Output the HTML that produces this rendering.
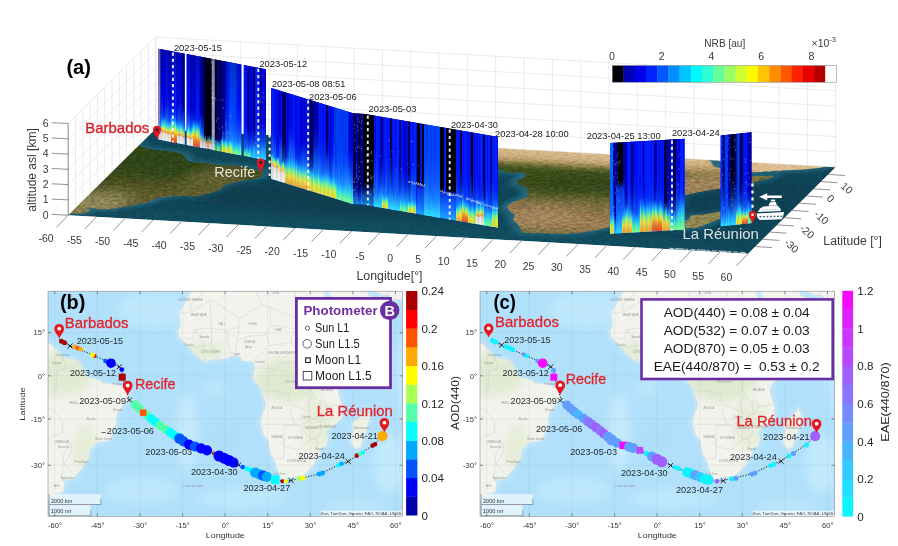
<!DOCTYPE html>
<html lang="en"><head><meta charset="utf-8"><title>Ship-borne lidar and photometer transect</title>
<style>
html,body{margin:0;padding:0;background:#fff;overflow:hidden;}
body{width:898px;height:546px;overflow:hidden;}
svg{display:block;font-family:"Liberation Sans", Arial, Helvetica, sans-serif;}
</style></head><body>
<svg width="898" height="546" viewBox="0 0 898 546">
<defs><clipPath id="cf"><polygon points="68.2,215.2 155.7,128.7 835.7,167.2 748.2,253.7"/></clipPath><filter id="b1" x="-20%" y="-20%" width="140%" height="140%"><feGaussianBlur stdDeviation="0.5"/></filter><filter id="f1" x="-5%" y="-5%" width="110%" height="110%"><feGaussianBlur stdDeviation="0.1 0.35"/></filter><filter id="f3" x="-20%" y="-20%" width="140%" height="140%"><feGaussianBlur stdDeviation="0.5 1.8"/></filter><filter id="f6" x="-30%" y="-30%" width="160%" height="160%"><feGaussianBlur stdDeviation="1.2 4"/></filter><filter id="b3" x="-20%" y="-20%" width="140%" height="140%"><feGaussianBlur stdDeviation="2.2"/></filter><filter id="b6" x="-30%" y="-30%" width="160%" height="160%"><feGaussianBlur stdDeviation="5"/></filter><linearGradient id="gaf" gradientUnits="userSpaceOnUse" x1="0" y1="20" x2="0" y2="-36">
<stop offset="0" stop-color="#d2b384"/><stop offset="0.07" stop-color="#c9a676"/><stop offset="0.125" stop-color="#a89058"/>
<stop offset="0.18" stop-color="#62662f"/><stop offset="0.23" stop-color="#3e501b"/><stop offset="0.357" stop-color="#364a18"/>
<stop offset="0.464" stop-color="#485322"/><stop offset="0.554" stop-color="#686434"/><stop offset="0.625" stop-color="#857045"/>
<stop offset="0.714" stop-color="#967850"/><stop offset="0.84" stop-color="#9c7d53"/><stop offset="0.93" stop-color="#87744a"/><stop offset="0.98" stop-color="#6e673d"/></linearGradient><linearGradient id="gsa" gradientUnits="userSpaceOnUse" x1="-62" y1="12" x2="-38" y2="-40">
<stop offset="0" stop-color="#2f4616"/><stop offset="0.3" stop-color="#34481a"/><stop offset="0.48" stop-color="#474e20"/>
<stop offset="0.66" stop-color="#5c5a2c"/><stop offset="0.85" stop-color="#70683b"/><stop offset="1" stop-color="#847a4e"/></linearGradient><clipPath id="cland"><polygon points="-75,12 -72,12 -70,12 -68,10.5 -64,10.5 -62,10.7 -61,9.5 -60,8.5 -58.5,7 -57,6 -55,5.9 -53,5.5 -51.5,4.5 -50,1.8 -49.5,0.5 -48.5,-0.5 -47.5,-0.6 -45,-0.9 -44,-1.6 -42,-1.4 -40,-1.3 -38.5,-2.0 -37,-3.0 -35.0,-4.0 -34.3,-6.6 -34.6,-9 -36.5,-10.5 -37.5,-12 -38.5,-13 -39,-15 -39,-17.5 -39.7,-19.5 -40.5,-21 -41,-22 -42,-23 -44.5,-23.2 -46.3,-24 -48,-25.5 -48.6,-27 -48.7,-28.5 -50,-30 -51,-31.5 -52.2,-32.5 -53.5,-34 -54.9,-34.9 -56.5,-34.8 -58.4,-34.3 -57.2,-36 -57.5,-38 -59,-38.7 -62,-39 -62.3,-40.5 -65,-41 -65,-43 -64.5,-45 -67,-46 -75,-47"/><polygon points="-6,36 -9.5,31 -10,29 -13,27.5 -15,24 -17,21 -16.5,19 -16.5,16 -17.5,14.7 -16.7,12.5 -15,11 -13.5,9.5 -13,8.5 -11.5,7 -9.5,5.5 -7.5,4.4 -5,5 -3,5.1 -1,5.3 1,6 3,6.4 4.5,6.2 5.5,4.5 7,4.4 8.5,4.6 9.5,3.8 9.8,2 9.3,0.5 9,-1 10,-3 11.5,-4.5 12.2,-6 13,-8.5 13.7,-11 12.5,-13.5 11.8,-16 11.8,-18 13,-21 14.5,-23 14.8,-25 15.2,-27 16.5,-29 17.5,-31.5 18.3,-33 18.5,-34.3 20,-34.8 22,-34.2 24,-34.1 25.7,-34 27.5,-33.2 29,-32 30.5,-30.5 31.5,-29 32.8,-27 32.8,-25.5 35,-24.5 35.5,-22 34.8,-20 36.5,-18.5 38.5,-17 40.5,-15.5 40.7,-13 40.5,-10.5 39.5,-8 39,-6 39.5,-4 41,-2 43,0.5 45.5,2.5 48,5 49.5,8 51,10.5 51.2,11.8 49,11.3 46,10.8 44,10.5 43.2,11.5 43,12.8 41,15 39.5,16 38.5,18.5 37.3,20.5 37,22 35.5,24 34.5,27 32.5,30 32.3,31.2 30,31.3 25,31.8 20,32 19,30.3 15,32.5 11,33.5 10,37 5,36.8 0,35.8 -3,35.2"/><polygon points="49.3,-12 50.3,-15.5 49.5,-17.5 48.8,-20 47.8,-23 47,-25 45.3,-25.5 44,-24.5 43.5,-22 44.3,-20 44,-17 46,-15.8 48,-13.5"/><polygon points="34.9,29.5 36.5,26 38.5,22.5 39.5,20 41,18 42.5,15.5 43.3,12.8 45,12.8 48,14 52,16 55,17.3 57.5,19 59.8,22.5 58.5,23.7 56.5,24.5 56.3,26.3 54,24.2 51.5,24.3 51.3,26 50.2,26.5 48,29.5 50,30.2 52,27.8 55,26.7 57,27 58,25.5 62,25.2 70,25.4 70,40 34.9,40"/></clipPath><filter id="noise" x="0" y="0" width="100%" height="100%" color-interpolation-filters="sRGB"><feTurbulence type="fractalNoise" baseFrequency="0.22 0.5" numOctaves="3" seed="11"/><feColorMatrix type="matrix" values="1.6 0 0 0 -0.3  1.6 0 0 0 -0.3  1.6 0 0 0 -0.3  0 0 0 0 1"/></filter><linearGradient id="blw" x1="0" y1="0" x2="0" y2="1"><stop offset="0" stop-color="#fff4ee" stop-opacity="1"/><stop offset="0.3" stop-color="#ffdccc" stop-opacity="1"/><stop offset="0.36" stop-color="#ff9a30" stop-opacity="1"/><stop offset="0.46" stop-color="#ffe830" stop-opacity="1"/><stop offset="0.58" stop-color="#70ffa0" stop-opacity="0.95"/><stop offset="0.72" stop-color="#20d0ff" stop-opacity="0.8"/><stop offset="1" stop-color="#1080ff" stop-opacity="0"/></linearGradient><linearGradient id="blW" x1="0" y1="0" x2="0" y2="1"><stop offset="0" stop-color="#fff2ea" stop-opacity="1"/><stop offset="0.5" stop-color="#ffe0cc" stop-opacity="1"/><stop offset="0.58" stop-color="#ffb050" stop-opacity="1"/><stop offset="0.68" stop-color="#ffe830" stop-opacity="1"/><stop offset="0.8" stop-color="#80ff90" stop-opacity="0.95"/><stop offset="0.9" stop-color="#20d0ff" stop-opacity="0.8"/><stop offset="1" stop-color="#1080ff" stop-opacity="0"/></linearGradient><linearGradient id="blp" x1="0" y1="0" x2="0" y2="1"><stop offset="0" stop-color="#f4e4e0" stop-opacity="1"/><stop offset="0.4" stop-color="#e8c8c0" stop-opacity="1"/><stop offset="0.5" stop-color="#f0b060" stop-opacity="0.9"/><stop offset="0.65" stop-color="#70e0c0" stop-opacity="0.8"/><stop offset="1" stop-color="#1080ff" stop-opacity="0"/></linearGradient><linearGradient id="blr" x1="0" y1="0" x2="0" y2="1"><stop offset="0" stop-color="#ff3a10" stop-opacity="1"/><stop offset="0.22" stop-color="#ff7a10" stop-opacity="1"/><stop offset="0.42" stop-color="#ffe020" stop-opacity="1"/><stop offset="0.58" stop-color="#80ff80" stop-opacity="0.95"/><stop offset="0.74" stop-color="#20d0ff" stop-opacity="0.8"/><stop offset="1" stop-color="#1080ff" stop-opacity="0"/></linearGradient><linearGradient id="bly" x1="0" y1="0" x2="0" y2="1"><stop offset="0" stop-color="#ffd820" stop-opacity="1"/><stop offset="0.28" stop-color="#e0f030" stop-opacity="1"/><stop offset="0.5" stop-color="#70ff90" stop-opacity="0.95"/><stop offset="0.72" stop-color="#20d0ff" stop-opacity="0.75"/><stop offset="1" stop-color="#1080ff" stop-opacity="0"/></linearGradient><linearGradient id="blg" x1="0" y1="0" x2="0" y2="1"><stop offset="0" stop-color="#90ff70" stop-opacity="1"/><stop offset="0.35" stop-color="#40f0c0" stop-opacity="0.95"/><stop offset="0.65" stop-color="#20c0ff" stop-opacity="0.7"/><stop offset="1" stop-color="#1080ff" stop-opacity="0"/></linearGradient><linearGradient id="blc" x1="0" y1="0" x2="0" y2="1"><stop offset="0" stop-color="#30e0ff" stop-opacity="1"/><stop offset="0.5" stop-color="#20a8ff" stop-opacity="0.8"/><stop offset="1" stop-color="#1070ff" stop-opacity="0"/></linearGradient><linearGradient id="bla" x1="0" y1="0" x2="0" y2="1"><stop offset="0" stop-color="#22a4ff" stop-opacity="0.95"/><stop offset="0.4" stop-color="#1674ff" stop-opacity="0.7"/><stop offset="1" stop-color="#0840ff" stop-opacity="0"/></linearGradient><linearGradient id="blh" x1="0" y1="0" x2="0" y2="1"><stop offset="0" stop-color="#34dcff" stop-opacity="0.95"/><stop offset="0.35" stop-color="#26a8ff" stop-opacity="0.75"/><stop offset="1" stop-color="#1060ff" stop-opacity="0"/></linearGradient><linearGradient id="blu" x1="0" y1="0" x2="0" y2="1"><stop offset="0" stop-color="#1c90ff" stop-opacity="1"/><stop offset="0.55" stop-color="#0c50f4" stop-opacity="1"/><stop offset="0.85" stop-color="#0a34e4" stop-opacity="0.95"/><stop offset="1" stop-color="#0a30e0" stop-opacity="0"/></linearGradient><linearGradient id="blo" x1="0" y1="0" x2="0" y2="1"><stop offset="0" stop-color="#ff9a20" stop-opacity="1"/><stop offset="0.3" stop-color="#ffe030" stop-opacity="1"/><stop offset="0.5" stop-color="#90ff70" stop-opacity="0.95"/><stop offset="0.7" stop-color="#20d0ff" stop-opacity="0.8"/><stop offset="1" stop-color="#1080ff" stop-opacity="0"/></linearGradient><linearGradient id="dtop" x1="0" y1="0" x2="0" y2="1"><stop offset="0" stop-color="#000028" stop-opacity="0"/><stop offset="0.5" stop-color="#000028" stop-opacity="0"/><stop offset="1" stop-color="#000028" stop-opacity="0.22"/></linearGradient><clipPath id="cm"><rect x="48.0" y="291.2" width="354.6" height="225.1"/></clipPath><linearGradient id="gland" x1="0" y1="0" x2="0" y2="1"><stop offset="0" stop-color="#f5f4f0"/><stop offset="1" stop-color="#f0efe6"/></linearGradient><clipPath id="clandm"><path d="M14.1 339.7L22.6 339.7L28.3 339.7L34.0 344.0L45.3 344.0L51.0 343.4L53.9 346.9L56.7 349.8L60.4 355.2L64.4 358.4L70.0 358.6L75.7 359.8L80.0 363.2L82.8 369.7L84.2 374.0L87.9 377.4L91.3 377.4L99.3 380.2L102.1 382.8L107.8 383.4L113.5 383.7L117.8 384.5L122.0 387.6L126.8 388.8L128.3 393.9L127.7 399.7L123.4 404.0L120.6 408.3L117.8 411.2L116.3 417.1L116.3 424.5L114.4 430.5L112.1 435.0L110.7 438.1L107.8 441.1L100.7 441.8L95.6 444.2L90.8 448.9L89.1 453.7L88.8 458.5L85.1 463.4L82.3 468.3L78.9 471.7L75.2 476.8L71.2 479.9L66.6 479.5L61.2 477.8L64.7 483.7L63.8 490.8L59.5 493.4L51.0 494.5L50.2 500.0L42.5 501.9L42.5 509.5L43.9 517.4L36.8 521.5L14.1 525.6ZM210.1 264.3L200.1 281.3L198.7 287.9L190.2 292.7L184.5 303.8L178.8 313.0L180.2 319.0L180.2 328.0L177.4 331.8L179.7 338.2L184.5 342.6L188.8 346.9L190.2 349.8L194.4 354.1L200.1 358.4L205.8 361.5L212.9 359.8L218.6 359.5L224.3 358.9L229.9 356.9L235.6 355.8L239.9 356.4L242.7 361.2L247.0 361.5L251.2 360.9L254.1 363.2L254.9 368.3L253.5 372.6L252.7 376.8L255.5 382.5L259.8 386.8L261.7 391.1L264.0 398.2L266.0 405.4L262.6 412.7L260.6 420.0L260.6 426.0L264.0 435.0L268.3 441.1L269.1 447.4L270.3 453.7L274.0 460.1L276.8 468.3L279.1 473.4L279.6 477.8L283.9 479.5L289.6 477.5L295.3 477.1L300.1 476.8L305.2 474.1L309.5 470.0L313.7 465.0L316.6 460.1L320.3 453.7L320.3 448.9L326.5 445.8L327.9 438.1L325.9 432.0L330.8 427.5L336.4 423.0L342.1 418.6L342.7 411.2L342.1 404.0L339.3 396.8L337.9 391.1L339.3 385.4L343.5 379.7L349.2 372.6L356.3 366.9L363.4 359.8L367.7 351.2L371.9 344.0L372.5 340.2L366.3 341.7L357.7 343.1L352.1 344.0L349.8 341.1L349.2 337.3L343.5 330.9L339.3 328.0L336.4 320.5L333.0 314.5L332.2 309.9L327.9 303.8L325.1 294.3L319.4 284.6L318.8 280.7L312.3 280.3L298.1 278.7L283.9 278.0L281.1 283.6L269.7 276.3L258.3 272.9L255.5 260.7L241.3 261.5L227.1 265.0L218.6 267.1ZM367.1 408.3L370.0 418.6L367.7 424.5L365.7 432.0L362.9 441.1L360.6 447.4L355.8 448.9L352.1 445.8L350.6 438.1L352.9 432.0L352.1 423.0L357.7 419.5L363.4 412.7ZM326.2 286.3L330.8 297.5L336.4 308.4L339.3 316.0L343.5 322.0L347.8 329.4L350.1 337.3L354.9 337.3L363.4 333.8L374.8 328.0L383.3 324.1L390.4 319.0L396.9 308.4L393.2 304.7L387.6 302.2L387.0 296.5L380.5 303.1L373.4 302.8L372.8 297.5L369.7 295.9L363.4 286.3L369.1 284.0L374.8 291.8L383.3 295.3L389.0 294.3L391.8 299.1L403.2 300.0L425.9 299.4L425.9 249.9L326.2 249.9Z"/></clipPath><clipPath id="cocean"><path clip-rule="evenodd" d="M28.0 271.2H422.6V536.3H28.0ZM14.1 339.7L22.6 339.7L28.3 339.7L34.0 344.0L45.3 344.0L51.0 343.4L53.9 346.9L56.7 349.8L60.4 355.2L64.4 358.4L70.0 358.6L75.7 359.8L80.0 363.2L82.8 369.7L84.2 374.0L87.9 377.4L91.3 377.4L99.3 380.2L102.1 382.8L107.8 383.4L113.5 383.7L117.8 384.5L122.0 387.6L126.8 388.8L128.3 393.9L127.7 399.7L123.4 404.0L120.6 408.3L117.8 411.2L116.3 417.1L116.3 424.5L114.4 430.5L112.1 435.0L110.7 438.1L107.8 441.1L100.7 441.8L95.6 444.2L90.8 448.9L89.1 453.7L88.8 458.5L85.1 463.4L82.3 468.3L78.9 471.7L75.2 476.8L71.2 479.9L66.6 479.5L61.2 477.8L64.7 483.7L63.8 490.8L59.5 493.4L51.0 494.5L50.2 500.0L42.5 501.9L42.5 509.5L43.9 517.4L36.8 521.5L14.1 525.6ZM210.1 264.3L200.1 281.3L198.7 287.9L190.2 292.7L184.5 303.8L178.8 313.0L180.2 319.0L180.2 328.0L177.4 331.8L179.7 338.2L184.5 342.6L188.8 346.9L190.2 349.8L194.4 354.1L200.1 358.4L205.8 361.5L212.9 359.8L218.6 359.5L224.3 358.9L229.9 356.9L235.6 355.8L239.9 356.4L242.7 361.2L247.0 361.5L251.2 360.9L254.1 363.2L254.9 368.3L253.5 372.6L252.7 376.8L255.5 382.5L259.8 386.8L261.7 391.1L264.0 398.2L266.0 405.4L262.6 412.7L260.6 420.0L260.6 426.0L264.0 435.0L268.3 441.1L269.1 447.4L270.3 453.7L274.0 460.1L276.8 468.3L279.1 473.4L279.6 477.8L283.9 479.5L289.6 477.5L295.3 477.1L300.1 476.8L305.2 474.1L309.5 470.0L313.7 465.0L316.6 460.1L320.3 453.7L320.3 448.9L326.5 445.8L327.9 438.1L325.9 432.0L330.8 427.5L336.4 423.0L342.1 418.6L342.7 411.2L342.1 404.0L339.3 396.8L337.9 391.1L339.3 385.4L343.5 379.7L349.2 372.6L356.3 366.9L363.4 359.8L367.7 351.2L371.9 344.0L372.5 340.2L366.3 341.7L357.7 343.1L352.1 344.0L349.8 341.1L349.2 337.3L343.5 330.9L339.3 328.0L336.4 320.5L333.0 314.5L332.2 309.9L327.9 303.8L325.1 294.3L319.4 284.6L318.8 280.7L312.3 280.3L298.1 278.7L283.9 278.0L281.1 283.6L269.7 276.3L258.3 272.9L255.5 260.7L241.3 261.5L227.1 265.0L218.6 267.1ZM367.1 408.3L370.0 418.6L367.7 424.5L365.7 432.0L362.9 441.1L360.6 447.4L355.8 448.9L352.1 445.8L350.6 438.1L352.9 432.0L352.1 423.0L357.7 419.5L363.4 412.7Z"/></clipPath></defs>
<rect width="898" height="546" fill="#fff"/>
<path d="M68.2 215.2L68.2 123.5M75.5 208.0L75.5 116.3M82.8 200.8L82.8 109.1M90.1 193.6L90.1 101.9M97.4 186.4L97.4 94.7M104.7 179.2L104.7 87.5M112.0 171.9L112.0 80.2M119.2 164.7L119.2 73.0M126.5 157.5L126.5 65.8M133.8 150.3L133.8 58.6M141.1 143.1L141.1 51.4M148.4 135.9L148.4 44.2M155.7 128.7L155.7 37.0M68.2 215.2L155.7 128.7L835.7 167.2M68.2 199.9L155.7 113.4L835.7 151.9M68.2 184.6L155.7 98.1L835.7 136.6M68.2 169.3L155.7 82.8L835.7 121.3M68.2 154.1L155.7 67.6L835.7 106.1M68.2 138.8L155.7 52.3L835.7 90.8M68.2 123.5L155.7 37.0L835.7 75.5M155.7 128.7L155.7 37.0M184.0 130.3L184.0 38.6M212.4 131.9L212.4 40.2M240.7 133.5L240.7 41.8M269.0 135.1L269.0 43.4M297.4 136.7L297.4 45.0M325.7 138.3L325.7 46.6M354.0 139.9L354.0 48.2M382.4 141.5L382.4 49.8M410.7 143.1L410.7 51.4M439.0 144.7L439.0 53.0M467.4 146.3L467.4 54.6M495.7 147.9L495.7 56.2M524.0 149.6L524.0 57.9M552.4 151.2L552.4 59.5M580.7 152.8L580.7 61.1M609.0 154.4L609.0 62.7M637.4 156.0L637.4 64.3M665.7 157.6L665.7 65.9M694.0 159.2L694.0 67.5M722.4 160.8L722.4 69.1M750.7 162.4L750.7 70.7M779.0 164.0L779.0 72.3M807.4 165.6L807.4 73.9M835.7 167.2L835.7 75.5" stroke="#e6e6e6" stroke-width="0.8" fill="none"/>
<g clip-path="url(#cf)">
<polygon points="68.2,215.2 155.7,128.7 835.7,167.2 748.2,253.7" fill="#0f4558"/>
<g transform="matrix(5.66667,0.32083,1.45833,-1.44167,466.533,176.783)">
<g filter="url(#f3)" fill="#256b80" stroke="#256b80" stroke-width="2.4" stroke-linejoin="round" opacity="0.95">
<polygon points="-75,12 -72,12 -70,12 -68,10.5 -64,10.5 -62,10.7 -61,9.5 -60,8.5 -58.5,7 -57,6 -55,5.9 -53,5.5 -51.5,4.5 -50,1.8 -49.5,0.5 -48.5,-0.5 -47.5,-0.6 -45,-0.9 -44,-1.6 -42,-1.4 -40,-1.3 -38.5,-2.0 -37,-3.0 -35.0,-4.0 -34.3,-6.6 -34.6,-9 -36.5,-10.5 -37.5,-12 -38.5,-13 -39,-15 -39,-17.5 -39.7,-19.5 -40.5,-21 -41,-22 -42,-23 -44.5,-23.2 -46.3,-24 -48,-25.5 -48.6,-27 -48.7,-28.5 -50,-30 -51,-31.5 -52.2,-32.5 -53.5,-34 -54.9,-34.9 -56.5,-34.8 -58.4,-34.3 -57.2,-36 -57.5,-38 -59,-38.7 -62,-39 -62.3,-40.5 -65,-41 -65,-43 -64.5,-45 -67,-46 -75,-47"/>
<polygon points="-6,36 -9.5,31 -10,29 -13,27.5 -15,24 -17,21 -16.5,19 -16.5,16 -17.5,14.7 -16.7,12.5 -15,11 -13.5,9.5 -13,8.5 -11.5,7 -9.5,5.5 -7.5,4.4 -5,5 -3,5.1 -1,5.3 1,6 3,6.4 4.5,6.2 5.5,4.5 7,4.4 8.5,4.6 9.5,3.8 9.8,2 9.3,0.5 9,-1 10,-3 11.5,-4.5 12.2,-6 13,-8.5 13.7,-11 12.5,-13.5 11.8,-16 11.8,-18 13,-21 14.5,-23 14.8,-25 15.2,-27 16.5,-29 17.5,-31.5 18.3,-33 18.5,-34.3 20,-34.8 22,-34.2 24,-34.1 25.7,-34 27.5,-33.2 29,-32 30.5,-30.5 31.5,-29 32.8,-27 32.8,-25.5 35,-24.5 35.5,-22 34.8,-20 36.5,-18.5 38.5,-17 40.5,-15.5 40.7,-13 40.5,-10.5 39.5,-8 39,-6 39.5,-4 41,-2 43,0.5 45.5,2.5 48,5 49.5,8 51,10.5 51.2,11.8 49,11.3 46,10.8 44,10.5 43.2,11.5 43,12.8 41,15 39.5,16 38.5,18.5 37.3,20.5 37,22 35.5,24 34.5,27 32.5,30 32.3,31.2 30,31.3 25,31.8 20,32 19,30.3 15,32.5 11,33.5 10,37 5,36.8 0,35.8 -3,35.2"/>
<polygon points="49.3,-12 50.3,-15.5 49.5,-17.5 48.8,-20 47.8,-23 47,-25 45.3,-25.5 44,-24.5 43.5,-22 44.3,-20 44,-17 46,-15.8 48,-13.5"/>
<polygon points="34.9,29.5 36.5,26 38.5,22.5 39.5,20 41,18 42.5,15.5 43.3,12.8 45,12.8 48,14 52,16 55,17.3 57.5,19 59.8,22.5 58.5,23.7 56.5,24.5 56.3,26.3 54,24.2 51.5,24.3 51.3,26 50.2,26.5 48,29.5 50,30.2 52,27.8 55,26.7 57,27 58,25.5 62,25.2 70,25.4 70,40 34.9,40"/>
</g>
<g filter="url(#f6)" opacity="0.6"><ellipse cx="-20" cy="-20" rx="25" ry="10" fill="#0a3a4c"/><ellipse cx="50" cy="-5" rx="12" ry="14" fill="#0b3c4e"/><ellipse cx="-15" cy="5" rx="14" ry="6" fill="#17586a"/><ellipse cx="0" cy="-38" rx="60" ry="4" fill="#17586a"/></g>
<g filter="url(#f1)">
<polygon points="-75,12 -72,12 -70,12 -68,10.5 -64,10.5 -62,10.7 -61,9.5 -60,8.5 -58.5,7 -57,6 -55,5.9 -53,5.5 -51.5,4.5 -50,1.8 -49.5,0.5 -48.5,-0.5 -47.5,-0.6 -45,-0.9 -44,-1.6 -42,-1.4 -40,-1.3 -38.5,-2.0 -37,-3.0 -35.0,-4.0 -34.3,-6.6 -34.6,-9 -36.5,-10.5 -37.5,-12 -38.5,-13 -39,-15 -39,-17.5 -39.7,-19.5 -40.5,-21 -41,-22 -42,-23 -44.5,-23.2 -46.3,-24 -48,-25.5 -48.6,-27 -48.7,-28.5 -50,-30 -51,-31.5 -52.2,-32.5 -53.5,-34 -54.9,-34.9 -56.5,-34.8 -58.4,-34.3 -57.2,-36 -57.5,-38 -59,-38.7 -62,-39 -62.3,-40.5 -65,-41 -65,-43 -64.5,-45 -67,-46 -75,-47" fill="url(#gsa)"/>
<polygon points="-6,36 -9.5,31 -10,29 -13,27.5 -15,24 -17,21 -16.5,19 -16.5,16 -17.5,14.7 -16.7,12.5 -15,11 -13.5,9.5 -13,8.5 -11.5,7 -9.5,5.5 -7.5,4.4 -5,5 -3,5.1 -1,5.3 1,6 3,6.4 4.5,6.2 5.5,4.5 7,4.4 8.5,4.6 9.5,3.8 9.8,2 9.3,0.5 9,-1 10,-3 11.5,-4.5 12.2,-6 13,-8.5 13.7,-11 12.5,-13.5 11.8,-16 11.8,-18 13,-21 14.5,-23 14.8,-25 15.2,-27 16.5,-29 17.5,-31.5 18.3,-33 18.5,-34.3 20,-34.8 22,-34.2 24,-34.1 25.7,-34 27.5,-33.2 29,-32 30.5,-30.5 31.5,-29 32.8,-27 32.8,-25.5 35,-24.5 35.5,-22 34.8,-20 36.5,-18.5 38.5,-17 40.5,-15.5 40.7,-13 40.5,-10.5 39.5,-8 39,-6 39.5,-4 41,-2 43,0.5 45.5,2.5 48,5 49.5,8 51,10.5 51.2,11.8 49,11.3 46,10.8 44,10.5 43.2,11.5 43,12.8 41,15 39.5,16 38.5,18.5 37.3,20.5 37,22 35.5,24 34.5,27 32.5,30 32.3,31.2 30,31.3 25,31.8 20,32 19,30.3 15,32.5 11,33.5 10,37 5,36.8 0,35.8 -3,35.2" fill="url(#gaf)"/>
<polygon points="49.3,-12 50.3,-15.5 49.5,-17.5 48.8,-20 47.8,-23 47,-25 45.3,-25.5 44,-24.5 43.5,-22 44.3,-20 44,-17 46,-15.8 48,-13.5" fill="#8f8450"/>
<polygon points="34.9,29.5 36.5,26 38.5,22.5 39.5,20 41,18 42.5,15.5 43.3,12.8 45,12.8 48,14 52,16 55,17.3 57.5,19 59.8,22.5 58.5,23.7 56.5,24.5 56.3,26.3 54,24.2 51.5,24.3 51.3,26 50.2,26.5 48,29.5 50,30.2 52,27.8 55,26.7 57,27 58,25.5 62,25.2 70,25.4 70,40 34.9,40" fill="#dcbd90"/>
</g>
<g filter="url(#f6)" clip-path="url(#cland)">
<ellipse cx="-52" cy="-3" rx="10" ry="8" fill="#2c4314" opacity="0.95"/>
<ellipse cx="-42" cy="-10" rx="5" ry="7" fill="#6f6a38" opacity="0.6"/>
<ellipse cx="-57" cy="-31" rx="5" ry="8" fill="#9a9062" opacity="0.8"/>
<ellipse cx="22" cy="-1" rx="10" ry="5" fill="#324616" opacity="0.9"/>
<ellipse cx="20" cy="-23" rx="6" ry="5" fill="#a88a62" opacity="0.7"/>
<ellipse cx="28" cy="-14" rx="8" ry="4" fill="#6f6a38" opacity="0.7"/>
<ellipse cx="42" cy="3" rx="8" ry="10" fill="#a5855c" opacity="0.95"/>
<ellipse cx="15" cy="18.5" rx="25" ry="2.5" fill="#e0c79c" opacity="0.8"/>
</g>
</g>
<g transform="matrix(5.66667,0.32083,1.45833,-1.44167,466.533,176.783)" clip-path="url(#cland)" style="mix-blend-mode:overlay" opacity="0.13"><g transform="matrix(0.166911,0.037145,0.168841,-0.656067,-107.71789,98.65238)"><rect x="60" y="120" width="790" height="140" filter="url(#noise)"/></g></g>
<rect x="60" y="120" width="790" height="140" filter="url(#noise)" opacity="0.08" style="mix-blend-mode:overlay"/>
</g>
<path d="M68.2 215.2L68.2 123.5M68.2 215.2L51.7 214.4M68.2 199.9L51.7 199.1M68.2 184.6L51.7 183.8M68.2 169.3L51.7 168.5M68.2 154.1L51.7 153.3M68.2 138.8L51.7 138.0M68.2 123.5L51.7 122.7M68.2 215.2L56.5 227.4M96.5 216.8L84.8 229.0M124.9 218.4L113.2 230.6M153.2 220.0L141.5 232.2M181.5 221.6L169.8 233.8M209.9 223.2L198.2 235.4M238.2 224.8L226.5 237.0M266.5 226.4L254.8 238.6M294.9 228.0L283.2 240.2M323.2 229.6L311.5 241.8M351.5 231.2L339.8 243.4M379.9 232.8L368.2 245.0M408.2 234.4L396.5 246.6M436.5 236.1L424.8 248.3M464.9 237.7L453.2 249.9M493.2 239.3L481.5 251.5M521.5 240.9L509.8 253.1M549.9 242.5L538.2 254.7M578.2 244.1L566.5 256.3M606.5 245.7L594.8 257.9M634.9 247.3L623.2 259.5M663.2 248.9L651.5 261.1M691.5 250.5L679.8 262.7M719.9 252.1L708.2 264.3M748.2 253.7L736.5 265.9M755.5 246.5L772.0 247.6M762.8 239.3L779.3 240.4M770.1 232.1L786.6 233.2M777.4 224.9L793.9 226.0M784.7 217.7L801.2 218.8M792.0 210.4L808.5 211.5M799.2 203.2L815.7 204.3M806.5 196.0L823.0 197.1M813.8 188.8L830.3 189.9M821.1 181.6L837.6 182.7M828.4 174.4L844.9 175.5" stroke="#4a4a4a" stroke-width="0.6" fill="none"/>
<text x="48.5" y="218.5" font-size="10.5" fill="#3a3a3a" text-anchor="end">0</text>
<text x="48.5" y="203.2" font-size="10.5" fill="#3a3a3a" text-anchor="end">1</text>
<text x="48.5" y="187.9" font-size="10.5" fill="#3a3a3a" text-anchor="end">2</text>
<text x="48.5" y="172.7" font-size="10.5" fill="#3a3a3a" text-anchor="end">3</text>
<text x="48.5" y="157.4" font-size="10.5" fill="#3a3a3a" text-anchor="end">4</text>
<text x="48.5" y="142.1" font-size="10.5" fill="#3a3a3a" text-anchor="end">5</text>
<text x="48.5" y="126.8" font-size="10.5" fill="#3a3a3a" text-anchor="end">6</text>
<text x="53.6" y="242.1" font-size="10.5" fill="#3a3a3a" text-anchor="end">-60</text>
<text x="81.9" y="243.7" font-size="10.5" fill="#3a3a3a" text-anchor="end">-55</text>
<text x="110.2" y="245.4" font-size="10.5" fill="#3a3a3a" text-anchor="end">-50</text>
<text x="138.4" y="247.0" font-size="10.5" fill="#3a3a3a" text-anchor="end">-45</text>
<text x="166.7" y="248.6" font-size="10.5" fill="#3a3a3a" text-anchor="end">-40</text>
<text x="195.0" y="250.3" font-size="10.5" fill="#3a3a3a" text-anchor="end">-35</text>
<text x="223.3" y="251.9" font-size="10.5" fill="#3a3a3a" text-anchor="end">-30</text>
<text x="251.6" y="253.5" font-size="10.5" fill="#3a3a3a" text-anchor="end">-25</text>
<text x="279.8" y="255.1" font-size="10.5" fill="#3a3a3a" text-anchor="end">-20</text>
<text x="308.1" y="256.8" font-size="10.5" fill="#3a3a3a" text-anchor="end">-15</text>
<text x="336.4" y="258.4" font-size="10.5" fill="#3a3a3a" text-anchor="end">-10</text>
<text x="364.7" y="260.0" font-size="10.5" fill="#3a3a3a" text-anchor="end">-5</text>
<text x="393.0" y="261.7" font-size="10.5" fill="#3a3a3a" text-anchor="end">0</text>
<text x="421.2" y="263.3" font-size="10.5" fill="#3a3a3a" text-anchor="end">5</text>
<text x="449.5" y="264.9" font-size="10.5" fill="#3a3a3a" text-anchor="end">10</text>
<text x="477.8" y="266.6" font-size="10.5" fill="#3a3a3a" text-anchor="end">15</text>
<text x="506.1" y="268.2" font-size="10.5" fill="#3a3a3a" text-anchor="end">20</text>
<text x="534.4" y="269.8" font-size="10.5" fill="#3a3a3a" text-anchor="end">25</text>
<text x="562.6" y="271.4" font-size="10.5" fill="#3a3a3a" text-anchor="end">30</text>
<text x="590.9" y="273.1" font-size="10.5" fill="#3a3a3a" text-anchor="end">35</text>
<text x="619.2" y="274.7" font-size="10.5" fill="#3a3a3a" text-anchor="end">40</text>
<text x="647.5" y="276.3" font-size="10.5" fill="#3a3a3a" text-anchor="end">45</text>
<text x="675.8" y="278.0" font-size="10.5" fill="#3a3a3a" text-anchor="end">50</text>
<text x="704.0" y="279.6" font-size="10.5" fill="#3a3a3a" text-anchor="end">55</text>
<text x="732.3" y="281.2" font-size="10.5" fill="#3a3a3a" text-anchor="end">60</text>
<text font-size="10.5" fill="#3a3a3a" text-anchor="middle" transform="translate(847.0 188.0) rotate(42)" y="3.8">10</text>
<text font-size="10.5" fill="#3a3a3a" text-anchor="middle" transform="translate(830.8 198.4) rotate(42)" y="3.8">0</text>
<text font-size="10.5" fill="#3a3a3a" text-anchor="middle" transform="translate(821.6 217.3) rotate(42)" y="3.8">-10</text>
<text font-size="10.5" fill="#3a3a3a" text-anchor="middle" transform="translate(807.2 231.4) rotate(42)" y="3.8">-20</text>
<text font-size="10.5" fill="#3a3a3a" text-anchor="middle" transform="translate(791.6 245.7) rotate(42)" y="3.8">-30</text>
<text x="389.5" y="280.0" font-size="12" fill="#3a3a3a" text-anchor="middle" textLength="66.0" lengthAdjust="spacingAndGlyphs">Longitude[°]</text>
<text x="852.6" y="245.3" font-size="12" fill="#3a3a3a" text-anchor="middle" textLength="58.5" lengthAdjust="spacingAndGlyphs">Latitude [°]</text>
<text font-size="12" fill="#3a3a3a" text-anchor="middle" transform="translate(35.6 170) rotate(-90)" textLength="83.5" lengthAdjust="spacingAndGlyphs">altitude asl [km]</text>
<path d="M668.9 248.3L745.4 252.6" stroke="#dfe6e8" stroke-width="1.1" opacity="0.75" stroke-dasharray="5 1.5 9 1 3 2"/>
<g transform="matrix(1,0.19150,0,-1,0,109.166)">
<rect x="158.4" y="0" width="26.2" height="90.8" fill="#0004d7"/>
<rect x="158.4" y="0" width="1.3" height="90.8" fill="#9691b9"/>
<rect x="159.4" y="0" width="1.3" height="90.8" fill="#968cb4"/>
<rect x="160.4" y="0" width="1.3" height="90.8" fill="#0008db"/>
<rect x="161.4" y="0" width="1.3" height="90.8" fill="#0000cb"/>
<rect x="162.4" y="0" width="1.3" height="90.8" fill="#0005d8"/>
<rect x="163.4" y="0" width="1.3" height="90.8" fill="#0000d3"/>
<rect x="164.4" y="0" width="1.3" height="90.8" fill="#0000cb"/>
<rect x="165.4" y="0" width="1.3" height="90.8" fill="#0018f5"/>
<rect x="166.4" y="0" width="1.3" height="90.8" fill="#000be8"/>
<rect x="167.4" y="0" width="1.3" height="90.8" fill="#0016f3"/>
<rect x="168.4" y="0" width="1.3" height="90.8" fill="#0000cb"/>
<rect x="169.4" y="0" width="1.3" height="90.8" fill="#0000cc"/>
<rect x="170.4" y="0" width="1.3" height="90.8" fill="#0002d5"/>
<rect x="171.4" y="0" width="1.3" height="90.8" fill="#000de0"/>
<rect x="172.4" y="0" width="1.3" height="90.8" fill="#000dea"/>
<rect x="173.4" y="0" width="1.3" height="90.8" fill="#0010ed"/>
<rect x="174.4" y="0" width="1.3" height="90.8" fill="#001cf9"/>
<rect x="175.4" y="0" width="1.3" height="90.8" fill="#0025ff"/>
<rect x="176.4" y="0" width="1.3" height="90.8" fill="#0006d9"/>
<rect x="177.4" y="0" width="1.3" height="90.8" fill="#0001d4"/>
<rect x="178.4" y="0" width="1.3" height="90.8" fill="#0011e4"/>
<rect x="179.4" y="0" width="1.3" height="90.8" fill="#0000ca"/>
<rect x="180.4" y="0" width="1.3" height="90.8" fill="#000ee1"/>
<rect x="181.4" y="0" width="1.3" height="90.8" fill="#00009a"/>
<rect x="182.4" y="0" width="1.3" height="90.8" fill="#000096"/>
<rect x="183.4" y="0" width="1.2" height="90.8" fill="#000095"/>
<rect x="184.4" y="0" width="0.2" height="90.8" fill="#00009b"/>
<rect x="158.4" y="0" width="26.2" height="90.8" fill="url(#dtop)"/>
<rect x="161.2" y="0" width="2.0" height="51" fill="url(#bla)"/>
<rect x="163.2" y="0" width="2.0" height="37" fill="url(#bla)"/>
<rect x="165.2" y="0" width="2.0" height="46" fill="url(#bla)"/>
<rect x="167.2" y="0" width="2.0" height="47" fill="url(#bla)"/>
<rect x="169.2" y="0" width="2.0" height="41" fill="url(#bla)"/>
<rect x="171.2" y="0" width="2.0" height="45" fill="url(#bla)"/>
<rect x="173.2" y="0" width="2.0" height="34" fill="url(#bla)"/>
<rect x="175.2" y="0" width="2.0" height="34" fill="url(#bla)"/>
<rect x="177.2" y="0" width="2.0" height="38" fill="url(#bla)"/>
<rect x="179.2" y="0" width="2.0" height="48" fill="url(#bla)"/>
<rect x="181.2" y="0" width="2.0" height="42" fill="url(#bla)"/>
<rect x="183.2" y="0" width="1.4" height="40" fill="url(#bla)"/>
<rect x="160.0" y="0" width="1.6" height="32" fill="url(#blh)"/>
<rect x="161.6" y="0" width="1.6" height="29" fill="url(#blh)"/>
<rect x="163.2" y="0" width="1.6" height="26" fill="url(#blh)"/>
<rect x="164.8" y="0" width="1.6" height="35" fill="url(#blh)"/>
<rect x="166.4" y="0" width="1.6" height="34" fill="url(#blh)"/>
<rect x="168.0" y="0" width="1.6" height="25" fill="url(#blh)"/>
<rect x="169.6" y="0" width="1.6" height="31" fill="url(#blh)"/>
<rect x="171.2" y="0" width="1.6" height="30" fill="url(#blh)"/>
<rect x="172.8" y="0" width="1.6" height="37" fill="url(#blh)"/>
<rect x="174.4" y="0" width="1.6" height="34" fill="url(#blh)"/>
<rect x="176.0" y="0" width="1.6" height="26" fill="url(#blh)"/>
<rect x="177.6" y="0" width="1.6" height="39" fill="url(#blh)"/>
<rect x="179.2" y="0" width="1.6" height="23" fill="url(#blh)"/>
<rect x="180.8" y="0" width="1.6" height="29" fill="url(#blh)"/>
<rect x="182.4" y="0" width="1.6" height="35" fill="url(#blh)"/>
<rect x="184.0" y="0" width="0.6" height="24" fill="url(#blh)"/>
<rect x="158.4" y="0" width="1.3" height="19.9" fill="url(#blp)"/>
<rect x="159.7" y="0" width="1.3" height="17.2" fill="url(#blp)"/>
<rect x="161.0" y="0" width="0.5" height="21.0" fill="url(#blp)"/>
<rect x="161.5" y="0" width="1.3" height="25.6" fill="url(#blw)"/>
<rect x="162.8" y="0" width="1.3" height="24.4" fill="url(#blw)"/>
<rect x="164.1" y="0" width="1.3" height="26.3" fill="url(#blw)"/>
<rect x="165.4" y="0" width="0.6" height="22.9" fill="url(#blw)"/>
<rect x="166.0" y="0" width="1.3" height="23.2" fill="url(#blw)"/>
<rect x="167.3" y="0" width="1.3" height="22.6" fill="url(#blw)"/>
<rect x="168.6" y="0" width="1.3" height="22.5" fill="url(#blw)"/>
<rect x="169.9" y="0" width="1.1" height="21.7" fill="url(#blw)"/>
<rect x="171.0" y="0" width="1.3" height="28.0" fill="url(#blr)"/>
<rect x="172.3" y="0" width="1.3" height="28.7" fill="url(#blr)"/>
<rect x="173.6" y="0" width="1.3" height="25.8" fill="url(#blr)"/>
<rect x="174.9" y="0" width="1.3" height="27.0" fill="url(#blr)"/>
<rect x="176.2" y="0" width="0.8" height="23.4" fill="url(#blr)"/>
<rect x="177.0" y="0" width="1.3" height="23.2" fill="url(#blw)"/>
<rect x="178.3" y="0" width="1.3" height="22.9" fill="url(#blw)"/>
<rect x="179.6" y="0" width="1.3" height="25.0" fill="url(#blw)"/>
<rect x="180.9" y="0" width="1.3" height="23.9" fill="url(#blw)"/>
<rect x="182.2" y="0" width="1.3" height="20.7" fill="url(#blw)"/>
<rect x="183.5" y="0" width="1.1" height="21.3" fill="url(#blw)"/>
</g>
<line x1="172.9" y1="52.5" x2="172.9" y2="142.3" stroke="#fff" stroke-width="1.9" stroke-dasharray="3.2 3.1" opacity="0.92"/>
<g transform="matrix(1,0.19150,0,-1,0,109.166)">
<rect x="186.7" y="0" width="54.6" height="90.8" fill="#0004d7"/>
<rect x="186.7" y="0" width="1.3" height="90.8" fill="#001dfa"/>
<rect x="187.7" y="0" width="1.3" height="90.8" fill="#000be8"/>
<rect x="188.7" y="0" width="1.3" height="90.8" fill="#0017f4"/>
<rect x="189.7" y="0" width="1.3" height="90.8" fill="#0000ce"/>
<rect x="190.7" y="0" width="1.3" height="90.8" fill="#0000cc"/>
<rect x="191.7" y="0" width="1.3" height="90.8" fill="#0000cb"/>
<rect x="192.7" y="0" width="1.3" height="90.8" fill="#000cdf"/>
<rect x="193.7" y="0" width="1.3" height="90.8" fill="#0000cd"/>
<rect x="194.7" y="0" width="1.3" height="90.8" fill="#0000d0"/>
<rect x="195.7" y="0" width="1.3" height="90.8" fill="#0015f2"/>
<rect x="196.7" y="0" width="1.3" height="90.8" fill="#0022ff"/>
<rect x="197.7" y="0" width="1.3" height="90.8" fill="#000ce9"/>
<rect x="198.7" y="0" width="1.3" height="90.8" fill="#0017f4"/>
<rect x="199.7" y="0" width="1.3" height="90.8" fill="#0000a1"/>
<rect x="200.7" y="0" width="1.3" height="90.8" fill="#0000ab"/>
<rect x="201.7" y="0" width="1.3" height="90.8" fill="#0000a9"/>
<rect x="202.7" y="0" width="1.3" height="90.8" fill="#00005f"/>
<rect x="203.7" y="0" width="1.3" height="90.8" fill="#00004f"/>
<rect x="204.7" y="0" width="1.3" height="90.8" fill="#000053"/>
<rect x="205.7" y="0" width="1.3" height="90.8" fill="#00000a"/>
<rect x="206.7" y="0" width="1.3" height="90.8" fill="#00000a"/>
<rect x="207.7" y="0" width="1.3" height="90.8" fill="#00000a"/>
<rect x="208.7" y="0" width="1.3" height="90.8" fill="#00000a"/>
<rect x="209.7" y="0" width="1.3" height="90.8" fill="#00000a"/>
<rect x="210.7" y="0" width="1.3" height="90.8" fill="#00000a"/>
<rect x="211.7" y="0" width="1.3" height="90.8" fill="#9692ba"/>
<rect x="212.7" y="0" width="1.3" height="90.8" fill="#96a1c9"/>
<rect x="213.7" y="0" width="1.3" height="90.8" fill="#96a3cb"/>
<rect x="214.7" y="0" width="1.3" height="90.8" fill="#00000a"/>
<rect x="215.7" y="0" width="1.3" height="90.8" fill="#00000a"/>
<rect x="216.7" y="0" width="1.3" height="90.8" fill="#000096"/>
<rect x="217.7" y="0" width="1.3" height="90.8" fill="#000097"/>
<rect x="218.7" y="0" width="1.3" height="90.8" fill="#00004d"/>
<rect x="219.7" y="0" width="1.3" height="90.8" fill="#00004e"/>
<rect x="220.7" y="0" width="1.3" height="90.8" fill="#000055"/>
<rect x="221.7" y="0" width="1.3" height="90.8" fill="#0000a2"/>
<rect x="222.7" y="0" width="1.3" height="90.8" fill="#000099"/>
<rect x="223.7" y="0" width="1.3" height="90.8" fill="#000092"/>
<rect x="224.7" y="0" width="1.3" height="90.8" fill="#00009e"/>
<rect x="225.7" y="0" width="1.3" height="90.8" fill="#0014f1"/>
<rect x="226.7" y="0" width="1.3" height="90.8" fill="#001af7"/>
<rect x="227.7" y="0" width="1.3" height="90.8" fill="#0025ff"/>
<rect x="228.7" y="0" width="1.3" height="90.8" fill="#001dfa"/>
<rect x="229.7" y="0" width="1.3" height="90.8" fill="#0042f8"/>
<rect x="230.7" y="0" width="1.3" height="90.8" fill="#0045fb"/>
<rect x="231.7" y="0" width="1.3" height="90.8" fill="#0047fd"/>
<rect x="232.7" y="0" width="1.3" height="90.8" fill="#0036ec"/>
<rect x="233.7" y="0" width="1.3" height="90.8" fill="#004dff"/>
<rect x="234.7" y="0" width="1.3" height="90.8" fill="#004aff"/>
<rect x="235.7" y="0" width="1.3" height="90.8" fill="#0022ff"/>
<rect x="236.7" y="0" width="1.3" height="90.8" fill="#0020fd"/>
<rect x="237.7" y="0" width="1.3" height="90.8" fill="#0015f2"/>
<rect x="238.7" y="0" width="1.3" height="90.8" fill="#0015f2"/>
<rect x="239.7" y="0" width="1.3" height="90.8" fill="#000dea"/>
<rect x="240.7" y="0" width="0.6" height="90.8" fill="#001cf9"/>
<rect x="186.7" y="0" width="54.6" height="90.8" fill="url(#dtop)"/>
<rect x="186.7" y="0" width="2.0" height="34" fill="url(#bla)"/>
<rect x="188.7" y="0" width="2.0" height="34" fill="url(#bla)"/>
<rect x="190.7" y="0" width="2.0" height="38" fill="url(#bla)"/>
<rect x="192.7" y="0" width="2.0" height="37" fill="url(#bla)"/>
<rect x="194.7" y="0" width="2.0" height="40" fill="url(#bla)"/>
<rect x="196.7" y="0" width="2.0" height="34" fill="url(#bla)"/>
<rect x="198.7" y="0" width="2.0" height="33" fill="url(#bla)"/>
<rect x="200.7" y="0" width="2.0" height="36" fill="url(#bla)"/>
<rect x="202.7" y="0" width="1.3" height="35" fill="url(#bla)"/>
<rect x="225.0" y="0" width="2.0" height="48" fill="url(#bla)"/>
<rect x="227.0" y="0" width="2.0" height="40" fill="url(#bla)"/>
<rect x="229.0" y="0" width="2.0" height="62" fill="url(#bla)"/>
<rect x="231.0" y="0" width="2.0" height="55" fill="url(#bla)"/>
<rect x="233.0" y="0" width="2.0" height="43" fill="url(#bla)"/>
<rect x="235.0" y="0" width="2.0" height="46" fill="url(#bla)"/>
<rect x="237.0" y="0" width="2.0" height="48" fill="url(#bla)"/>
<rect x="239.0" y="0" width="2.0" height="48" fill="url(#bla)"/>
<rect x="241.0" y="0" width="0.3" height="42" fill="url(#bla)"/>
<rect x="186.7" y="0" width="1.6" height="36" fill="url(#blh)"/>
<rect x="188.3" y="0" width="1.6" height="39" fill="url(#blh)"/>
<rect x="189.9" y="0" width="1.6" height="29" fill="url(#blh)"/>
<rect x="191.5" y="0" width="1.6" height="30" fill="url(#blh)"/>
<rect x="193.1" y="0" width="1.6" height="23" fill="url(#blh)"/>
<rect x="194.7" y="0" width="1.6" height="23" fill="url(#blh)"/>
<rect x="196.3" y="0" width="1.6" height="27" fill="url(#blh)"/>
<rect x="197.9" y="0" width="1.6" height="26" fill="url(#blh)"/>
<rect x="199.5" y="0" width="1.6" height="36" fill="url(#blh)"/>
<rect x="201.1" y="0" width="1.6" height="24" fill="url(#blh)"/>
<rect x="202.7" y="0" width="0.3" height="21" fill="url(#blh)"/>
<rect x="222.0" y="0" width="1.6" height="28" fill="url(#blh)"/>
<rect x="223.6" y="0" width="1.6" height="22" fill="url(#blh)"/>
<rect x="225.2" y="0" width="1.6" height="17" fill="url(#blh)"/>
<rect x="226.8" y="0" width="1.6" height="23" fill="url(#blh)"/>
<rect x="228.4" y="0" width="1.6" height="16" fill="url(#blh)"/>
<rect x="230.0" y="0" width="1.6" height="22" fill="url(#blh)"/>
<rect x="231.6" y="0" width="1.6" height="28" fill="url(#blh)"/>
<rect x="233.2" y="0" width="1.6" height="27" fill="url(#blh)"/>
<rect x="234.8" y="0" width="1.6" height="25" fill="url(#blh)"/>
<rect x="236.4" y="0" width="1.6" height="19" fill="url(#blh)"/>
<rect x="238.0" y="0" width="1.6" height="20" fill="url(#blh)"/>
<rect x="239.6" y="0" width="1.6" height="18" fill="url(#blh)"/>
<rect x="241.2" y="0" width="0.1" height="26" fill="url(#blh)"/>
<rect x="186.7" y="0" width="1.3" height="22.2" fill="url(#blw)"/>
<rect x="188.0" y="0" width="1.3" height="23.7" fill="url(#blw)"/>
<rect x="189.3" y="0" width="1.3" height="21.0" fill="url(#blw)"/>
<rect x="190.6" y="0" width="1.3" height="20.3" fill="url(#blw)"/>
<rect x="191.9" y="0" width="1.1" height="23.9" fill="url(#blw)"/>
<rect x="193.0" y="0" width="1.3" height="27.9" fill="url(#blr)"/>
<rect x="194.3" y="0" width="1.3" height="26.8" fill="url(#blr)"/>
<rect x="195.6" y="0" width="1.3" height="26.4" fill="url(#blr)"/>
<rect x="196.9" y="0" width="1.3" height="26.5" fill="url(#blr)"/>
<rect x="198.2" y="0" width="1.3" height="25.9" fill="url(#blr)"/>
<rect x="199.5" y="0" width="0.5" height="21.8" fill="url(#blr)"/>
<rect x="200.0" y="0" width="1.3" height="16.1" fill="url(#blp)"/>
<rect x="201.3" y="0" width="1.3" height="15.1" fill="url(#blp)"/>
<rect x="202.6" y="0" width="1.3" height="13.2" fill="url(#blp)"/>
<rect x="203.9" y="0" width="1.3" height="13.2" fill="url(#blp)"/>
<rect x="205.2" y="0" width="0.8" height="14.7" fill="url(#blp)"/>
<rect x="206.0" y="0" width="1.3" height="10.6" fill="url(#blp)"/>
<rect x="207.3" y="0" width="1.3" height="13.2" fill="url(#blp)"/>
<rect x="208.6" y="0" width="1.3" height="14.7" fill="url(#blp)"/>
<rect x="209.9" y="0" width="1.3" height="11.7" fill="url(#blp)"/>
<rect x="211.2" y="0" width="1.3" height="14.6" fill="url(#blp)"/>
<rect x="212.5" y="0" width="1.3" height="14.9" fill="url(#blp)"/>
<rect x="213.8" y="0" width="0.2" height="14.7" fill="url(#blp)"/>
<rect x="214.0" y="0" width="1.3" height="12.9" fill="url(#blg)"/>
<rect x="215.3" y="0" width="1.3" height="11.8" fill="url(#blg)"/>
<rect x="216.6" y="0" width="1.3" height="11.8" fill="url(#blg)"/>
<rect x="217.9" y="0" width="1.3" height="11.6" fill="url(#blg)"/>
<rect x="219.2" y="0" width="1.3" height="11.6" fill="url(#blg)"/>
<rect x="220.5" y="0" width="1.3" height="15.0" fill="url(#blg)"/>
<rect x="221.8" y="0" width="0.2" height="17.2" fill="url(#blg)"/>
<rect x="222.0" y="0" width="1.3" height="15.0" fill="url(#bly)"/>
<rect x="223.3" y="0" width="1.3" height="12.9" fill="url(#bly)"/>
<rect x="224.6" y="0" width="1.3" height="13.9" fill="url(#bly)"/>
<rect x="225.9" y="0" width="1.3" height="14.8" fill="url(#bly)"/>
<rect x="227.2" y="0" width="1.3" height="10.5" fill="url(#bly)"/>
<rect x="228.5" y="0" width="1.3" height="14.0" fill="url(#bly)"/>
<rect x="229.8" y="0" width="1.3" height="15.5" fill="url(#bly)"/>
<rect x="231.1" y="0" width="0.9" height="14.7" fill="url(#bly)"/>
<rect x="232.0" y="0" width="1.3" height="16.0" fill="url(#blg)"/>
<rect x="233.3" y="0" width="1.3" height="13.8" fill="url(#blg)"/>
<rect x="234.6" y="0" width="1.3" height="11.4" fill="url(#blg)"/>
<rect x="235.9" y="0" width="1.3" height="16.3" fill="url(#blg)"/>
<rect x="237.2" y="0" width="1.3" height="12.7" fill="url(#blg)"/>
<rect x="238.5" y="0" width="1.3" height="16.4" fill="url(#blg)"/>
<rect x="239.8" y="0" width="1.3" height="17.8" fill="url(#blg)"/>
<rect x="241.1" y="0" width="0.2" height="13.2" fill="url(#blg)"/>
<path d="M212.7 83.6v1.8M212.0 15.5v1.0M214.1 71.9v1.0M213.9 86.4v1.7M212.5 50.5v1.0M211.5 85.6v1.7M213.0 82.5v1.4M214.0 73.6v1.1M212.2 29.3v1.1M213.2 26.5v1.4M211.9 80.5v1.3M212.8 53.4v2.1M212.7 81.2v1.5M213.0 48.5v0.8M212.8 20.2v0.8M213.8 19.3v1.5M213.6 51.2v1.3M213.0 51.1v1.9M211.8 51.5v1.1M212.3 69.1v1.5M213.1 68.1v2.1M212.8 55.8v1.5M213.0 62.5v1.4M213.0 44.7v2.1M213.5 77.8v2.1M212.3 51.4v2.1M213.9 16.4v1.0M212.8 11.0v1.1M211.7 60.6v1.9M214.1 17.8v1.8M213.4 16.9v2.0M214.3 23.2v2.1M212.7 45.4v2.2M213.9 18.4v1.4M213.0 33.1v1.1M212.4 64.9v0.8M213.1 41.6v0.8M212.5 56.8v1.5M211.7 86.8v1.9M214.3 13.7v1.2M214.7 47.8v1.2M216.3 28.2v2.1M228.7 19.2v1.0M230.5 36.4v1.8M215.6 8.2v1.8M221.7 9.0v2.1M225.4 49.1v0.9M229.4 8.7v2.0M222.2 23.7v1.6M230.7 19.7v1.0M223.5 18.1v1.0M216.9 7.8v1.1M219.6 21.8v1.9M219.2 32.5v1.0M220.2 6.0v1.2M214.3 45.3v1.6M217.4 31.1v2.1M215.9 50.0v1.4M222.9 50.9v1.4M223.1 42.8v2.2M220.2 50.8v1.8M225.4 27.3v1.3M215.0 12.1v0.9M227.3 19.1v1.0M215.5 51.3v2.0" stroke="#d0d8f0" stroke-width="0.7" opacity="0.5" fill="none"/>
</g>
<g transform="matrix(1,0.19150,0,-1,0,109.166)">
<rect x="243.8" y="0" width="22.1" height="90.8" fill="#0004d7"/>
<rect x="243.8" y="0" width="1.3" height="90.8" fill="#001dfa"/>
<rect x="244.8" y="0" width="1.3" height="90.8" fill="#0012ef"/>
<rect x="245.8" y="0" width="1.3" height="90.8" fill="#0011ee"/>
<rect x="246.8" y="0" width="1.3" height="90.8" fill="#00009a"/>
<rect x="247.8" y="0" width="1.3" height="90.8" fill="#00009f"/>
<rect x="248.8" y="0" width="1.3" height="90.8" fill="#0000cd"/>
<rect x="249.8" y="0" width="1.3" height="90.8" fill="#0002d5"/>
<rect x="250.8" y="0" width="1.3" height="90.8" fill="#0000d0"/>
<rect x="251.8" y="0" width="1.3" height="90.8" fill="#0011e4"/>
<rect x="252.8" y="0" width="1.3" height="90.8" fill="#000062"/>
<rect x="253.8" y="0" width="1.3" height="90.8" fill="#000056"/>
<rect x="254.8" y="0" width="1.3" height="90.8" fill="#0011ee"/>
<rect x="255.8" y="0" width="1.3" height="90.8" fill="#0025ff"/>
<rect x="256.8" y="0" width="1.3" height="90.8" fill="#0013f0"/>
<rect x="257.8" y="0" width="1.3" height="90.8" fill="#0014f1"/>
<rect x="258.8" y="0" width="1.3" height="90.8" fill="#000ae7"/>
<rect x="259.8" y="0" width="1.3" height="90.8" fill="#00009d"/>
<rect x="260.8" y="0" width="1.3" height="90.8" fill="#00009f"/>
<rect x="261.8" y="0" width="1.3" height="90.8" fill="#0004d7"/>
<rect x="262.8" y="0" width="1.3" height="90.8" fill="#0000cf"/>
<rect x="263.8" y="0" width="1.3" height="90.8" fill="#0004d7"/>
<rect x="264.8" y="0" width="1.1" height="90.8" fill="#0000c9"/>
<rect x="265.8" y="0" width="0.1" height="90.8" fill="#0000d0"/>
<rect x="243.8" y="0" width="2.0" height="29" fill="url(#bla)"/>
<rect x="245.8" y="0" width="2.0" height="34" fill="url(#bla)"/>
<rect x="247.8" y="0" width="2.0" height="28" fill="url(#bla)"/>
<rect x="249.8" y="0" width="2.0" height="27" fill="url(#bla)"/>
<rect x="251.8" y="0" width="2.0" height="32" fill="url(#bla)"/>
<rect x="253.8" y="0" width="2.0" height="31" fill="url(#bla)"/>
<rect x="255.8" y="0" width="2.0" height="38" fill="url(#bla)"/>
<rect x="257.8" y="0" width="2.0" height="37" fill="url(#bla)"/>
<rect x="259.8" y="0" width="2.0" height="41" fill="url(#bla)"/>
<rect x="261.8" y="0" width="2.0" height="39" fill="url(#bla)"/>
<rect x="263.8" y="0" width="2.0" height="40" fill="url(#bla)"/>
<rect x="265.8" y="0" width="0.1" height="43" fill="url(#bla)"/>
<rect x="243.8" y="0" width="1.3" height="9.3" fill="url(#blg)"/>
<rect x="245.1" y="0" width="1.3" height="9.0" fill="url(#blg)"/>
<rect x="246.4" y="0" width="1.3" height="12.9" fill="url(#blg)"/>
<rect x="247.7" y="0" width="1.3" height="7.9" fill="url(#blg)"/>
<rect x="249.0" y="0" width="1.0" height="11.3" fill="url(#blg)"/>
<rect x="250.0" y="0" width="1.3" height="15.1" fill="url(#blc)"/>
<rect x="251.3" y="0" width="1.3" height="10.4" fill="url(#blc)"/>
<rect x="252.6" y="0" width="1.3" height="16.7" fill="url(#blc)"/>
<rect x="253.9" y="0" width="1.3" height="17.1" fill="url(#blc)"/>
<rect x="255.2" y="0" width="1.3" height="15.0" fill="url(#blc)"/>
<rect x="256.5" y="0" width="1.3" height="15.9" fill="url(#blc)"/>
<rect x="257.8" y="0" width="0.2" height="16.5" fill="url(#blc)"/>
<rect x="258.0" y="0" width="1.3" height="12.4" fill="url(#blc)"/>
<rect x="259.3" y="0" width="1.3" height="16.2" fill="url(#blc)"/>
<rect x="260.6" y="0" width="1.3" height="16.0" fill="url(#blc)"/>
<rect x="261.9" y="0" width="1.3" height="19.3" fill="url(#blc)"/>
<rect x="263.2" y="0" width="1.3" height="19.0" fill="url(#blc)"/>
<rect x="264.5" y="0" width="1.3" height="19.3" fill="url(#blc)"/>
<rect x="265.8" y="0" width="0.1" height="16.8" fill="url(#blc)"/>
<path d="M263.9 61.2v1.8M257.3 12.3v1.0M258.6 17.9v2.0M260.6 57.1v1.7M261.8 46.7v0.8M263.0 66.1v1.5M260.4 59.4v0.9M262.4 28.9v0.9M257.7 64.7v1.1M262.4 83.2v1.5M258.8 45.9v1.8M262.7 56.3v1.7M255.8 21.1v1.2M262.4 32.8v1.6M255.1 14.5v1.2M261.7 61.9v1.7M257.9 48.7v1.5M259.7 18.9v2.1" stroke="#d0d8f0" stroke-width="0.7" opacity="0.5" fill="none"/>
</g>
<line x1="258.3" y1="68.8" x2="258.3" y2="158.6" stroke="#fff" stroke-width="1.9" stroke-dasharray="3.2 3.1" opacity="0.92"/>
<g transform="matrix(1,0.30807,0,-1,0,95.252)">
<rect x="271.2" y="0" width="81.8" height="90.8" fill="#0004d7"/>
<rect x="271.2" y="0" width="1.3" height="90.8" fill="#0010ed"/>
<rect x="272.2" y="0" width="1.3" height="90.8" fill="#0025ff"/>
<rect x="273.2" y="0" width="1.3" height="90.8" fill="#0024ff"/>
<rect x="274.2" y="0" width="1.3" height="90.8" fill="#000ae7"/>
<rect x="275.2" y="0" width="1.3" height="90.8" fill="#0017f4"/>
<rect x="276.2" y="0" width="1.3" height="90.8" fill="#000de0"/>
<rect x="277.2" y="0" width="1.3" height="90.8" fill="#0011e4"/>
<rect x="278.2" y="0" width="1.3" height="90.8" fill="#0003d6"/>
<rect x="279.2" y="0" width="1.3" height="90.8" fill="#0000d1"/>
<rect x="280.2" y="0" width="1.3" height="90.8" fill="#0000cf"/>
<rect x="281.2" y="0" width="1.3" height="90.8" fill="#0010e3"/>
<rect x="282.2" y="0" width="1.3" height="90.8" fill="#00004d"/>
<rect x="283.2" y="0" width="1.3" height="90.8" fill="#000057"/>
<rect x="284.2" y="0" width="1.3" height="90.8" fill="#00004b"/>
<rect x="285.2" y="0" width="1.3" height="90.8" fill="#000056"/>
<rect x="286.2" y="0" width="1.3" height="90.8" fill="#0011e4"/>
<rect x="287.2" y="0" width="1.3" height="90.8" fill="#0000cd"/>
<rect x="288.2" y="0" width="1.3" height="90.8" fill="#000de0"/>
<rect x="289.2" y="0" width="1.3" height="90.8" fill="#0004d7"/>
<rect x="290.2" y="0" width="1.3" height="90.8" fill="#000fe2"/>
<rect x="291.2" y="0" width="1.3" height="90.8" fill="#000add"/>
<rect x="292.2" y="0" width="1.3" height="90.8" fill="#0010ed"/>
<rect x="293.2" y="0" width="1.3" height="90.8" fill="#0023ff"/>
<rect x="294.2" y="0" width="1.3" height="90.8" fill="#0018f5"/>
<rect x="295.2" y="0" width="1.3" height="90.8" fill="#000be8"/>
<rect x="296.2" y="0" width="1.3" height="90.8" fill="#000ae7"/>
<rect x="297.2" y="0" width="1.3" height="90.8" fill="#0018f5"/>
<rect x="298.2" y="0" width="1.3" height="90.8" fill="#0017f4"/>
<rect x="299.2" y="0" width="1.3" height="90.8" fill="#0012ef"/>
<rect x="300.2" y="0" width="1.3" height="90.8" fill="#0000cd"/>
<rect x="301.2" y="0" width="1.3" height="90.8" fill="#0000d3"/>
<rect x="302.2" y="0" width="1.3" height="90.8" fill="#0000d2"/>
<rect x="303.2" y="0" width="1.3" height="90.8" fill="#000ee1"/>
<rect x="304.2" y="0" width="1.3" height="90.8" fill="#0000c9"/>
<rect x="305.2" y="0" width="1.3" height="90.8" fill="#000bde"/>
<rect x="306.2" y="0" width="1.3" height="90.8" fill="#000de0"/>
<rect x="307.2" y="0" width="1.3" height="90.8" fill="#0010e3"/>
<rect x="308.2" y="0" width="1.3" height="90.8" fill="#0023ff"/>
<rect x="309.2" y="0" width="1.3" height="90.8" fill="#00004f"/>
<rect x="310.2" y="0" width="1.3" height="90.8" fill="#000051"/>
<rect x="311.2" y="0" width="1.3" height="90.8" fill="#000052"/>
<rect x="312.2" y="0" width="1.3" height="90.8" fill="#000063"/>
<rect x="313.2" y="0" width="1.3" height="90.8" fill="#0000a2"/>
<rect x="314.2" y="0" width="1.3" height="90.8" fill="#00009c"/>
<rect x="315.2" y="0" width="1.3" height="90.8" fill="#00009e"/>
<rect x="316.2" y="0" width="1.3" height="90.8" fill="#00009a"/>
<rect x="317.2" y="0" width="1.3" height="90.8" fill="#000093"/>
<rect x="318.2" y="0" width="1.3" height="90.8" fill="#000dea"/>
<rect x="319.2" y="0" width="1.3" height="90.8" fill="#0021fe"/>
<rect x="320.2" y="0" width="1.3" height="90.8" fill="#0012ef"/>
<rect x="321.2" y="0" width="1.3" height="90.8" fill="#0024ff"/>
<rect x="322.2" y="0" width="1.3" height="90.8" fill="#0011ee"/>
<rect x="323.2" y="0" width="1.3" height="90.8" fill="#0011ee"/>
<rect x="324.2" y="0" width="1.3" height="90.8" fill="#0018f5"/>
<rect x="325.2" y="0" width="1.3" height="90.8" fill="#000fec"/>
<rect x="326.2" y="0" width="1.3" height="90.8" fill="#000051"/>
<rect x="327.2" y="0" width="1.3" height="90.8" fill="#000062"/>
<rect x="328.2" y="0" width="1.3" height="90.8" fill="#000fe2"/>
<rect x="329.2" y="0" width="1.3" height="90.8" fill="#000de0"/>
<rect x="330.2" y="0" width="1.3" height="90.8" fill="#0008db"/>
<rect x="331.2" y="0" width="1.3" height="90.8" fill="#0010e3"/>
<rect x="332.2" y="0" width="1.3" height="90.8" fill="#0010e3"/>
<rect x="333.2" y="0" width="1.3" height="90.8" fill="#0005d8"/>
<rect x="334.2" y="0" width="1.3" height="90.8" fill="#0048fe"/>
<rect x="335.2" y="0" width="1.3" height="90.8" fill="#0035eb"/>
<rect x="336.2" y="0" width="1.3" height="90.8" fill="#0049ff"/>
<rect x="337.2" y="0" width="1.3" height="90.8" fill="#0041f7"/>
<rect x="338.2" y="0" width="1.3" height="90.8" fill="#0049ff"/>
<rect x="339.2" y="0" width="1.3" height="90.8" fill="#0046fc"/>
<rect x="340.2" y="0" width="1.3" height="90.8" fill="#003cf2"/>
<rect x="341.2" y="0" width="1.3" height="90.8" fill="#0035eb"/>
<rect x="342.2" y="0" width="1.3" height="90.8" fill="#004eff"/>
<rect x="343.2" y="0" width="1.3" height="90.8" fill="#0038ee"/>
<rect x="344.2" y="0" width="1.3" height="90.8" fill="#0041f7"/>
<rect x="345.2" y="0" width="1.3" height="90.8" fill="#003ef4"/>
<rect x="346.2" y="0" width="1.3" height="90.8" fill="#003cf2"/>
<rect x="347.2" y="0" width="1.3" height="90.8" fill="#0049ff"/>
<rect x="348.2" y="0" width="1.3" height="90.8" fill="#0011e4"/>
<rect x="349.2" y="0" width="1.3" height="90.8" fill="#0000d0"/>
<rect x="350.2" y="0" width="1.3" height="90.8" fill="#0008db"/>
<rect x="351.2" y="0" width="1.3" height="90.8" fill="#0000d1"/>
<rect x="352.2" y="0" width="0.8" height="90.8" fill="#0006d9"/>
<rect x="271.2" y="0" width="2.0" height="44" fill="url(#bla)"/>
<rect x="273.2" y="0" width="2.0" height="38" fill="url(#bla)"/>
<rect x="275.2" y="0" width="2.0" height="38" fill="url(#bla)"/>
<rect x="277.2" y="0" width="2.0" height="39" fill="url(#bla)"/>
<rect x="279.2" y="0" width="2.0" height="55" fill="url(#bla)"/>
<rect x="281.2" y="0" width="0.8" height="46" fill="url(#bla)"/>
<rect x="286.7" y="0" width="2.0" height="45" fill="url(#bla)"/>
<rect x="288.7" y="0" width="2.0" height="63" fill="url(#bla)"/>
<rect x="290.7" y="0" width="2.0" height="65" fill="url(#bla)"/>
<rect x="292.7" y="0" width="2.0" height="51" fill="url(#bla)"/>
<rect x="294.7" y="0" width="2.0" height="43" fill="url(#bla)"/>
<rect x="296.7" y="0" width="2.0" height="44" fill="url(#bla)"/>
<rect x="298.7" y="0" width="2.0" height="41" fill="url(#bla)"/>
<rect x="300.7" y="0" width="2.0" height="48" fill="url(#bla)"/>
<rect x="302.7" y="0" width="2.0" height="41" fill="url(#bla)"/>
<rect x="304.7" y="0" width="2.0" height="45" fill="url(#bla)"/>
<rect x="306.7" y="0" width="1.3" height="46" fill="url(#bla)"/>
<rect x="313.0" y="0" width="2.0" height="60" fill="url(#bla)"/>
<rect x="315.0" y="0" width="2.0" height="69" fill="url(#bla)"/>
<rect x="317.0" y="0" width="2.0" height="65" fill="url(#bla)"/>
<rect x="319.0" y="0" width="2.0" height="55" fill="url(#bla)"/>
<rect x="321.0" y="0" width="2.0" height="56" fill="url(#bla)"/>
<rect x="323.0" y="0" width="2.0" height="59" fill="url(#bla)"/>
<rect x="325.0" y="0" width="2.0" height="54" fill="url(#bla)"/>
<rect x="327.0" y="0" width="2.0" height="53" fill="url(#bla)"/>
<rect x="329.0" y="0" width="2.0" height="45" fill="url(#bla)"/>
<rect x="331.0" y="0" width="2.0" height="52" fill="url(#bla)"/>
<rect x="333.0" y="0" width="2.0" height="72" fill="url(#bla)"/>
<rect x="335.0" y="0" width="2.0" height="47" fill="url(#bla)"/>
<rect x="337.0" y="0" width="2.0" height="58" fill="url(#bla)"/>
<rect x="339.0" y="0" width="2.0" height="62" fill="url(#bla)"/>
<rect x="341.0" y="0" width="2.0" height="69" fill="url(#bla)"/>
<rect x="343.0" y="0" width="2.0" height="50" fill="url(#bla)"/>
<rect x="345.0" y="0" width="2.0" height="51" fill="url(#bla)"/>
<rect x="347.0" y="0" width="2.0" height="51" fill="url(#bla)"/>
<rect x="349.0" y="0" width="2.0" height="55" fill="url(#bla)"/>
<rect x="351.0" y="0" width="2.0" height="56" fill="url(#bla)"/>
<rect x="271.2" y="0" width="1.6" height="51" fill="url(#blh)"/>
<rect x="272.8" y="0" width="1.6" height="48" fill="url(#blh)"/>
<rect x="274.4" y="0" width="1.6" height="49" fill="url(#blh)"/>
<rect x="276.0" y="0" width="1.6" height="29" fill="url(#blh)"/>
<rect x="277.6" y="0" width="1.6" height="29" fill="url(#blh)"/>
<rect x="279.2" y="0" width="1.6" height="45" fill="url(#blh)"/>
<rect x="280.8" y="0" width="1.6" height="49" fill="url(#blh)"/>
<rect x="282.4" y="0" width="1.6" height="39" fill="url(#blh)"/>
<rect x="284.0" y="0" width="1.6" height="42" fill="url(#blh)"/>
<rect x="285.6" y="0" width="1.6" height="28" fill="url(#blh)"/>
<rect x="287.2" y="0" width="1.6" height="37" fill="url(#blh)"/>
<rect x="288.8" y="0" width="1.6" height="50" fill="url(#blh)"/>
<rect x="290.4" y="0" width="1.6" height="48" fill="url(#blh)"/>
<rect x="292.0" y="0" width="1.6" height="49" fill="url(#blh)"/>
<rect x="293.6" y="0" width="1.6" height="51" fill="url(#blh)"/>
<rect x="295.2" y="0" width="1.6" height="34" fill="url(#blh)"/>
<rect x="296.8" y="0" width="1.6" height="31" fill="url(#blh)"/>
<rect x="298.4" y="0" width="1.6" height="32" fill="url(#blh)"/>
<rect x="300.0" y="0" width="1.6" height="41" fill="url(#blh)"/>
<rect x="301.6" y="0" width="1.6" height="44" fill="url(#blh)"/>
<rect x="303.2" y="0" width="1.6" height="51" fill="url(#blh)"/>
<rect x="304.8" y="0" width="1.6" height="45" fill="url(#blh)"/>
<rect x="306.4" y="0" width="1.6" height="44" fill="url(#blh)"/>
<rect x="308.0" y="0" width="1.6" height="46" fill="url(#blh)"/>
<rect x="309.6" y="0" width="1.6" height="39" fill="url(#blh)"/>
<rect x="311.2" y="0" width="1.6" height="41" fill="url(#blh)"/>
<rect x="312.8" y="0" width="1.6" height="29" fill="url(#blh)"/>
<rect x="314.4" y="0" width="1.6" height="47" fill="url(#blh)"/>
<rect x="316.0" y="0" width="1.6" height="34" fill="url(#blh)"/>
<rect x="317.6" y="0" width="1.6" height="50" fill="url(#blh)"/>
<rect x="319.2" y="0" width="1.6" height="43" fill="url(#blh)"/>
<rect x="320.8" y="0" width="1.6" height="35" fill="url(#blh)"/>
<rect x="322.4" y="0" width="1.6" height="31" fill="url(#blh)"/>
<rect x="324.0" y="0" width="1.6" height="34" fill="url(#blh)"/>
<rect x="325.6" y="0" width="1.6" height="43" fill="url(#blh)"/>
<rect x="327.2" y="0" width="1.6" height="45" fill="url(#blh)"/>
<rect x="328.8" y="0" width="1.6" height="31" fill="url(#blh)"/>
<rect x="330.4" y="0" width="1.6" height="30" fill="url(#blh)"/>
<rect x="332.0" y="0" width="1.6" height="41" fill="url(#blh)"/>
<rect x="333.6" y="0" width="1.6" height="42" fill="url(#blh)"/>
<rect x="335.2" y="0" width="1.6" height="37" fill="url(#blh)"/>
<rect x="336.8" y="0" width="1.6" height="33" fill="url(#blh)"/>
<rect x="338.4" y="0" width="1.6" height="42" fill="url(#blh)"/>
<rect x="340.0" y="0" width="1.6" height="28" fill="url(#blh)"/>
<rect x="341.6" y="0" width="1.6" height="35" fill="url(#blh)"/>
<rect x="343.2" y="0" width="1.6" height="39" fill="url(#blh)"/>
<rect x="344.8" y="0" width="1.6" height="51" fill="url(#blh)"/>
<rect x="346.4" y="0" width="1.6" height="43" fill="url(#blh)"/>
<rect x="348.0" y="0" width="1.6" height="49" fill="url(#blh)"/>
<rect x="349.6" y="0" width="1.6" height="39" fill="url(#blh)"/>
<rect x="351.2" y="0" width="1.6" height="34" fill="url(#blh)"/>
<rect x="352.8" y="0" width="0.2" height="34" fill="url(#blh)"/>
<rect x="271.2" y="0" width="1.3" height="25.8" fill="url(#blW)"/>
<rect x="272.5" y="0" width="1.3" height="24.8" fill="url(#blW)"/>
<rect x="273.8" y="0" width="1.3" height="23.2" fill="url(#blW)"/>
<rect x="275.1" y="0" width="1.3" height="22.1" fill="url(#blW)"/>
<rect x="276.4" y="0" width="1.3" height="24.0" fill="url(#blW)"/>
<rect x="277.7" y="0" width="1.3" height="24.7" fill="url(#blW)"/>
<rect x="279.0" y="0" width="1.3" height="19.5" fill="url(#blW)"/>
<rect x="280.3" y="0" width="1.3" height="18.5" fill="url(#blW)"/>
<rect x="281.6" y="0" width="1.3" height="21.0" fill="url(#blW)"/>
<rect x="282.9" y="0" width="1.3" height="22.6" fill="url(#blW)"/>
<rect x="284.2" y="0" width="0.8" height="18.4" fill="url(#blW)"/>
<rect x="285.0" y="0" width="1.3" height="25.2" fill="url(#blo)"/>
<rect x="286.3" y="0" width="1.3" height="27.0" fill="url(#blo)"/>
<rect x="287.6" y="0" width="1.3" height="27.5" fill="url(#blo)"/>
<rect x="288.9" y="0" width="1.3" height="29.1" fill="url(#blo)"/>
<rect x="290.2" y="0" width="1.3" height="26.2" fill="url(#blo)"/>
<rect x="291.5" y="0" width="1.3" height="29.8" fill="url(#blo)"/>
<rect x="292.8" y="0" width="1.3" height="29.4" fill="url(#blo)"/>
<rect x="294.1" y="0" width="1.3" height="28.0" fill="url(#blo)"/>
<rect x="295.4" y="0" width="0.6" height="26.2" fill="url(#blo)"/>
<rect x="296.0" y="0" width="1.3" height="28.8" fill="url(#blo)"/>
<rect x="297.3" y="0" width="1.3" height="24.9" fill="url(#blo)"/>
<rect x="298.6" y="0" width="1.3" height="27.9" fill="url(#blo)"/>
<rect x="299.9" y="0" width="1.3" height="24.4" fill="url(#blo)"/>
<rect x="301.2" y="0" width="1.3" height="24.3" fill="url(#blo)"/>
<rect x="302.5" y="0" width="1.3" height="27.6" fill="url(#blo)"/>
<rect x="303.8" y="0" width="1.3" height="24.8" fill="url(#blo)"/>
<rect x="305.1" y="0" width="1.3" height="28.7" fill="url(#blo)"/>
<rect x="306.4" y="0" width="1.3" height="26.0" fill="url(#blo)"/>
<rect x="307.7" y="0" width="1.3" height="24.1" fill="url(#blo)"/>
<rect x="309.0" y="0" width="1.0" height="24.3" fill="url(#blo)"/>
<rect x="310.0" y="0" width="1.3" height="23.5" fill="url(#bly)"/>
<rect x="311.3" y="0" width="1.3" height="25.0" fill="url(#bly)"/>
<rect x="312.6" y="0" width="1.3" height="26.7" fill="url(#bly)"/>
<rect x="313.9" y="0" width="1.3" height="21.9" fill="url(#bly)"/>
<rect x="315.2" y="0" width="1.3" height="23.4" fill="url(#bly)"/>
<rect x="316.5" y="0" width="1.3" height="22.3" fill="url(#bly)"/>
<rect x="317.8" y="0" width="1.3" height="26.8" fill="url(#bly)"/>
<rect x="319.1" y="0" width="1.3" height="21.9" fill="url(#bly)"/>
<rect x="320.4" y="0" width="1.3" height="21.3" fill="url(#bly)"/>
<rect x="321.7" y="0" width="0.3" height="21.4" fill="url(#bly)"/>
<rect x="322.0" y="0" width="1.3" height="21.4" fill="url(#bly)"/>
<rect x="323.3" y="0" width="1.3" height="24.4" fill="url(#bly)"/>
<rect x="324.6" y="0" width="1.3" height="24.3" fill="url(#bly)"/>
<rect x="325.9" y="0" width="1.3" height="23.4" fill="url(#bly)"/>
<rect x="327.2" y="0" width="1.3" height="25.0" fill="url(#bly)"/>
<rect x="328.5" y="0" width="1.3" height="24.6" fill="url(#bly)"/>
<rect x="329.8" y="0" width="1.3" height="21.0" fill="url(#bly)"/>
<rect x="331.1" y="0" width="1.3" height="20.1" fill="url(#bly)"/>
<rect x="332.4" y="0" width="1.3" height="24.6" fill="url(#bly)"/>
<rect x="333.7" y="0" width="1.3" height="23.5" fill="url(#bly)"/>
<rect x="335.0" y="0" width="1.0" height="19.2" fill="url(#bly)"/>
<rect x="336.0" y="0" width="1.3" height="23.3" fill="url(#blg)"/>
<rect x="337.3" y="0" width="1.3" height="21.0" fill="url(#blg)"/>
<rect x="338.6" y="0" width="1.3" height="21.0" fill="url(#blg)"/>
<rect x="339.9" y="0" width="1.3" height="20.7" fill="url(#blg)"/>
<rect x="341.2" y="0" width="1.3" height="19.4" fill="url(#blg)"/>
<rect x="342.5" y="0" width="1.3" height="18.0" fill="url(#blg)"/>
<rect x="343.8" y="0" width="1.3" height="20.2" fill="url(#blg)"/>
<rect x="345.1" y="0" width="1.3" height="20.8" fill="url(#blg)"/>
<rect x="346.4" y="0" width="1.3" height="25.6" fill="url(#blg)"/>
<rect x="347.7" y="0" width="1.3" height="19.0" fill="url(#blg)"/>
<rect x="349.0" y="0" width="1.3" height="25.7" fill="url(#blg)"/>
<rect x="350.3" y="0" width="1.3" height="19.7" fill="url(#blg)"/>
<rect x="351.6" y="0" width="1.3" height="20.9" fill="url(#blg)"/>
<rect x="352.9" y="0" width="0.1" height="24.6" fill="url(#blg)"/>
</g>
<line x1="308.2" y1="100.4" x2="308.2" y2="190.2" stroke="#fff" stroke-width="1.9" stroke-dasharray="3.2 3.1" opacity="0.92"/>
<g transform="matrix(1,0.06667,0,-1,0,180.467)">
<rect x="353.0" y="0" width="12.0" height="90.8" fill="#0004d7"/>
<rect x="353.0" y="0" width="1.3" height="90.8" fill="#00005e"/>
<rect x="354.0" y="0" width="1.3" height="90.8" fill="#000053"/>
<rect x="355.0" y="0" width="1.3" height="90.8" fill="#000048"/>
<rect x="356.0" y="0" width="1.3" height="90.8" fill="#00009f"/>
<rect x="357.0" y="0" width="1.3" height="90.8" fill="#00009c"/>
<rect x="358.0" y="0" width="1.3" height="90.8" fill="#000061"/>
<rect x="359.0" y="0" width="1.3" height="90.8" fill="#00004c"/>
<rect x="360.0" y="0" width="1.3" height="90.8" fill="#000051"/>
<rect x="361.0" y="0" width="1.3" height="90.8" fill="#0000ab"/>
<rect x="362.0" y="0" width="1.3" height="90.8" fill="#000093"/>
<rect x="363.0" y="0" width="1.3" height="90.8" fill="#00000a"/>
<rect x="364.0" y="0" width="1.0" height="90.8" fill="#00000a"/>
<rect x="353.0" y="0" width="1.3" height="19.3" fill="url(#bla)"/>
<rect x="354.3" y="0" width="1.3" height="22.5" fill="url(#bla)"/>
<rect x="355.6" y="0" width="1.3" height="22.1" fill="url(#bla)"/>
<rect x="356.9" y="0" width="1.3" height="16.3" fill="url(#bla)"/>
<rect x="358.2" y="0" width="1.3" height="16.3" fill="url(#bla)"/>
<rect x="359.5" y="0" width="1.3" height="16.5" fill="url(#bla)"/>
<rect x="360.8" y="0" width="1.3" height="23.4" fill="url(#bla)"/>
<rect x="362.1" y="0" width="1.3" height="18.1" fill="url(#bla)"/>
<rect x="363.4" y="0" width="1.3" height="22.0" fill="url(#bla)"/>
<rect x="364.7" y="0" width="0.3" height="23.2" fill="url(#bla)"/>
<path d="M356.7 27.6v2.1M359.8 26.8v1.8M356.5 27.9v0.8M361.3 81.1v1.7M363.4 7.0v1.1M358.2 84.4v2.1M357.3 25.8v1.4M358.4 82.0v1.1M361.8 66.3v2.0M361.5 55.4v1.3M356.5 35.0v1.9M353.9 21.4v1.9M355.7 10.4v0.8M359.1 32.0v2.2M362.7 87.0v1.2M353.9 13.0v1.5M360.8 42.1v1.1M357.6 56.5v1.7M361.2 75.3v1.7M354.3 74.8v1.2M359.2 36.0v1.8M355.2 25.5v1.1M354.7 78.4v1.6M356.6 37.9v2.2M358.6 24.2v1.9M360.2 87.2v0.9M358.2 73.0v2.0M363.1 8.4v1.2M354.3 20.7v2.2M359.4 82.2v1.3M362.5 42.3v1.2M361.6 83.5v0.9M359.6 56.5v1.1M357.1 16.7v1.1M355.8 54.8v1.7M355.2 5.9v1.3M360.5 20.4v1.2M355.2 71.0v1.6M353.7 13.4v1.4M359.1 58.1v0.9M354.8 62.7v1.4M356.1 30.5v2.1M356.4 52.0v1.3M357.6 76.7v2.2M357.0 21.4v1.8" stroke="#d0d8f0" stroke-width="0.7" opacity="0.5" fill="none"/>
</g>
<g transform="matrix(1,0.17220,0,-1,0,141.947)">
<rect x="365.0" y="0" width="133.0" height="90.8" fill="#0004d7"/>
<rect x="365.0" y="0" width="1.3" height="90.8" fill="#00000a"/>
<rect x="366.0" y="0" width="1.3" height="90.8" fill="#00000a"/>
<rect x="367.0" y="0" width="1.3" height="90.8" fill="#00000a"/>
<rect x="368.0" y="0" width="1.3" height="90.8" fill="#00000a"/>
<rect x="369.0" y="0" width="1.3" height="90.8" fill="#00000a"/>
<rect x="370.0" y="0" width="1.3" height="90.8" fill="#00000a"/>
<rect x="371.0" y="0" width="1.3" height="90.8" fill="#00000a"/>
<rect x="372.0" y="0" width="1.3" height="90.8" fill="#00000a"/>
<rect x="373.0" y="0" width="1.3" height="90.8" fill="#00000a"/>
<rect x="374.0" y="0" width="1.3" height="90.8" fill="#0010ed"/>
<rect x="375.0" y="0" width="1.3" height="90.8" fill="#000ae7"/>
<rect x="376.0" y="0" width="1.3" height="90.8" fill="#0023ff"/>
<rect x="377.0" y="0" width="1.3" height="90.8" fill="#0016f3"/>
<rect x="378.0" y="0" width="1.3" height="90.8" fill="#0021fe"/>
<rect x="379.0" y="0" width="1.3" height="90.8" fill="#0015f2"/>
<rect x="380.0" y="0" width="1.3" height="90.8" fill="#0000ab"/>
<rect x="381.0" y="0" width="1.3" height="90.8" fill="#00009f"/>
<rect x="382.0" y="0" width="1.3" height="90.8" fill="#000097"/>
<rect x="383.0" y="0" width="1.3" height="90.8" fill="#000ae7"/>
<rect x="384.0" y="0" width="1.3" height="90.8" fill="#0019f6"/>
<rect x="385.0" y="0" width="1.3" height="90.8" fill="#001cf9"/>
<rect x="386.0" y="0" width="1.3" height="90.8" fill="#0023ff"/>
<rect x="387.0" y="0" width="1.3" height="90.8" fill="#000ce9"/>
<rect x="388.0" y="0" width="1.3" height="90.8" fill="#001bf8"/>
<rect x="389.0" y="0" width="1.3" height="90.8" fill="#0014f1"/>
<rect x="390.0" y="0" width="1.3" height="90.8" fill="#000055"/>
<rect x="391.0" y="0" width="1.3" height="90.8" fill="#00004b"/>
<rect x="392.0" y="0" width="1.3" height="90.8" fill="#0012ef"/>
<rect x="393.0" y="0" width="1.3" height="90.8" fill="#0019f6"/>
<rect x="394.0" y="0" width="1.3" height="90.8" fill="#0024ff"/>
<rect x="395.0" y="0" width="1.3" height="90.8" fill="#000dea"/>
<rect x="396.0" y="0" width="1.3" height="90.8" fill="#0018f5"/>
<rect x="397.0" y="0" width="1.3" height="90.8" fill="#0021fe"/>
<rect x="398.0" y="0" width="1.3" height="90.8" fill="#0025ff"/>
<rect x="399.0" y="0" width="1.3" height="90.8" fill="#000098"/>
<rect x="400.0" y="0" width="1.3" height="90.8" fill="#000096"/>
<rect x="401.0" y="0" width="1.3" height="90.8" fill="#0010e3"/>
<rect x="402.0" y="0" width="1.3" height="90.8" fill="#0011e4"/>
<rect x="403.0" y="0" width="1.3" height="90.8" fill="#0004d7"/>
<rect x="404.0" y="0" width="1.3" height="90.8" fill="#0000ca"/>
<rect x="405.0" y="0" width="1.3" height="90.8" fill="#0010e3"/>
<rect x="406.0" y="0" width="1.3" height="90.8" fill="#0001d4"/>
<rect x="407.0" y="0" width="1.3" height="90.8" fill="#000fe2"/>
<rect x="408.0" y="0" width="1.3" height="90.8" fill="#000058"/>
<rect x="409.0" y="0" width="1.3" height="90.8" fill="#00005e"/>
<rect x="410.0" y="0" width="1.3" height="90.8" fill="#000eeb"/>
<rect x="411.0" y="0" width="1.3" height="90.8" fill="#0020fd"/>
<rect x="412.0" y="0" width="1.3" height="90.8" fill="#0010ed"/>
<rect x="413.0" y="0" width="1.3" height="90.8" fill="#0015f2"/>
<rect x="414.0" y="0" width="1.3" height="90.8" fill="#0022ff"/>
<rect x="415.0" y="0" width="1.3" height="90.8" fill="#0021fe"/>
<rect x="416.0" y="0" width="1.3" height="90.8" fill="#000fec"/>
<rect x="417.0" y="0" width="1.3" height="90.8" fill="#00000a"/>
<rect x="418.0" y="0" width="1.3" height="90.8" fill="#00000a"/>
<rect x="419.0" y="0" width="1.3" height="90.8" fill="#00000a"/>
<rect x="420.0" y="0" width="1.3" height="90.8" fill="#0010ed"/>
<rect x="421.0" y="0" width="1.3" height="90.8" fill="#0015f2"/>
<rect x="422.0" y="0" width="1.3" height="90.8" fill="#00000a"/>
<rect x="423.0" y="0" width="1.3" height="90.8" fill="#00000a"/>
<rect x="424.0" y="0" width="1.3" height="90.8" fill="#0043f9"/>
<rect x="425.0" y="0" width="1.3" height="90.8" fill="#003ff5"/>
<rect x="426.0" y="0" width="1.3" height="90.8" fill="#0037ed"/>
<rect x="427.0" y="0" width="1.3" height="90.8" fill="#003bf1"/>
<rect x="428.0" y="0" width="1.3" height="90.8" fill="#0048fe"/>
<rect x="429.0" y="0" width="1.3" height="90.8" fill="#004dff"/>
<rect x="430.0" y="0" width="1.3" height="90.8" fill="#0035eb"/>
<rect x="431.0" y="0" width="1.3" height="90.8" fill="#0044fa"/>
<rect x="432.0" y="0" width="1.3" height="90.8" fill="#0049ff"/>
<rect x="433.0" y="0" width="1.3" height="90.8" fill="#0035eb"/>
<rect x="434.0" y="0" width="1.3" height="90.8" fill="#004bff"/>
<rect x="435.0" y="0" width="1.3" height="90.8" fill="#0037ed"/>
<rect x="436.0" y="0" width="1.3" height="90.8" fill="#0045fb"/>
<rect x="437.0" y="0" width="1.3" height="90.8" fill="#0043f9"/>
<rect x="438.0" y="0" width="1.3" height="90.8" fill="#0046fc"/>
<rect x="439.0" y="0" width="1.3" height="90.8" fill="#003df3"/>
<rect x="440.0" y="0" width="1.3" height="90.8" fill="#00000a"/>
<rect x="441.0" y="0" width="1.3" height="90.8" fill="#00000a"/>
<rect x="442.0" y="0" width="1.3" height="90.8" fill="#00000a"/>
<rect x="443.0" y="0" width="1.3" height="90.8" fill="#00000a"/>
<rect x="444.0" y="0" width="1.3" height="90.8" fill="#0016f3"/>
<rect x="445.0" y="0" width="1.3" height="90.8" fill="#001af7"/>
<rect x="446.0" y="0" width="1.3" height="90.8" fill="#00000a"/>
<rect x="447.0" y="0" width="1.3" height="90.8" fill="#00000a"/>
<rect x="448.0" y="0" width="1.3" height="90.8" fill="#00000a"/>
<rect x="449.0" y="0" width="1.3" height="90.8" fill="#00000a"/>
<rect x="450.0" y="0" width="1.3" height="90.8" fill="#00000a"/>
<rect x="451.0" y="0" width="1.3" height="90.8" fill="#00000a"/>
<rect x="452.0" y="0" width="1.3" height="90.8" fill="#00000a"/>
<rect x="453.0" y="0" width="1.3" height="90.8" fill="#00000a"/>
<rect x="454.0" y="0" width="1.3" height="90.8" fill="#00000a"/>
<rect x="455.0" y="0" width="1.3" height="90.8" fill="#00000a"/>
<rect x="456.0" y="0" width="1.3" height="90.8" fill="#0016f3"/>
<rect x="457.0" y="0" width="1.3" height="90.8" fill="#001cf9"/>
<rect x="458.0" y="0" width="1.3" height="90.8" fill="#0017f4"/>
<rect x="459.0" y="0" width="1.3" height="90.8" fill="#0016f3"/>
<rect x="460.0" y="0" width="1.3" height="90.8" fill="#000048"/>
<rect x="461.0" y="0" width="1.3" height="90.8" fill="#000058"/>
<rect x="462.0" y="0" width="1.3" height="90.8" fill="#0018f5"/>
<rect x="463.0" y="0" width="1.3" height="90.8" fill="#0011ee"/>
<rect x="464.0" y="0" width="1.3" height="90.8" fill="#001ffc"/>
<rect x="465.0" y="0" width="1.3" height="90.8" fill="#0020fd"/>
<rect x="466.0" y="0" width="1.3" height="90.8" fill="#0017f4"/>
<rect x="467.0" y="0" width="1.3" height="90.8" fill="#000fec"/>
<rect x="468.0" y="0" width="1.3" height="90.8" fill="#0017f4"/>
<rect x="469.0" y="0" width="1.3" height="90.8" fill="#000dea"/>
<rect x="470.0" y="0" width="1.3" height="90.8" fill="#000eeb"/>
<rect x="471.0" y="0" width="1.3" height="90.8" fill="#00000a"/>
<rect x="472.0" y="0" width="1.3" height="90.8" fill="#00000a"/>
<rect x="473.0" y="0" width="1.3" height="90.8" fill="#0016f3"/>
<rect x="474.0" y="0" width="1.3" height="90.8" fill="#000dea"/>
<rect x="475.0" y="0" width="1.3" height="90.8" fill="#0016f3"/>
<rect x="476.0" y="0" width="1.3" height="90.8" fill="#0018f5"/>
<rect x="477.0" y="0" width="1.3" height="90.8" fill="#000be8"/>
<rect x="478.0" y="0" width="1.3" height="90.8" fill="#001cf9"/>
<rect x="479.0" y="0" width="1.3" height="90.8" fill="#000ce9"/>
<rect x="480.0" y="0" width="1.3" height="90.8" fill="#001ffc"/>
<rect x="481.0" y="0" width="1.3" height="90.8" fill="#0020fd"/>
<rect x="482.0" y="0" width="1.3" height="90.8" fill="#0018f5"/>
<rect x="483.0" y="0" width="1.3" height="90.8" fill="#000049"/>
<rect x="484.0" y="0" width="1.3" height="90.8" fill="#000055"/>
<rect x="485.0" y="0" width="1.3" height="90.8" fill="#0015f2"/>
<rect x="486.0" y="0" width="1.3" height="90.8" fill="#0025ff"/>
<rect x="487.0" y="0" width="1.3" height="90.8" fill="#000eeb"/>
<rect x="488.0" y="0" width="1.3" height="90.8" fill="#0022ff"/>
<rect x="489.0" y="0" width="1.3" height="90.8" fill="#0026ff"/>
<rect x="490.0" y="0" width="1.3" height="90.8" fill="#0000a6"/>
<rect x="491.0" y="0" width="1.3" height="90.8" fill="#0000a9"/>
<rect x="492.0" y="0" width="1.3" height="90.8" fill="#000fec"/>
<rect x="493.0" y="0" width="1.3" height="90.8" fill="#0025ff"/>
<rect x="494.0" y="0" width="1.3" height="90.8" fill="#0018f5"/>
<rect x="495.0" y="0" width="1.3" height="90.8" fill="#0025ff"/>
<rect x="496.0" y="0" width="1.3" height="90.8" fill="#0024ff"/>
<rect x="497.0" y="0" width="1.0" height="90.8" fill="#000fec"/>
<rect x="416.8" y="0" width="7.2" height="30" fill="url(#blu)"/>
<rect x="440.0" y="0" width="16.0" height="29" fill="url(#blu)"/>
<rect x="471.0" y="0" width="2.5" height="27" fill="url(#blu)"/>
<rect x="483.0" y="0" width="2.2" height="26" fill="url(#blu)"/>
<rect x="373.6" y="0" width="2.0" height="57" fill="url(#bla)"/>
<rect x="375.6" y="0" width="2.0" height="61" fill="url(#bla)"/>
<rect x="377.6" y="0" width="2.0" height="39" fill="url(#bla)"/>
<rect x="379.6" y="0" width="2.0" height="46" fill="url(#bla)"/>
<rect x="381.6" y="0" width="2.0" height="56" fill="url(#bla)"/>
<rect x="383.6" y="0" width="2.0" height="41" fill="url(#bla)"/>
<rect x="385.6" y="0" width="2.0" height="60" fill="url(#bla)"/>
<rect x="387.6" y="0" width="2.0" height="44" fill="url(#bla)"/>
<rect x="389.6" y="0" width="2.0" height="58" fill="url(#bla)"/>
<rect x="391.6" y="0" width="2.0" height="41" fill="url(#bla)"/>
<rect x="393.6" y="0" width="2.0" height="50" fill="url(#bla)"/>
<rect x="395.6" y="0" width="2.0" height="60" fill="url(#bla)"/>
<rect x="397.6" y="0" width="2.0" height="43" fill="url(#bla)"/>
<rect x="399.6" y="0" width="2.0" height="44" fill="url(#bla)"/>
<rect x="401.6" y="0" width="2.0" height="50" fill="url(#bla)"/>
<rect x="403.6" y="0" width="2.0" height="45" fill="url(#bla)"/>
<rect x="405.6" y="0" width="2.0" height="38" fill="url(#bla)"/>
<rect x="407.6" y="0" width="2.0" height="42" fill="url(#bla)"/>
<rect x="409.6" y="0" width="2.0" height="42" fill="url(#bla)"/>
<rect x="411.6" y="0" width="2.0" height="61" fill="url(#bla)"/>
<rect x="413.6" y="0" width="2.0" height="54" fill="url(#bla)"/>
<rect x="415.6" y="0" width="0.4" height="60" fill="url(#bla)"/>
<rect x="423.8" y="0" width="2.0" height="58" fill="url(#bla)"/>
<rect x="425.8" y="0" width="2.0" height="80" fill="url(#bla)"/>
<rect x="427.8" y="0" width="2.0" height="57" fill="url(#bla)"/>
<rect x="429.8" y="0" width="2.0" height="71" fill="url(#bla)"/>
<rect x="431.8" y="0" width="2.0" height="75" fill="url(#bla)"/>
<rect x="433.8" y="0" width="2.0" height="65" fill="url(#bla)"/>
<rect x="435.8" y="0" width="2.0" height="83" fill="url(#bla)"/>
<rect x="437.8" y="0" width="2.0" height="72" fill="url(#bla)"/>
<rect x="439.8" y="0" width="0.2" height="73" fill="url(#bla)"/>
<rect x="456.0" y="0" width="2.0" height="50" fill="url(#bla)"/>
<rect x="458.0" y="0" width="2.0" height="34" fill="url(#bla)"/>
<rect x="460.0" y="0" width="2.0" height="52" fill="url(#bla)"/>
<rect x="462.0" y="0" width="2.0" height="45" fill="url(#bla)"/>
<rect x="464.0" y="0" width="2.0" height="40" fill="url(#bla)"/>
<rect x="466.0" y="0" width="2.0" height="48" fill="url(#bla)"/>
<rect x="468.0" y="0" width="2.0" height="37" fill="url(#bla)"/>
<rect x="470.0" y="0" width="2.0" height="52" fill="url(#bla)"/>
<rect x="472.0" y="0" width="2.0" height="44" fill="url(#bla)"/>
<rect x="474.0" y="0" width="2.0" height="39" fill="url(#bla)"/>
<rect x="476.0" y="0" width="2.0" height="48" fill="url(#bla)"/>
<rect x="478.0" y="0" width="2.0" height="41" fill="url(#bla)"/>
<rect x="480.0" y="0" width="2.0" height="35" fill="url(#bla)"/>
<rect x="482.0" y="0" width="2.0" height="47" fill="url(#bla)"/>
<rect x="484.0" y="0" width="2.0" height="33" fill="url(#bla)"/>
<rect x="486.0" y="0" width="2.0" height="49" fill="url(#bla)"/>
<rect x="488.0" y="0" width="2.0" height="37" fill="url(#bla)"/>
<rect x="490.0" y="0" width="2.0" height="45" fill="url(#bla)"/>
<rect x="492.0" y="0" width="2.0" height="52" fill="url(#bla)"/>
<rect x="494.0" y="0" width="2.0" height="44" fill="url(#bla)"/>
<rect x="496.0" y="0" width="2.0" height="45" fill="url(#bla)"/>
<rect x="374.0" y="0" width="1.6" height="23" fill="url(#blh)"/>
<rect x="375.6" y="0" width="1.6" height="18" fill="url(#blh)"/>
<rect x="377.2" y="0" width="1.6" height="19" fill="url(#blh)"/>
<rect x="378.8" y="0" width="1.6" height="21" fill="url(#blh)"/>
<rect x="380.4" y="0" width="1.6" height="28" fill="url(#blh)"/>
<rect x="382.0" y="0" width="1.6" height="25" fill="url(#blh)"/>
<rect x="383.6" y="0" width="1.6" height="26" fill="url(#blh)"/>
<rect x="385.2" y="0" width="1.6" height="32" fill="url(#blh)"/>
<rect x="386.8" y="0" width="1.6" height="20" fill="url(#blh)"/>
<rect x="388.4" y="0" width="1.6" height="22" fill="url(#blh)"/>
<rect x="390.0" y="0" width="1.6" height="28" fill="url(#blh)"/>
<rect x="391.6" y="0" width="1.6" height="19" fill="url(#blh)"/>
<rect x="393.2" y="0" width="1.6" height="18" fill="url(#blh)"/>
<rect x="394.8" y="0" width="1.6" height="24" fill="url(#blh)"/>
<rect x="396.4" y="0" width="1.6" height="20" fill="url(#blh)"/>
<rect x="398.0" y="0" width="1.6" height="24" fill="url(#blh)"/>
<rect x="399.6" y="0" width="1.6" height="22" fill="url(#blh)"/>
<rect x="401.2" y="0" width="1.6" height="27" fill="url(#blh)"/>
<rect x="402.8" y="0" width="1.6" height="27" fill="url(#blh)"/>
<rect x="404.4" y="0" width="1.6" height="21" fill="url(#blh)"/>
<rect x="406.0" y="0" width="1.6" height="28" fill="url(#blh)"/>
<rect x="407.6" y="0" width="1.6" height="26" fill="url(#blh)"/>
<rect x="409.2" y="0" width="1.6" height="20" fill="url(#blh)"/>
<rect x="410.8" y="0" width="1.6" height="33" fill="url(#blh)"/>
<rect x="412.4" y="0" width="1.6" height="22" fill="url(#blh)"/>
<rect x="414.0" y="0" width="1.6" height="21" fill="url(#blh)"/>
<rect x="415.6" y="0" width="0.4" height="20" fill="url(#blh)"/>
<rect x="424.0" y="0" width="1.6" height="37" fill="url(#blh)"/>
<rect x="425.6" y="0" width="1.6" height="42" fill="url(#blh)"/>
<rect x="427.2" y="0" width="1.6" height="40" fill="url(#blh)"/>
<rect x="428.8" y="0" width="1.6" height="32" fill="url(#blh)"/>
<rect x="430.4" y="0" width="1.6" height="29" fill="url(#blh)"/>
<rect x="432.0" y="0" width="1.6" height="24" fill="url(#blh)"/>
<rect x="433.6" y="0" width="1.6" height="37" fill="url(#blh)"/>
<rect x="435.2" y="0" width="1.6" height="35" fill="url(#blh)"/>
<rect x="436.8" y="0" width="1.6" height="31" fill="url(#blh)"/>
<rect x="438.4" y="0" width="1.6" height="37" fill="url(#blh)"/>
<rect x="456.0" y="0" width="1.6" height="27" fill="url(#blh)"/>
<rect x="457.6" y="0" width="1.6" height="35" fill="url(#blh)"/>
<rect x="459.2" y="0" width="1.6" height="32" fill="url(#blh)"/>
<rect x="460.8" y="0" width="1.6" height="24" fill="url(#blh)"/>
<rect x="462.4" y="0" width="1.6" height="35" fill="url(#blh)"/>
<rect x="464.0" y="0" width="1.6" height="20" fill="url(#blh)"/>
<rect x="465.6" y="0" width="1.6" height="29" fill="url(#blh)"/>
<rect x="467.2" y="0" width="1.6" height="26" fill="url(#blh)"/>
<rect x="468.8" y="0" width="1.6" height="24" fill="url(#blh)"/>
<rect x="470.4" y="0" width="1.6" height="21" fill="url(#blh)"/>
<rect x="472.0" y="0" width="1.6" height="33" fill="url(#blh)"/>
<rect x="473.6" y="0" width="1.6" height="20" fill="url(#blh)"/>
<rect x="475.2" y="0" width="1.6" height="29" fill="url(#blh)"/>
<rect x="476.8" y="0" width="1.6" height="35" fill="url(#blh)"/>
<rect x="478.4" y="0" width="1.6" height="22" fill="url(#blh)"/>
<rect x="480.0" y="0" width="1.6" height="23" fill="url(#blh)"/>
<rect x="481.6" y="0" width="1.6" height="30" fill="url(#blh)"/>
<rect x="483.2" y="0" width="1.6" height="28" fill="url(#blh)"/>
<rect x="484.8" y="0" width="1.6" height="30" fill="url(#blh)"/>
<rect x="486.4" y="0" width="1.6" height="33" fill="url(#blh)"/>
<rect x="488.0" y="0" width="1.6" height="23" fill="url(#blh)"/>
<rect x="489.6" y="0" width="1.6" height="25" fill="url(#blh)"/>
<rect x="491.2" y="0" width="1.6" height="25" fill="url(#blh)"/>
<rect x="492.8" y="0" width="1.6" height="20" fill="url(#blh)"/>
<rect x="494.4" y="0" width="1.6" height="35" fill="url(#blh)"/>
<rect x="496.0" y="0" width="1.6" height="33" fill="url(#blh)"/>
<rect x="497.6" y="0" width="0.4" height="32" fill="url(#blh)"/>
<rect x="365.0" y="0" width="1.3" height="21.0" fill="url(#bla)"/>
<rect x="366.3" y="0" width="1.3" height="26.1" fill="url(#bla)"/>
<rect x="367.6" y="0" width="1.3" height="25.5" fill="url(#bla)"/>
<rect x="368.9" y="0" width="1.3" height="23.8" fill="url(#bla)"/>
<rect x="370.2" y="0" width="1.3" height="25.5" fill="url(#bla)"/>
<rect x="371.5" y="0" width="1.3" height="23.7" fill="url(#bla)"/>
<rect x="372.8" y="0" width="1.2" height="22.4" fill="url(#bla)"/>
<rect x="374.0" y="0" width="1.3" height="14.8" fill="url(#blc)"/>
<rect x="375.3" y="0" width="1.3" height="15.9" fill="url(#blc)"/>
<rect x="376.6" y="0" width="1.3" height="14.3" fill="url(#blc)"/>
<rect x="377.9" y="0" width="1.3" height="16.7" fill="url(#blc)"/>
<rect x="379.2" y="0" width="1.3" height="20.0" fill="url(#blc)"/>
<rect x="380.5" y="0" width="1.3" height="19.6" fill="url(#blc)"/>
<rect x="381.8" y="0" width="0.2" height="20.8" fill="url(#blc)"/>
<rect x="382.0" y="0" width="1.3" height="15.3" fill="url(#bly)"/>
<rect x="383.3" y="0" width="1.3" height="12.6" fill="url(#bly)"/>
<rect x="384.6" y="0" width="1.3" height="14.3" fill="url(#bly)"/>
<rect x="385.9" y="0" width="1.3" height="13.6" fill="url(#bly)"/>
<rect x="387.2" y="0" width="0.8" height="15.7" fill="url(#bly)"/>
<rect x="388.0" y="0" width="1.3" height="18.2" fill="url(#blc)"/>
<rect x="389.3" y="0" width="1.3" height="16.1" fill="url(#blc)"/>
<rect x="390.6" y="0" width="1.3" height="19.1" fill="url(#blc)"/>
<rect x="391.9" y="0" width="1.3" height="21.7" fill="url(#blc)"/>
<rect x="393.2" y="0" width="1.3" height="15.7" fill="url(#blc)"/>
<rect x="394.5" y="0" width="1.3" height="21.0" fill="url(#blc)"/>
<rect x="395.8" y="0" width="1.3" height="14.1" fill="url(#blc)"/>
<rect x="397.1" y="0" width="1.3" height="16.1" fill="url(#blc)"/>
<rect x="398.4" y="0" width="1.3" height="15.9" fill="url(#blc)"/>
<rect x="399.7" y="0" width="0.3" height="20.0" fill="url(#blc)"/>
<rect x="400.0" y="0" width="1.3" height="15.7" fill="url(#blg)"/>
<rect x="401.3" y="0" width="1.3" height="14.5" fill="url(#blg)"/>
<rect x="402.6" y="0" width="1.3" height="12.0" fill="url(#blg)"/>
<rect x="403.9" y="0" width="1.3" height="15.3" fill="url(#blg)"/>
<rect x="405.2" y="0" width="1.3" height="12.0" fill="url(#blg)"/>
<rect x="406.5" y="0" width="1.3" height="11.4" fill="url(#blg)"/>
<rect x="407.8" y="0" width="0.2" height="15.4" fill="url(#blg)"/>
<rect x="408.0" y="0" width="1.3" height="12.8" fill="url(#bly)"/>
<rect x="409.3" y="0" width="1.3" height="13.2" fill="url(#bly)"/>
<rect x="410.6" y="0" width="1.3" height="13.0" fill="url(#bly)"/>
<rect x="411.9" y="0" width="1.3" height="14.9" fill="url(#bly)"/>
<rect x="413.2" y="0" width="1.3" height="11.8" fill="url(#bly)"/>
<rect x="414.5" y="0" width="1.3" height="14.0" fill="url(#bly)"/>
<rect x="415.8" y="0" width="0.2" height="13.2" fill="url(#bly)"/>
<rect x="416.0" y="0" width="1.3" height="20.9" fill="url(#bla)"/>
<rect x="417.3" y="0" width="1.3" height="17.5" fill="url(#bla)"/>
<rect x="418.6" y="0" width="1.3" height="19.8" fill="url(#bla)"/>
<rect x="419.9" y="0" width="1.3" height="18.6" fill="url(#bla)"/>
<rect x="421.2" y="0" width="1.3" height="16.5" fill="url(#bla)"/>
<rect x="422.5" y="0" width="1.3" height="15.7" fill="url(#bla)"/>
<rect x="423.8" y="0" width="0.2" height="19.0" fill="url(#bla)"/>
<rect x="424.0" y="0" width="1.3" height="18.6" fill="url(#blc)"/>
<rect x="425.3" y="0" width="1.3" height="25.3" fill="url(#blc)"/>
<rect x="426.6" y="0" width="1.3" height="19.2" fill="url(#blc)"/>
<rect x="427.9" y="0" width="1.3" height="18.2" fill="url(#blc)"/>
<rect x="429.2" y="0" width="1.3" height="18.9" fill="url(#blc)"/>
<rect x="430.5" y="0" width="1.3" height="25.4" fill="url(#blc)"/>
<rect x="431.8" y="0" width="1.3" height="20.8" fill="url(#blc)"/>
<rect x="433.1" y="0" width="1.3" height="19.1" fill="url(#blc)"/>
<rect x="434.4" y="0" width="1.3" height="18.2" fill="url(#blc)"/>
<rect x="435.7" y="0" width="1.3" height="18.3" fill="url(#blc)"/>
<rect x="437.0" y="0" width="1.3" height="23.5" fill="url(#blc)"/>
<rect x="438.3" y="0" width="1.3" height="23.1" fill="url(#blc)"/>
<rect x="439.6" y="0" width="0.4" height="23.6" fill="url(#blc)"/>
<rect x="440.0" y="0" width="1.3" height="27.9" fill="url(#bla)"/>
<rect x="441.3" y="0" width="1.3" height="22.5" fill="url(#bla)"/>
<rect x="442.6" y="0" width="1.3" height="26.7" fill="url(#bla)"/>
<rect x="443.9" y="0" width="1.3" height="24.9" fill="url(#bla)"/>
<rect x="445.2" y="0" width="1.3" height="28.5" fill="url(#bla)"/>
<rect x="446.5" y="0" width="1.3" height="28.6" fill="url(#bla)"/>
<rect x="447.8" y="0" width="1.3" height="29.1" fill="url(#bla)"/>
<rect x="449.1" y="0" width="1.3" height="22.5" fill="url(#bla)"/>
<rect x="450.4" y="0" width="1.3" height="28.9" fill="url(#bla)"/>
<rect x="451.7" y="0" width="1.3" height="29.3" fill="url(#bla)"/>
<rect x="453.0" y="0" width="1.3" height="29.6" fill="url(#bla)"/>
<rect x="454.3" y="0" width="1.3" height="22.9" fill="url(#bla)"/>
<rect x="455.6" y="0" width="0.4" height="23.6" fill="url(#bla)"/>
<rect x="456.0" y="0" width="1.3" height="17.7" fill="url(#blo)"/>
<rect x="457.3" y="0" width="1.3" height="17.2" fill="url(#blo)"/>
<rect x="458.6" y="0" width="1.3" height="22.1" fill="url(#blo)"/>
<rect x="459.9" y="0" width="1.3" height="21.9" fill="url(#blo)"/>
<rect x="461.2" y="0" width="0.8" height="20.8" fill="url(#blo)"/>
<rect x="462.0" y="0" width="1.3" height="26.0" fill="url(#blr)"/>
<rect x="463.3" y="0" width="1.3" height="24.8" fill="url(#blr)"/>
<rect x="464.6" y="0" width="1.3" height="22.7" fill="url(#blr)"/>
<rect x="465.9" y="0" width="1.3" height="21.6" fill="url(#blr)"/>
<rect x="467.2" y="0" width="0.8" height="21.6" fill="url(#blr)"/>
<rect x="468.0" y="0" width="1.3" height="21.5" fill="url(#bly)"/>
<rect x="469.3" y="0" width="1.3" height="18.2" fill="url(#bly)"/>
<rect x="470.6" y="0" width="1.3" height="18.9" fill="url(#bly)"/>
<rect x="471.9" y="0" width="1.3" height="19.5" fill="url(#bly)"/>
<rect x="473.2" y="0" width="1.3" height="17.1" fill="url(#bly)"/>
<rect x="474.5" y="0" width="1.3" height="18.5" fill="url(#bly)"/>
<rect x="475.8" y="0" width="0.2" height="18.7" fill="url(#bly)"/>
<rect x="476.0" y="0" width="1.3" height="25.3" fill="url(#blw)"/>
<rect x="477.3" y="0" width="1.3" height="23.2" fill="url(#blw)"/>
<rect x="478.6" y="0" width="1.3" height="22.9" fill="url(#blw)"/>
<rect x="479.9" y="0" width="1.3" height="26.8" fill="url(#blw)"/>
<rect x="481.2" y="0" width="1.3" height="24.0" fill="url(#blw)"/>
<rect x="482.5" y="0" width="1.3" height="26.1" fill="url(#blw)"/>
<rect x="483.8" y="0" width="0.2" height="24.7" fill="url(#blw)"/>
<rect x="484.0" y="0" width="1.3" height="15.2" fill="url(#blg)"/>
<rect x="485.3" y="0" width="1.3" height="17.5" fill="url(#blg)"/>
<rect x="486.6" y="0" width="1.3" height="17.6" fill="url(#blg)"/>
<rect x="487.9" y="0" width="1.3" height="19.6" fill="url(#blg)"/>
<rect x="489.2" y="0" width="1.3" height="17.1" fill="url(#blg)"/>
<rect x="490.5" y="0" width="1.3" height="19.2" fill="url(#blg)"/>
<rect x="491.8" y="0" width="0.2" height="18.2" fill="url(#blg)"/>
<rect x="492.0" y="0" width="1.3" height="22.3" fill="url(#bly)"/>
<rect x="493.3" y="0" width="1.3" height="26.2" fill="url(#bly)"/>
<rect x="494.6" y="0" width="1.3" height="21.5" fill="url(#bly)"/>
<rect x="495.9" y="0" width="1.3" height="25.9" fill="url(#bly)"/>
<rect x="497.2" y="0" width="0.8" height="22.0" fill="url(#bly)"/>
<path d="M408.0 31.0q0.8 -3.2 1.6 0.5q1.4 -2.5 2.8 -0.0q1.1 -5.3 2.2 -0.6q1.1 -3.7 2.2 0.7q1.0 -5.8 1.9 -0.4q0.9 -4.9 1.9 -0.0q0.9 -4.7 1.7 -0.8q1.3 -4.9 2.5 0.6M440.0 28.0q1.2 -3.7 2.4 -0.2q1.0 -5.6 2.1 -0.8q1.3 -2.6 2.7 -0.6q1.0 -5.7 1.9 0.0q1.0 -5.6 2.1 -0.5q1.1 -4.4 2.2 0.5q1.3 -4.8 2.5 -0.3q1.0 -3.0 2.0 0.7q1.2 -5.1 2.4 -0.7q1.1 -5.2 2.1 0.2M466.0 24.0q0.9 -4.1 1.8 0.8q0.9 -3.2 1.9 -0.4q1.2 -5.5 2.4 -0.7q0.9 -3.4 1.8 -0.3q1.1 -3.1 2.2 -0.3q0.9 -5.9 1.8 0.5q0.9 -5.9 1.7 -0.8q1.0 -5.9 2.1 0.6M484.0 22.0q1.2 -4.0 2.5 -0.6q1.2 -2.9 2.4 -0.6q1.0 -2.6 2.1 -0.2q1.3 -4.9 2.5 0.0q1.2 -4.1 2.4 -0.7q1.2 -3.9 2.3 0.5" stroke="#eef2ff" stroke-width="0.6" opacity="0.85" fill="none"/>
<path d="M373.2 28.7v1.6M371.7 28.2v1.1M371.5 53.4v1.9M371.3 51.9v1.8M370.8 30.0v1.2M370.7 10.4v1.4M372.0 44.2v1.7M367.3 28.3v1.4M370.6 27.5v1.7M373.4 15.1v1.7M372.0 26.4v1.5M373.8 7.1v1.6M366.4 48.0v2.1M369.7 10.6v1.6M369.9 44.5v1.5M370.8 50.6v1.5M368.7 57.1v1.1M371.2 26.6v1.9M366.1 59.1v1.3M365.5 20.1v1.4M380.5 50.9v1.4M407.9 47.6v1.2M389.0 67.1v2.1M401.1 40.9v1.9M395.7 40.6v1.0M411.1 70.5v1.7M398.8 58.1v1.1M418.6 47.7v1.7M412.7 70.8v1.5M391.8 57.4v1.0M413.3 47.7v2.0M390.7 48.8v1.2M397.0 39.3v0.8M408.9 44.1v1.1" stroke="#d0d8f0" stroke-width="0.7" opacity="0.5" fill="none"/>
</g>
<line x1="367.8" y1="115.5" x2="367.8" y2="205.3" stroke="#fff" stroke-width="1.9" stroke-dasharray="3.2 3.1" opacity="0.92"/>
<line x1="449.7" y1="129.6" x2="449.7" y2="219.4" stroke="#fff" stroke-width="1.9" stroke-dasharray="3.2 3.1" opacity="0.92"/>
<g transform="matrix(1,-0.05638,0,-1,0,268.189)">
<rect x="610.0" y="0" width="74.5" height="90.8" fill="#0004d7"/>
<rect x="610.0" y="0" width="1.3" height="90.8" fill="#0a63f4"/>
<rect x="611.0" y="0" width="1.3" height="90.8" fill="#0a68f9"/>
<rect x="612.0" y="0" width="1.3" height="90.8" fill="#0a67f8"/>
<rect x="613.0" y="0" width="1.3" height="90.8" fill="#0000a4"/>
<rect x="614.0" y="0" width="1.3" height="90.8" fill="#0000a4"/>
<rect x="615.0" y="0" width="1.3" height="90.8" fill="#00009c"/>
<rect x="616.0" y="0" width="1.3" height="90.8" fill="#000061"/>
<rect x="617.0" y="0" width="1.3" height="90.8" fill="#00005f"/>
<rect x="618.0" y="0" width="1.3" height="90.8" fill="#00000a"/>
<rect x="619.0" y="0" width="1.3" height="90.8" fill="#00000a"/>
<rect x="620.0" y="0" width="1.3" height="90.8" fill="#00000a"/>
<rect x="621.0" y="0" width="1.3" height="90.8" fill="#00000a"/>
<rect x="622.0" y="0" width="1.3" height="90.8" fill="#00000a"/>
<rect x="623.0" y="0" width="1.3" height="90.8" fill="#000094"/>
<rect x="624.0" y="0" width="1.3" height="90.8" fill="#0000a9"/>
<rect x="625.0" y="0" width="1.3" height="90.8" fill="#0000ab"/>
<rect x="626.0" y="0" width="1.3" height="90.8" fill="#0000a8"/>
<rect x="627.0" y="0" width="1.3" height="90.8" fill="#000eeb"/>
<rect x="628.0" y="0" width="1.3" height="90.8" fill="#0021fe"/>
<rect x="629.0" y="0" width="1.3" height="90.8" fill="#001cf9"/>
<rect x="630.0" y="0" width="1.3" height="90.8" fill="#000ae7"/>
<rect x="631.0" y="0" width="1.3" height="90.8" fill="#000092"/>
<rect x="632.0" y="0" width="1.3" height="90.8" fill="#0000ad"/>
<rect x="633.0" y="0" width="1.3" height="90.8" fill="#0000a4"/>
<rect x="634.0" y="0" width="1.3" height="90.8" fill="#0011ee"/>
<rect x="635.0" y="0" width="1.3" height="90.8" fill="#000dea"/>
<rect x="636.0" y="0" width="1.3" height="90.8" fill="#000eeb"/>
<rect x="637.0" y="0" width="1.3" height="90.8" fill="#0011ee"/>
<rect x="638.0" y="0" width="1.3" height="90.8" fill="#0020fd"/>
<rect x="639.0" y="0" width="1.3" height="90.8" fill="#0014f1"/>
<rect x="640.0" y="0" width="1.3" height="90.8" fill="#000eeb"/>
<rect x="641.0" y="0" width="1.3" height="90.8" fill="#0023ff"/>
<rect x="642.0" y="0" width="1.3" height="90.8" fill="#000cdf"/>
<rect x="643.0" y="0" width="1.3" height="90.8" fill="#0000ce"/>
<rect x="644.0" y="0" width="1.3" height="90.8" fill="#000fe2"/>
<rect x="645.0" y="0" width="1.3" height="90.8" fill="#001bf8"/>
<rect x="646.0" y="0" width="1.3" height="90.8" fill="#0020fd"/>
<rect x="647.0" y="0" width="1.3" height="90.8" fill="#001dfa"/>
<rect x="648.0" y="0" width="1.3" height="90.8" fill="#0023ff"/>
<rect x="649.0" y="0" width="1.3" height="90.8" fill="#0020fd"/>
<rect x="650.0" y="0" width="1.3" height="90.8" fill="#0021fe"/>
<rect x="651.0" y="0" width="1.3" height="90.8" fill="#0010ed"/>
<rect x="652.0" y="0" width="1.3" height="90.8" fill="#001dfa"/>
<rect x="653.0" y="0" width="1.3" height="90.8" fill="#0019f6"/>
<rect x="654.0" y="0" width="1.3" height="90.8" fill="#0000a7"/>
<rect x="655.0" y="0" width="1.3" height="90.8" fill="#00009e"/>
<rect x="656.0" y="0" width="1.3" height="90.8" fill="#0000ab"/>
<rect x="657.0" y="0" width="1.3" height="90.8" fill="#001af7"/>
<rect x="658.0" y="0" width="1.3" height="90.8" fill="#0011ee"/>
<rect x="659.0" y="0" width="1.3" height="90.8" fill="#0011ee"/>
<rect x="660.0" y="0" width="1.3" height="90.8" fill="#000eeb"/>
<rect x="661.0" y="0" width="1.3" height="90.8" fill="#0018f5"/>
<rect x="662.0" y="0" width="1.3" height="90.8" fill="#000ce9"/>
<rect x="663.0" y="0" width="1.3" height="90.8" fill="#0017f4"/>
<rect x="664.0" y="0" width="1.3" height="90.8" fill="#00004b"/>
<rect x="665.0" y="0" width="1.3" height="90.8" fill="#000055"/>
<rect x="666.0" y="0" width="1.3" height="90.8" fill="#000055"/>
<rect x="667.0" y="0" width="1.3" height="90.8" fill="#0000a1"/>
<rect x="668.0" y="0" width="1.3" height="90.8" fill="#0000aa"/>
<rect x="669.0" y="0" width="1.3" height="90.8" fill="#000092"/>
<rect x="670.0" y="0" width="1.3" height="90.8" fill="#0000aa"/>
<rect x="671.0" y="0" width="1.3" height="90.8" fill="#001af7"/>
<rect x="672.0" y="0" width="1.3" height="90.8" fill="#0022ff"/>
<rect x="673.0" y="0" width="1.3" height="90.8" fill="#000051"/>
<rect x="674.0" y="0" width="1.3" height="90.8" fill="#000053"/>
<rect x="675.0" y="0" width="1.3" height="90.8" fill="#000062"/>
<rect x="676.0" y="0" width="1.3" height="90.8" fill="#0000cb"/>
<rect x="677.0" y="0" width="1.3" height="90.8" fill="#0008db"/>
<rect x="678.0" y="0" width="1.3" height="90.8" fill="#0008db"/>
<rect x="679.0" y="0" width="1.3" height="90.8" fill="#0000ca"/>
<rect x="680.0" y="0" width="1.3" height="90.8" fill="#001bf8"/>
<rect x="681.0" y="0" width="1.3" height="90.8" fill="#001dfa"/>
<rect x="682.0" y="0" width="1.3" height="90.8" fill="#0024ff"/>
<rect x="683.0" y="0" width="1.3" height="90.8" fill="#0013f0"/>
<rect x="684.0" y="0" width="0.5" height="90.8" fill="#0025ff"/>
<rect x="616.0" y="0" width="8.0" height="52" fill="url(#blu)"/>
<rect x="610.0" y="0" width="2.0" height="60" fill="url(#bla)"/>
<rect x="612.0" y="0" width="2.0" height="60" fill="url(#bla)"/>
<rect x="623.5" y="0" width="2.0" height="58" fill="url(#bla)"/>
<rect x="625.5" y="0" width="2.0" height="37" fill="url(#bla)"/>
<rect x="627.5" y="0" width="2.0" height="53" fill="url(#bla)"/>
<rect x="629.5" y="0" width="2.0" height="51" fill="url(#bla)"/>
<rect x="631.5" y="0" width="2.0" height="44" fill="url(#bla)"/>
<rect x="633.5" y="0" width="2.0" height="57" fill="url(#bla)"/>
<rect x="635.5" y="0" width="2.0" height="45" fill="url(#bla)"/>
<rect x="637.5" y="0" width="2.0" height="47" fill="url(#bla)"/>
<rect x="639.5" y="0" width="2.0" height="49" fill="url(#bla)"/>
<rect x="641.5" y="0" width="2.0" height="54" fill="url(#bla)"/>
<rect x="643.5" y="0" width="2.0" height="41" fill="url(#bla)"/>
<rect x="645.5" y="0" width="2.0" height="46" fill="url(#bla)"/>
<rect x="647.5" y="0" width="2.0" height="46" fill="url(#bla)"/>
<rect x="649.5" y="0" width="2.0" height="49" fill="url(#bla)"/>
<rect x="651.5" y="0" width="2.0" height="56" fill="url(#bla)"/>
<rect x="653.5" y="0" width="2.0" height="43" fill="url(#bla)"/>
<rect x="655.5" y="0" width="2.0" height="56" fill="url(#bla)"/>
<rect x="657.5" y="0" width="2.0" height="46" fill="url(#bla)"/>
<rect x="659.5" y="0" width="2.0" height="48" fill="url(#bla)"/>
<rect x="661.5" y="0" width="2.0" height="43" fill="url(#bla)"/>
<rect x="663.5" y="0" width="0.5" height="48" fill="url(#bla)"/>
<rect x="676.0" y="0" width="2.0" height="62" fill="url(#bla)"/>
<rect x="678.0" y="0" width="2.0" height="54" fill="url(#bla)"/>
<rect x="680.0" y="0" width="2.0" height="57" fill="url(#bla)"/>
<rect x="682.0" y="0" width="2.0" height="46" fill="url(#bla)"/>
<rect x="684.0" y="0" width="0.5" height="45" fill="url(#bla)"/>
<rect x="610.0" y="0" width="1.6" height="26" fill="url(#blh)"/>
<rect x="611.6" y="0" width="1.6" height="32" fill="url(#blh)"/>
<rect x="613.2" y="0" width="0.8" height="32" fill="url(#blh)"/>
<rect x="624.0" y="0" width="1.6" height="35" fill="url(#blh)"/>
<rect x="625.6" y="0" width="1.6" height="22" fill="url(#blh)"/>
<rect x="627.2" y="0" width="1.6" height="34" fill="url(#blh)"/>
<rect x="628.8" y="0" width="1.6" height="37" fill="url(#blh)"/>
<rect x="630.4" y="0" width="1.6" height="31" fill="url(#blh)"/>
<rect x="632.0" y="0" width="1.6" height="22" fill="url(#blh)"/>
<rect x="633.6" y="0" width="1.6" height="26" fill="url(#blh)"/>
<rect x="635.2" y="0" width="1.6" height="21" fill="url(#blh)"/>
<rect x="636.8" y="0" width="1.6" height="24" fill="url(#blh)"/>
<rect x="638.4" y="0" width="1.6" height="38" fill="url(#blh)"/>
<rect x="640.0" y="0" width="1.6" height="32" fill="url(#blh)"/>
<rect x="641.6" y="0" width="1.6" height="33" fill="url(#blh)"/>
<rect x="643.2" y="0" width="1.6" height="35" fill="url(#blh)"/>
<rect x="644.8" y="0" width="1.6" height="37" fill="url(#blh)"/>
<rect x="646.4" y="0" width="1.6" height="32" fill="url(#blh)"/>
<rect x="648.0" y="0" width="1.6" height="32" fill="url(#blh)"/>
<rect x="649.6" y="0" width="1.6" height="32" fill="url(#blh)"/>
<rect x="651.2" y="0" width="1.6" height="34" fill="url(#blh)"/>
<rect x="652.8" y="0" width="1.6" height="32" fill="url(#blh)"/>
<rect x="654.4" y="0" width="1.6" height="33" fill="url(#blh)"/>
<rect x="656.0" y="0" width="1.6" height="25" fill="url(#blh)"/>
<rect x="657.6" y="0" width="1.6" height="33" fill="url(#blh)"/>
<rect x="659.2" y="0" width="1.6" height="29" fill="url(#blh)"/>
<rect x="660.8" y="0" width="1.6" height="35" fill="url(#blh)"/>
<rect x="662.4" y="0" width="1.6" height="23" fill="url(#blh)"/>
<rect x="664.0" y="0" width="1.6" height="24" fill="url(#blh)"/>
<rect x="665.6" y="0" width="1.6" height="22" fill="url(#blh)"/>
<rect x="667.2" y="0" width="1.6" height="35" fill="url(#blh)"/>
<rect x="668.8" y="0" width="1.6" height="37" fill="url(#blh)"/>
<rect x="670.4" y="0" width="1.6" height="33" fill="url(#blh)"/>
<rect x="672.0" y="0" width="1.6" height="28" fill="url(#blh)"/>
<rect x="673.6" y="0" width="1.6" height="36" fill="url(#blh)"/>
<rect x="675.2" y="0" width="1.6" height="35" fill="url(#blh)"/>
<rect x="676.8" y="0" width="1.6" height="31" fill="url(#blh)"/>
<rect x="678.4" y="0" width="1.6" height="26" fill="url(#blh)"/>
<rect x="680.0" y="0" width="1.6" height="26" fill="url(#blh)"/>
<rect x="681.6" y="0" width="1.6" height="29" fill="url(#blh)"/>
<rect x="683.2" y="0" width="1.3" height="27" fill="url(#blh)"/>
<rect x="610.0" y="0" width="1.3" height="19.6" fill="url(#bly)"/>
<rect x="611.3" y="0" width="1.3" height="20.9" fill="url(#bly)"/>
<rect x="612.6" y="0" width="1.3" height="22.6" fill="url(#bly)"/>
<rect x="613.9" y="0" width="0.1" height="17.3" fill="url(#bly)"/>
<rect x="614.0" y="0" width="1.3" height="22.7" fill="url(#blc)"/>
<rect x="615.3" y="0" width="1.3" height="17.4" fill="url(#blc)"/>
<rect x="616.6" y="0" width="1.3" height="18.2" fill="url(#blc)"/>
<rect x="617.9" y="0" width="1.3" height="25.1" fill="url(#blc)"/>
<rect x="619.2" y="0" width="1.3" height="22.8" fill="url(#blc)"/>
<rect x="620.5" y="0" width="1.3" height="26.2" fill="url(#blc)"/>
<rect x="621.8" y="0" width="0.2" height="21.5" fill="url(#blc)"/>
<rect x="622.0" y="0" width="1.3" height="22.1" fill="url(#blo)"/>
<rect x="623.3" y="0" width="1.3" height="25.1" fill="url(#blo)"/>
<rect x="624.6" y="0" width="1.3" height="26.7" fill="url(#blo)"/>
<rect x="625.9" y="0" width="1.3" height="29.5" fill="url(#blo)"/>
<rect x="627.2" y="0" width="1.3" height="29.8" fill="url(#blo)"/>
<rect x="628.5" y="0" width="1.3" height="25.8" fill="url(#blo)"/>
<rect x="629.8" y="0" width="1.3" height="25.3" fill="url(#blo)"/>
<rect x="631.1" y="0" width="0.9" height="22.8" fill="url(#blo)"/>
<rect x="632.0" y="0" width="1.3" height="22.9" fill="url(#blg)"/>
<rect x="633.3" y="0" width="1.3" height="20.3" fill="url(#blg)"/>
<rect x="634.6" y="0" width="1.3" height="19.9" fill="url(#blg)"/>
<rect x="635.9" y="0" width="1.3" height="19.1" fill="url(#blg)"/>
<rect x="637.2" y="0" width="1.3" height="19.0" fill="url(#blg)"/>
<rect x="638.5" y="0" width="1.3" height="23.1" fill="url(#blg)"/>
<rect x="639.8" y="0" width="0.2" height="19.7" fill="url(#blg)"/>
<rect x="640.0" y="0" width="1.3" height="35.7" fill="url(#blo)"/>
<rect x="641.3" y="0" width="1.3" height="28.7" fill="url(#blo)"/>
<rect x="642.6" y="0" width="1.3" height="35.0" fill="url(#blo)"/>
<rect x="643.9" y="0" width="1.3" height="29.0" fill="url(#blo)"/>
<rect x="645.2" y="0" width="1.3" height="28.1" fill="url(#blo)"/>
<rect x="646.5" y="0" width="1.3" height="33.8" fill="url(#blo)"/>
<rect x="647.8" y="0" width="1.3" height="29.9" fill="url(#blo)"/>
<rect x="649.1" y="0" width="1.3" height="33.9" fill="url(#blo)"/>
<rect x="650.4" y="0" width="1.3" height="29.5" fill="url(#blo)"/>
<rect x="651.7" y="0" width="0.3" height="28.4" fill="url(#blo)"/>
<rect x="652.0" y="0" width="1.3" height="32.2" fill="url(#blr)"/>
<rect x="653.3" y="0" width="1.3" height="31.7" fill="url(#blr)"/>
<rect x="654.6" y="0" width="1.3" height="32.8" fill="url(#blr)"/>
<rect x="655.9" y="0" width="1.3" height="31.8" fill="url(#blr)"/>
<rect x="657.2" y="0" width="1.3" height="26.7" fill="url(#blr)"/>
<rect x="658.5" y="0" width="1.3" height="31.0" fill="url(#blr)"/>
<rect x="659.8" y="0" width="1.3" height="31.7" fill="url(#blr)"/>
<rect x="661.1" y="0" width="0.9" height="29.7" fill="url(#blr)"/>
<rect x="662.0" y="0" width="1.3" height="29.5" fill="url(#blo)"/>
<rect x="663.3" y="0" width="1.3" height="24.0" fill="url(#blo)"/>
<rect x="664.6" y="0" width="1.3" height="29.7" fill="url(#blo)"/>
<rect x="665.9" y="0" width="1.3" height="27.7" fill="url(#blo)"/>
<rect x="667.2" y="0" width="1.3" height="22.1" fill="url(#blo)"/>
<rect x="668.5" y="0" width="1.3" height="22.1" fill="url(#blo)"/>
<rect x="669.8" y="0" width="0.2" height="27.2" fill="url(#blo)"/>
<rect x="670.0" y="0" width="1.3" height="22.5" fill="url(#blg)"/>
<rect x="671.3" y="0" width="1.3" height="16.6" fill="url(#blg)"/>
<rect x="672.6" y="0" width="1.3" height="18.5" fill="url(#blg)"/>
<rect x="673.9" y="0" width="1.3" height="21.8" fill="url(#blg)"/>
<rect x="675.2" y="0" width="1.3" height="17.3" fill="url(#blg)"/>
<rect x="676.5" y="0" width="1.3" height="22.9" fill="url(#blg)"/>
<rect x="677.8" y="0" width="0.2" height="19.9" fill="url(#blg)"/>
<rect x="678.0" y="0" width="1.3" height="28.7" fill="url(#blg)"/>
<rect x="679.3" y="0" width="1.3" height="32.4" fill="url(#blg)"/>
<rect x="680.6" y="0" width="1.3" height="34.9" fill="url(#blg)"/>
<rect x="681.9" y="0" width="1.3" height="33.3" fill="url(#blg)"/>
<rect x="683.2" y="0" width="1.3" height="36.1" fill="url(#blg)"/>
<path d="M614.0 68.8v1.3M617.5 55.4v1.4M615.7 67.9v2.1M618.5 50.3v1.2M613.4 82.9v1.8M618.8 31.6v1.6M619.8 71.5v1.6M615.2 39.3v2.0M615.6 59.8v1.6M619.3 69.6v1.2M613.0 26.0v1.4M617.1 70.3v2.0M613.3 71.7v1.9M619.1 50.8v1.2M619.0 69.6v1.8M619.4 32.7v0.9M616.9 68.8v1.1M618.3 79.5v1.1M617.2 59.2v1.5M614.4 25.4v1.9M618.5 41.8v0.9M618.6 66.8v1.1M617.1 76.8v2.0M616.7 43.1v1.6M614.3 20.4v1.1M617.9 34.0v1.6M615.8 46.4v1.0M613.3 84.8v1.3M613.7 55.6v1.9M614.1 52.8v1.3M672.3 11.5v0.8M679.8 75.0v1.5M673.1 29.6v1.9M670.8 81.0v1.9M677.1 82.3v1.2M664.6 25.1v1.1M665.3 13.8v1.6M677.9 44.4v2.1M678.6 14.8v1.6M670.4 19.0v2.1M668.1 52.3v1.7M679.3 60.2v1.4M671.2 22.0v2.2M679.9 26.6v0.9M668.1 36.4v2.1M678.5 72.8v0.9" stroke="#d0d8f0" stroke-width="0.7" opacity="0.5" fill="none"/>
</g>
<line x1="672.0" y1="140.5" x2="672.0" y2="230.3" stroke="#fff" stroke-width="1.9" stroke-dasharray="3.2 3.1" opacity="0.92"/>
<g transform="matrix(1,-0.10390,0,-1,0,301.178)">
<rect x="720.7" y="0" width="30.8" height="90.8" fill="#0004d7"/>
<rect x="720.7" y="0" width="1.3" height="90.8" fill="#0020fd"/>
<rect x="721.7" y="0" width="1.3" height="90.8" fill="#001efb"/>
<rect x="722.7" y="0" width="1.3" height="90.8" fill="#000059"/>
<rect x="723.7" y="0" width="1.3" height="90.8" fill="#000063"/>
<rect x="724.7" y="0" width="1.3" height="90.8" fill="#0036ec"/>
<rect x="725.7" y="0" width="1.3" height="90.8" fill="#0038ee"/>
<rect x="726.7" y="0" width="1.3" height="90.8" fill="#0049ff"/>
<rect x="727.7" y="0" width="1.3" height="90.8" fill="#0000ac"/>
<rect x="728.7" y="0" width="1.3" height="90.8" fill="#0000a5"/>
<rect x="729.7" y="0" width="1.3" height="90.8" fill="#00009a"/>
<rect x="730.7" y="0" width="1.3" height="90.8" fill="#00000a"/>
<rect x="731.7" y="0" width="1.3" height="90.8" fill="#00000a"/>
<rect x="732.7" y="0" width="1.3" height="90.8" fill="#00000a"/>
<rect x="733.7" y="0" width="1.3" height="90.8" fill="#000058"/>
<rect x="734.7" y="0" width="1.3" height="90.8" fill="#00005c"/>
<rect x="735.7" y="0" width="1.3" height="90.8" fill="#00004a"/>
<rect x="736.7" y="0" width="1.3" height="90.8" fill="#003df3"/>
<rect x="737.7" y="0" width="1.3" height="90.8" fill="#003bf1"/>
<rect x="738.7" y="0" width="1.3" height="90.8" fill="#0037ed"/>
<rect x="739.7" y="0" width="1.3" height="90.8" fill="#000054"/>
<rect x="740.7" y="0" width="1.3" height="90.8" fill="#00004c"/>
<rect x="741.7" y="0" width="1.3" height="90.8" fill="#00004e"/>
<rect x="742.7" y="0" width="1.3" height="90.8" fill="#000eeb"/>
<rect x="743.7" y="0" width="1.3" height="90.8" fill="#001dfa"/>
<rect x="744.7" y="0" width="1.3" height="90.8" fill="#000ae7"/>
<rect x="745.7" y="0" width="1.3" height="90.8" fill="#001efb"/>
<rect x="746.7" y="0" width="1.3" height="90.8" fill="#000fec"/>
<rect x="747.7" y="0" width="1.3" height="90.8" fill="#000093"/>
<rect x="748.7" y="0" width="1.3" height="90.8" fill="#0000ac"/>
<rect x="749.7" y="0" width="1.3" height="90.8" fill="#000098"/>
<rect x="750.7" y="0" width="0.8" height="90.8" fill="#0000ac"/>
<rect x="720.7" y="0" width="2.0" height="47" fill="url(#bla)"/>
<rect x="722.7" y="0" width="2.0" height="48" fill="url(#bla)"/>
<rect x="724.7" y="0" width="2.0" height="33" fill="url(#bla)"/>
<rect x="726.7" y="0" width="2.0" height="39" fill="url(#bla)"/>
<rect x="728.7" y="0" width="2.0" height="32" fill="url(#bla)"/>
<rect x="730.7" y="0" width="2.0" height="49" fill="url(#bla)"/>
<rect x="732.7" y="0" width="2.0" height="47" fill="url(#bla)"/>
<rect x="734.7" y="0" width="2.0" height="43" fill="url(#bla)"/>
<rect x="736.7" y="0" width="2.0" height="39" fill="url(#bla)"/>
<rect x="738.7" y="0" width="2.0" height="37" fill="url(#bla)"/>
<rect x="740.7" y="0" width="2.0" height="46" fill="url(#bla)"/>
<rect x="742.7" y="0" width="2.0" height="40" fill="url(#bla)"/>
<rect x="744.7" y="0" width="2.0" height="43" fill="url(#bla)"/>
<rect x="746.7" y="0" width="2.0" height="33" fill="url(#bla)"/>
<rect x="748.7" y="0" width="2.0" height="34" fill="url(#bla)"/>
<rect x="750.7" y="0" width="0.8" height="31" fill="url(#bla)"/>
<rect x="734.0" y="0" width="1.6" height="29" fill="url(#blh)"/>
<rect x="735.6" y="0" width="1.6" height="27" fill="url(#blh)"/>
<rect x="737.2" y="0" width="1.6" height="20" fill="url(#blh)"/>
<rect x="738.8" y="0" width="1.6" height="32" fill="url(#blh)"/>
<rect x="740.4" y="0" width="1.6" height="22" fill="url(#blh)"/>
<rect x="742.0" y="0" width="1.6" height="25" fill="url(#blh)"/>
<rect x="743.6" y="0" width="1.6" height="21" fill="url(#blh)"/>
<rect x="745.2" y="0" width="1.6" height="22" fill="url(#blh)"/>
<rect x="746.8" y="0" width="1.6" height="31" fill="url(#blh)"/>
<rect x="748.4" y="0" width="1.6" height="23" fill="url(#blh)"/>
<rect x="750.0" y="0" width="1.5" height="21" fill="url(#blh)"/>
<rect x="720.7" y="0" width="1.3" height="13.9" fill="url(#blc)"/>
<rect x="722.0" y="0" width="1.3" height="12.5" fill="url(#blc)"/>
<rect x="723.3" y="0" width="1.3" height="17.2" fill="url(#blc)"/>
<rect x="724.6" y="0" width="1.3" height="10.9" fill="url(#blc)"/>
<rect x="725.9" y="0" width="1.3" height="17.8" fill="url(#blc)"/>
<rect x="727.2" y="0" width="0.8" height="10.5" fill="url(#blc)"/>
<rect x="728.0" y="0" width="1.3" height="22.0" fill="url(#blc)"/>
<rect x="729.3" y="0" width="1.3" height="19.7" fill="url(#blc)"/>
<rect x="730.6" y="0" width="1.3" height="15.1" fill="url(#blc)"/>
<rect x="731.9" y="0" width="1.3" height="17.8" fill="url(#blc)"/>
<rect x="733.2" y="0" width="1.3" height="15.9" fill="url(#blc)"/>
<rect x="734.5" y="0" width="1.3" height="15.6" fill="url(#blc)"/>
<rect x="735.8" y="0" width="0.2" height="15.0" fill="url(#blc)"/>
<rect x="736.0" y="0" width="1.3" height="16.9" fill="url(#bly)"/>
<rect x="737.3" y="0" width="1.3" height="21.9" fill="url(#bly)"/>
<rect x="738.6" y="0" width="1.3" height="22.0" fill="url(#bly)"/>
<rect x="739.9" y="0" width="1.3" height="21.4" fill="url(#bly)"/>
<rect x="741.2" y="0" width="0.8" height="14.8" fill="url(#bly)"/>
<rect x="742.0" y="0" width="1.3" height="14.7" fill="url(#blr)"/>
<rect x="743.3" y="0" width="1.3" height="18.4" fill="url(#blr)"/>
<rect x="744.6" y="0" width="1.3" height="13.3" fill="url(#blr)"/>
<rect x="745.9" y="0" width="1.3" height="17.4" fill="url(#blr)"/>
<rect x="747.2" y="0" width="0.8" height="14.8" fill="url(#blr)"/>
<rect x="748.0" y="0" width="1.3" height="24.8" fill="url(#blg)"/>
<rect x="749.3" y="0" width="1.3" height="15.2" fill="url(#blg)"/>
<rect x="750.6" y="0" width="0.9" height="23.1" fill="url(#blg)"/>
<path d="M727.1 20.9v0.8M734.5 51.1v1.1M728.5 81.1v1.1M730.6 20.8v1.1M733.6 65.5v1.1M723.2 16.8v1.7M729.4 31.4v1.1M731.2 65.2v1.9M730.7 25.8v0.9M733.0 41.8v1.8M722.8 73.2v1.3M734.6 77.4v1.5M722.2 81.0v1.5M735.1 30.8v1.1M734.5 38.6v1.0M727.6 56.4v0.8M729.8 44.8v1.5M723.8 65.7v1.9M735.0 35.0v1.8M727.7 68.6v0.9M735.1 84.4v1.5M729.7 51.4v1.6M722.3 85.5v1.1M724.7 18.0v1.2M734.3 12.3v0.9M732.5 25.2v0.8M731.0 55.0v1.5M732.5 18.0v2.0M732.8 13.5v1.0M729.4 49.1v1.2M723.8 41.6v1.0M730.9 77.2v1.0M730.6 68.2v1.0M734.4 83.1v1.3M728.3 75.5v1.5M727.9 83.4v1.9M727.1 28.7v1.3M728.5 86.5v1.9M735.7 73.6v2.0M722.8 50.4v2.1M750.6 37.0v1.4M748.8 44.8v1.5M745.4 49.4v1.5M745.1 29.5v2.2M749.7 83.7v1.7M749.9 80.1v2.0M745.2 63.6v1.2M749.1 38.6v1.6M750.5 62.2v1.2M748.1 49.5v2.1M746.7 40.8v1.7M745.7 60.4v2.1M748.1 38.3v1.5M748.2 30.1v1.0M745.8 40.0v1.4M746.7 36.6v0.9" stroke="#d0d8f0" stroke-width="0.7" opacity="0.5" fill="none"/>
</g>
<line x1="752.5" y1="183.4" x2="752.5" y2="210" stroke="#fff" stroke-width="2.2" stroke-dasharray="3 4.1"/>
<line x1="269.6" y1="135" x2="269.6" y2="177" stroke="#fff" stroke-width="1.9" stroke-dasharray="2.6 3.8"/>
<text x="173.9" y="51.1" font-size="9.4" fill="#1c1c1c" textLength="48.1" lengthAdjust="spacingAndGlyphs">2023-05-15</text>
<text x="259.4" y="66.8" font-size="9.4" fill="#1c1c1c" textLength="47.9" lengthAdjust="spacingAndGlyphs">2023-05-12</text>
<text x="271.9" y="87.4" font-size="9.4" fill="#1c1c1c" textLength="73.5" lengthAdjust="spacingAndGlyphs">2023-05-08 08:51</text>
<text x="309.0" y="99.9" font-size="9.4" fill="#1c1c1c" textLength="47.7" lengthAdjust="spacingAndGlyphs">2023-05-06</text>
<text x="368.5" y="112.4" font-size="9.4" fill="#1c1c1c" textLength="47.9" lengthAdjust="spacingAndGlyphs">2023-05-03</text>
<text x="450.9" y="127.5" font-size="9.4" fill="#1c1c1c" textLength="47.0" lengthAdjust="spacingAndGlyphs">2023-04-30</text>
<text x="495.1" y="137.0" font-size="9.4" fill="#1c1c1c" textLength="73.5" lengthAdjust="spacingAndGlyphs">2023-04-28 10:00</text>
<text x="586.7" y="138.8" font-size="9.4" fill="#1c1c1c" textLength="74.0" lengthAdjust="spacingAndGlyphs">2023-04-25 13:00</text>
<text x="671.9" y="136.0" font-size="9.4" fill="#1c1c1c" textLength="47.9" lengthAdjust="spacingAndGlyphs">2023-04-24</text>
<text x="66.4" y="74.4" font-size="21" fill="#000" font-weight="bold" textLength="24.6" lengthAdjust="spacingAndGlyphs">(a)</text>
<text x="85.3" y="133.4" font-size="15" fill="#d3232a" textLength="63.9" lengthAdjust="spacingAndGlyphs" stroke="#d3232a" stroke-width="0.35">Barbados</text>
<text x="214.3" y="177.2" font-size="15" fill="#efe9dc" textLength="41.0" lengthAdjust="spacingAndGlyphs" opacity="0.95">Recife</text>
<text x="682.5" y="238.6" font-size="15" fill="#e4e8ea" textLength="76.3" lengthAdjust="spacingAndGlyphs" opacity="0.95">La Réunion</text>
<path d="M157.00 139.40C155.60 135.08 153.00 132.80 153.00 129.80A4.00 4.00 0 1 1 161.00 129.80C161.00 132.80 158.40 135.08 157.00 139.40Z" fill="#e8161c"/>
<circle cx="157.00" cy="129.80" r="1.60" fill="#1a2a4a"/>
<path d="M260.70 172.40C259.30 167.90 256.70 165.40 256.70 162.40A4.00 4.00 0 1 1 264.70 162.40C264.70 165.40 262.10 167.90 260.70 172.40Z" fill="#e8161c"/>
<circle cx="260.70" cy="162.40" r="1.60" fill="#1a2a4a"/>
<path d="M752.50 223.30C751.24 219.43 748.90 217.40 748.90 214.70A3.60 3.60 0 1 1 756.10 214.70C756.10 217.40 753.76 219.43 752.50 223.30Z" fill="#e8161c"/>
<circle cx="752.50" cy="214.70" r="1.30" fill="#fff"/>
<g fill="#fff">
<path d="M781.8 195.5H767.2V193.2L759.2 196.8L767.2 200.4V198.1H781.8Z"/>
<path d="M756.6 213.4L784 212.1L783.2 216.5L781.5 219.2L759.5 220L757.2 217Z"/>
<path d="M757.6 211.9L760.5 208.3L763.5 206.5L777.5 205.6L780.3 208.5L780.9 211Z"/>
<path d="M768.5 205.8L770 202.2L775.8 202L777 205.5Z"/>
<rect x="770.8" y="199.6" width="4.4" height="1.8"/>
</g>
<g fill="#3a5f70"><rect x="759.6" y="216.00" width="1.7" height="1.5"/><rect x="763.1" y="215.93" width="1.7" height="1.5"/><rect x="766.6" y="215.86" width="1.7" height="1.5"/><rect x="770.1" y="215.79" width="1.7" height="1.5"/><rect x="773.6" y="215.72" width="1.7" height="1.5"/><rect x="777.1" y="215.65" width="1.7" height="1.5"/><rect x="780.6" y="215.58" width="1.7" height="1.5"/><rect x="761.5" y="209.50" width="1.5" height="0.7" opacity="0.6"/><rect x="764.1" y="209.44" width="1.5" height="0.7" opacity="0.6"/><rect x="766.7" y="209.38" width="1.5" height="0.7" opacity="0.6"/><rect x="769.3" y="209.32" width="1.5" height="0.7" opacity="0.6"/><rect x="771.9" y="209.26" width="1.5" height="0.7" opacity="0.6"/><rect x="774.5" y="209.20" width="1.5" height="0.7" opacity="0.6"/><rect x="777.1" y="209.14" width="1.5" height="0.7" opacity="0.6"/></g>
<rect x="612.30" y="65.6" width="11.51" height="16.6" fill="#000008"/>
<rect x="623.51" y="65.6" width="11.51" height="16.6" fill="#0000b5"/>
<rect x="634.72" y="65.6" width="11.51" height="16.6" fill="#0000eb"/>
<rect x="645.93" y="65.6" width="11.51" height="16.6" fill="#0022ff"/>
<rect x="657.14" y="65.6" width="11.51" height="16.6" fill="#0057ff"/>
<rect x="668.35" y="65.6" width="11.51" height="16.6" fill="#008dff"/>
<rect x="679.56" y="65.6" width="11.51" height="16.6" fill="#00c3ff"/>
<rect x="690.77" y="65.6" width="11.51" height="16.6" fill="#00f8ff"/>
<rect x="701.98" y="65.6" width="11.51" height="16.6" fill="#2fffd0"/>
<rect x="713.19" y="65.6" width="11.51" height="16.6" fill="#65ff9a"/>
<rect x="724.40" y="65.6" width="11.51" height="16.6" fill="#9aff65"/>
<rect x="735.61" y="65.6" width="11.51" height="16.6" fill="#d0ff2f"/>
<rect x="746.82" y="65.6" width="11.51" height="16.6" fill="#fff800"/>
<rect x="758.03" y="65.6" width="11.51" height="16.6" fill="#ffc300"/>
<rect x="769.24" y="65.6" width="11.51" height="16.6" fill="#ff8d00"/>
<rect x="780.45" y="65.6" width="11.51" height="16.6" fill="#ff5700"/>
<rect x="791.66" y="65.6" width="11.51" height="16.6" fill="#ff2200"/>
<rect x="802.87" y="65.6" width="11.51" height="16.6" fill="#eb0000"/>
<rect x="814.08" y="65.6" width="11.51" height="16.6" fill="#b50000"/>
<rect x="825.29" y="65.6" width="11.51" height="16.6" fill="#ffffff"/>
<rect x="612.3" y="65.6" width="224.2" height="16.6" fill="none" stroke="#777" stroke-width="0.5"/>
<text x="612.0" y="60.3" font-size="10.5" fill="#3a3a3a" text-anchor="middle">0</text>
<text x="661.7" y="60.3" font-size="10.5" fill="#3a3a3a" text-anchor="middle">2</text>
<text x="711.5" y="60.3" font-size="10.5" fill="#3a3a3a" text-anchor="middle">4</text>
<text x="761.2" y="60.3" font-size="10.5" fill="#3a3a3a" text-anchor="middle">6</text>
<text x="811.4" y="60.3" font-size="10.5" fill="#3a3a3a" text-anchor="middle">8</text>
<text x="724.8" y="46.8" font-size="10.5" fill="#3a3a3a" text-anchor="middle" textLength="41.0" lengthAdjust="spacingAndGlyphs">NRB [au]</text>
<text x="811.5" y="46.5" font-size="10.5" fill="#3a3a3a">×10<tspan dy="-4.5" font-size="7.5">-3</tspan></text>
<g transform="translate(0 0)">
<g clip-path="url(#cm)"><rect x="48.0" y="291.2" width="354.6" height="225.1" fill="#b1e0fb"/><g filter="url(#b6)" opacity="0.9"><ellipse cx="156.1" cy="309.9" rx="40" ry="18" fill="#c0e8fc"/><ellipse cx="187.3" cy="432.0" rx="10" ry="40" fill="#c8ecfd"/><ellipse cx="141.9" cy="490.8" rx="38" ry="14" fill="#bfe7fc"/><ellipse cx="241.3" cy="498.1" rx="45" ry="10" fill="#c0e8fc"/><ellipse cx="389.0" cy="463.4" rx="16" ry="30" fill="#c4eafc"/><ellipse cx="354.9" cy="505.7" rx="30" ry="8" fill="#bce6fb"/><ellipse cx="212.9" cy="388.2" rx="12" ry="10" fill="#bde6fb"/><ellipse cx="403.2" cy="374.0" rx="10" ry="40" fill="#c0e8fc"/><ellipse cx="113.5" cy="388.2" rx="10" ry="8" fill="#a9dcf9"/><ellipse cx="227.1" cy="438.1" rx="12" ry="10" fill="#abddf9"/></g><g filter="url(#b3)" fill="none" stroke="#c6eafc" stroke-width="5" opacity="0.8"><polygon points="14.1,339.7 22.6,339.7 28.3,339.7 34.0,344.0 45.3,344.0 51.0,343.4 53.9,346.9 56.7,349.8 60.4,355.2 64.4,358.4 70.0,358.6 75.7,359.8 80.0,363.2 82.8,369.7 84.2,374.0 87.9,377.4 91.3,377.4 99.3,380.2 102.1,382.8 107.8,383.4 113.5,383.7 117.8,384.5 122.0,387.6 126.8,388.8 128.3,393.9 127.7,399.7 123.4,404.0 120.6,408.3 117.8,411.2 116.3,417.1 116.3,424.5 114.4,430.5 112.1,435.0 110.7,438.1 107.8,441.1 100.7,441.8 95.6,444.2 90.8,448.9 89.1,453.7 88.8,458.5 85.1,463.4 82.3,468.3 78.9,471.7 75.2,476.8 71.2,479.9 66.6,479.5 61.2,477.8 64.7,483.7 63.8,490.8 59.5,493.4 51.0,494.5 50.2,500.0 42.5,501.9 42.5,509.5 43.9,517.4 36.8,521.5 14.1,525.6"/><polygon points="210.1,264.3 200.1,281.3 198.7,287.9 190.2,292.7 184.5,303.8 178.8,313.0 180.2,319.0 180.2,328.0 177.4,331.8 179.7,338.2 184.5,342.6 188.8,346.9 190.2,349.8 194.4,354.1 200.1,358.4 205.8,361.5 212.9,359.8 218.6,359.5 224.3,358.9 229.9,356.9 235.6,355.8 239.9,356.4 242.7,361.2 247.0,361.5 251.2,360.9 254.1,363.2 254.9,368.3 253.5,372.6 252.7,376.8 255.5,382.5 259.8,386.8 261.7,391.1 264.0,398.2 266.0,405.4 262.6,412.7 260.6,420.0 260.6,426.0 264.0,435.0 268.3,441.1 269.1,447.4 270.3,453.7 274.0,460.1 276.8,468.3 279.1,473.4 279.6,477.8 283.9,479.5 289.6,477.5 295.3,477.1 300.1,476.8 305.2,474.1 309.5,470.0 313.7,465.0 316.6,460.1 320.3,453.7 320.3,448.9 326.5,445.8 327.9,438.1 325.9,432.0 330.8,427.5 336.4,423.0 342.1,418.6 342.7,411.2 342.1,404.0 339.3,396.8 337.9,391.1 339.3,385.4 343.5,379.7 349.2,372.6 356.3,366.9 363.4,359.8 367.7,351.2 371.9,344.0 372.5,340.2 366.3,341.7 357.7,343.1 352.1,344.0 349.8,341.1 349.2,337.3 343.5,330.9 339.3,328.0 336.4,320.5 333.0,314.5 332.2,309.9 327.9,303.8 325.1,294.3 319.4,284.6 318.8,280.7 312.3,280.3 298.1,278.7 283.9,278.0 281.1,283.6 269.7,276.3 258.3,272.9 255.5,260.7 241.3,261.5 227.1,265.0 218.6,267.1"/><polygon points="367.1,408.3 370.0,418.6 367.7,424.5 365.7,432.0 362.9,441.1 360.6,447.4 355.8,448.9 352.1,445.8 350.6,438.1 352.9,432.0 352.1,423.0 357.7,419.5 363.4,412.7"/><polygon points="326.2,286.3 330.8,297.5 336.4,308.4 339.3,316.0 343.5,322.0 347.8,329.4 350.1,337.3 354.9,337.3 363.4,333.8 374.8,328.0 383.3,324.1 390.4,319.0 396.9,308.4 393.2,304.7 387.6,302.2 387.0,296.5 380.5,303.1 373.4,302.8 372.8,297.5 369.7,295.9 363.4,286.3 369.1,284.0 374.8,291.8 383.3,295.3 389.0,294.3 391.8,299.1 403.2,300.0 425.9,299.4 425.9,249.9 326.2,249.9"/></g><polygon points="14.1,339.7 22.6,339.7 28.3,339.7 34.0,344.0 45.3,344.0 51.0,343.4 53.9,346.9 56.7,349.8 60.4,355.2 64.4,358.4 70.0,358.6 75.7,359.8 80.0,363.2 82.8,369.7 84.2,374.0 87.9,377.4 91.3,377.4 99.3,380.2 102.1,382.8 107.8,383.4 113.5,383.7 117.8,384.5 122.0,387.6 126.8,388.8 128.3,393.9 127.7,399.7 123.4,404.0 120.6,408.3 117.8,411.2 116.3,417.1 116.3,424.5 114.4,430.5 112.1,435.0 110.7,438.1 107.8,441.1 100.7,441.8 95.6,444.2 90.8,448.9 89.1,453.7 88.8,458.5 85.1,463.4 82.3,468.3 78.9,471.7 75.2,476.8 71.2,479.9 66.6,479.5 61.2,477.8 64.7,483.7 63.8,490.8 59.5,493.4 51.0,494.5 50.2,500.0 42.5,501.9 42.5,509.5 43.9,517.4 36.8,521.5 14.1,525.6" fill="#f3f3ee" stroke="#d9dcd6" stroke-width="0.5"/><polygon points="210.1,264.3 200.1,281.3 198.7,287.9 190.2,292.7 184.5,303.8 178.8,313.0 180.2,319.0 180.2,328.0 177.4,331.8 179.7,338.2 184.5,342.6 188.8,346.9 190.2,349.8 194.4,354.1 200.1,358.4 205.8,361.5 212.9,359.8 218.6,359.5 224.3,358.9 229.9,356.9 235.6,355.8 239.9,356.4 242.7,361.2 247.0,361.5 251.2,360.9 254.1,363.2 254.9,368.3 253.5,372.6 252.7,376.8 255.5,382.5 259.8,386.8 261.7,391.1 264.0,398.2 266.0,405.4 262.6,412.7 260.6,420.0 260.6,426.0 264.0,435.0 268.3,441.1 269.1,447.4 270.3,453.7 274.0,460.1 276.8,468.3 279.1,473.4 279.6,477.8 283.9,479.5 289.6,477.5 295.3,477.1 300.1,476.8 305.2,474.1 309.5,470.0 313.7,465.0 316.6,460.1 320.3,453.7 320.3,448.9 326.5,445.8 327.9,438.1 325.9,432.0 330.8,427.5 336.4,423.0 342.1,418.6 342.7,411.2 342.1,404.0 339.3,396.8 337.9,391.1 339.3,385.4 343.5,379.7 349.2,372.6 356.3,366.9 363.4,359.8 367.7,351.2 371.9,344.0 372.5,340.2 366.3,341.7 357.7,343.1 352.1,344.0 349.8,341.1 349.2,337.3 343.5,330.9 339.3,328.0 336.4,320.5 333.0,314.5 332.2,309.9 327.9,303.8 325.1,294.3 319.4,284.6 318.8,280.7 312.3,280.3 298.1,278.7 283.9,278.0 281.1,283.6 269.7,276.3 258.3,272.9 255.5,260.7 241.3,261.5 227.1,265.0 218.6,267.1" fill="#f3f3ee" stroke="#d9dcd6" stroke-width="0.5"/><polygon points="367.1,408.3 370.0,418.6 367.7,424.5 365.7,432.0 362.9,441.1 360.6,447.4 355.8,448.9 352.1,445.8 350.6,438.1 352.9,432.0 352.1,423.0 357.7,419.5 363.4,412.7" fill="#f3f3ee" stroke="#d9dcd6" stroke-width="0.5"/><polygon points="326.2,286.3 330.8,297.5 336.4,308.4 339.3,316.0 343.5,322.0 347.8,329.4 350.1,337.3 354.9,337.3 363.4,333.8 374.8,328.0 383.3,324.1 390.4,319.0 396.9,308.4 393.2,304.7 387.6,302.2 387.0,296.5 380.5,303.1 373.4,302.8 372.8,297.5 369.7,295.9 363.4,286.3 369.1,284.0 374.8,291.8 383.3,295.3 389.0,294.3 391.8,299.1 403.2,300.0 425.9,299.4 425.9,249.9 326.2,249.9" fill="#f3f3ee" stroke="#d9dcd6" stroke-width="0.5"/><g filter="url(#b6)" opacity="0.9" clip-path="url(#clandm)"><ellipse cx="62.4" cy="374.0" rx="30" ry="22" fill="#dfe9cf"/><ellipse cx="85.1" cy="447.4" rx="12" ry="26" fill="#e4ecd6"/><ellipse cx="289.6" cy="379.7" rx="34" ry="22" fill="#dde8cc"/><ellipse cx="204.4" cy="351.2" rx="22" ry="8" fill="#e0ead0"/><ellipse cx="318.0" cy="426.0" rx="18" ry="26" fill="#e6edd8"/><ellipse cx="360.6" cy="429.0" rx="5" ry="14" fill="#e6edd8"/></g><path d="M62.4 354.1L65.2 368.3L56.7 371.2L56.7 388.2L42.5 402.5L56.7 414.2L62.4 421.5L62.4 432.0L70.9 444.2L72.3 450.5L63.8 464.4L75.2 475.8M65.2 368.3L73.7 367.5L80.6 362.6M62.4 432.0L49.6 438.1L42.5 438.1M63.8 464.4L61.2 476.8M70.9 444.2L62.4 454.6L63.8 464.4M178.8 313.0L190.2 312.1L190.2 305.3L202.4 293.4L202.4 287.9M190.2 312.1L210.1 300.6L213.5 300.6M210.1 300.6L211.5 328.0L194.4 329.4L193.0 338.5L179.7 338.2M213.5 300.6L239.0 318.4L239.0 326.5L227.1 330.9L211.5 328.0M239.0 318.4L261.2 305.3L269.7 306.9L295.3 317.5L295.3 278.7M261.2 305.3L254.1 284.6L249.8 274.6M269.7 306.9L271.1 325.0L265.4 334.7L268.3 338.2L269.7 345.5L264.6 349.8L259.8 355.5L252.7 360.9M239.0 326.5L237.3 340.5L234.8 355.8M237.3 340.5L247.0 336.8L265.4 334.7M227.1 330.9L227.7 342.6L231.6 356.6M211.5 328.0L211.5 344.6L218.6 359.5M204.4 345.5L203.0 352.6L205.8 361.5M194.4 329.4L204.4 345.5L189.3 348.0M295.3 317.5L295.3 328.8L291.0 337.6L291.9 342.6L304.9 359.8L314.6 364.1L323.7 362.1L329.1 360.9L329.3 345.5L336.7 322.0M295.3 309.9L331.9 309.9M269.7 345.5L291.9 342.6M271.1 325.0L295.3 328.8M304.9 359.8L279.9 364.1L273.1 369.2L264.0 387.1M273.1 369.2L254.9 367.8M314.6 364.1L311.2 378.0L309.5 386.5L314.6 397.4L307.8 400.5L309.5 412.4L295.3 405.4L289.6 411.2L295.3 424.5L299.0 425.4L283.9 426.0L283.9 438.1L283.9 458.2L276.5 459.1M264.0 387.1L261.7 391.1M295.3 405.4L289.6 405.4L289.0 394.8L274.2 390.8L264.0 390.8M260.6 423.9L266.6 424.2L295.3 424.5M283.9 438.1L283.9 446.7L292.4 448.3L299.8 449.3L310.6 438.7L316.0 439.3L318.0 453.0M299.0 425.4L310.6 438.7M299.0 425.4L313.4 418.9L320.8 414.2L320.0 401.4L314.6 397.4M313.4 418.9L320.5 422.1L320.5 432.0L316.0 439.3M320.8 414.2L326.5 407.2L341.8 404.0M326.5 407.2L323.7 401.1L320.0 401.4M311.2 378.0L313.7 376.8L323.4 376.8L333.9 382.5L338.4 387.4M323.4 376.8L323.7 362.1M329.1 360.9L343.5 362.6L343.5 378.8M343.5 362.6L354.9 359.8L363.4 351.2L349.2 341.1M329.3 345.5L347.5 338.2" fill="none" stroke="#cfcfcf" stroke-width="0.5"/><path d="M54.7 291.2V516.3M97.3 291.2V516.3M139.9 291.2V516.3M182.5 291.2V516.3M225.1 291.2V516.3M267.7 291.2V516.3M310.3 291.2V516.3M352.9 291.2V516.3M395.5 291.2V516.3M48.0 332.7H402.6M48.0 375.8H402.6M48.0 418.9H402.6M48.0 465.2H402.6" stroke="#7a8a96" stroke-width="0.4" opacity="0.26" fill="none"/><text x="73.7" y="404.0" font-size="2.6" fill="#9a9a9a" text-anchor="middle">BRAZIL</text><text x="62.4" y="356.4" font-size="2.6" fill="#9a9a9a" text-anchor="middle">Georgetown</text><text x="56.7" y="364.1" font-size="2.6" fill="#9a9a9a" text-anchor="middle">Guyana</text><text x="91.1" y="419.5" font-size="2.6" fill="#9a9a9a" text-anchor="middle">Brasília</text><text x="103.6" y="439.9" font-size="2.6" fill="#9a9a9a" text-anchor="middle">Rio de Janeiro</text><text x="117.8" y="385.1" font-size="2.6" fill="#9a9a9a" text-anchor="middle">Fortaleza</text><text x="117.8" y="410.7" font-size="2.6" fill="#9a9a9a" text-anchor="middle">Salvador</text><text x="81.7" y="463.4" font-size="2.6" fill="#9a9a9a" text-anchor="middle">Porto Alegre</text><text x="67.5" y="478.8" font-size="2.6" fill="#9a9a9a" text-anchor="middle">Montevideo</text><text x="63.5" y="448.3" font-size="2.6" fill="#9a9a9a" text-anchor="middle">Asunción</text><text x="62.4" y="442.7" font-size="2.6" fill="#9a9a9a" text-anchor="middle">PARAGUAY</text><text x="56.7" y="487.3" font-size="2.6" fill="#9a9a9a" text-anchor="middle">ARG</text><text x="204.4" y="337.9" font-size="2.6" fill="#9a9a9a" text-anchor="middle">Bamako</text><text x="221.4" y="325.0" font-size="2.6" fill="#9a9a9a" text-anchor="middle">MALI</text><text x="252.7" y="325.0" font-size="2.6" fill="#9a9a9a" text-anchor="middle">NIGER</text><text x="278.2" y="330.9" font-size="2.6" fill="#9a9a9a" text-anchor="middle">CHAD</text><text x="248.4" y="348.0" font-size="2.6" fill="#9a9a9a" text-anchor="middle">Abuja</text><text x="249.8" y="343.1" font-size="2.6" fill="#9a9a9a" text-anchor="middle">NIGERIA</text><text x="236.8" y="355.2" font-size="2.6" fill="#9a9a9a" text-anchor="middle">Lagos</text><text x="188.8" y="346.3" font-size="2.6" fill="#9a9a9a" text-anchor="middle">Conakry</text><text x="198.7" y="316.0" font-size="2.6" fill="#9a9a9a" text-anchor="middle">MAURITANIA</text><text x="190.2" y="300.6" font-size="2.6" fill="#9a9a9a" text-anchor="middle">WESTERN SAHARA</text><text x="235.6" y="291.1" font-size="2.6" fill="#9a9a9a" text-anchor="middle">ALGERIA</text><text x="275.4" y="294.3" font-size="2.6" fill="#9a9a9a" text-anchor="middle">LIBYA</text><text x="259.8" y="362.9" font-size="2.6" fill="#9a9a9a" text-anchor="middle">Yaoundé</text><text x="286.7" y="354.1" font-size="2.6" fill="#9a9a9a" text-anchor="middle">CENTRAL AFRICAN REPUBLIC</text><text x="210.1" y="352.6" font-size="2.6" fill="#9a9a9a" text-anchor="middle">CÔTE D'IVOIRE</text><text x="276.8" y="409.2" font-size="2.6" fill="#9a9a9a" text-anchor="middle">ANGOLA</text><text x="276.8" y="438.1" font-size="2.6" fill="#9a9a9a" text-anchor="middle">NAMIBIA</text><text x="295.3" y="439.0" font-size="2.6" fill="#9a9a9a" text-anchor="middle">BOTSWANA</text><text x="296.7" y="461.7" font-size="2.6" fill="#9a9a9a" text-anchor="middle">SOUTH AFRICA</text><text x="279.4" y="475.4" font-size="2.6" fill="#9a9a9a" text-anchor="middle">Cape Town</text><text x="306.6" y="418.3" font-size="2.6" fill="#9a9a9a" text-anchor="middle">Lusaka</text><text x="311.7" y="429.0" font-size="2.6" fill="#9a9a9a" text-anchor="middle">ZIMBABWE</text><text x="327.9" y="427.5" font-size="2.6" fill="#9a9a9a" text-anchor="middle">MOZAMBIQUE</text><text x="319.7" y="450.2" font-size="2.6" fill="#9a9a9a" text-anchor="middle">Maputo</text><text x="362.0" y="428.7" font-size="2.6" fill="#9a9a9a" text-anchor="middle">Antananarivo</text><text x="326.5" y="391.1" font-size="2.6" fill="#9a9a9a" text-anchor="middle">TANZANIA</text><text x="292.4" y="382.5" font-size="2.6" fill="#9a9a9a" text-anchor="middle">DR CONGO</text><text x="335.0" y="372.6" font-size="2.6" fill="#9a9a9a" text-anchor="middle">KENYA</text><text x="193.0" y="487.3" font-size="2.6" fill="#9a9a9a" text-anchor="middle">Tristan da Cunha</text><rect x="49.1" y="494.1" width="51.7" height="10.4" fill="#fff" opacity="0.6"/><rect x="49.1" y="504.5" width="41.7" height="11.3" fill="#fff" opacity="0.6"/><path d="M49.1 494.1V515.8M49.1 504.5H100.8V499M49.1 515.8H90.8V510" stroke="#777" stroke-width="0.7" fill="none"/><text x="51" y="502.5" font-size="5.6" fill="#333">2000 km</text><text x="51" y="513.3" font-size="5.6" fill="#333">1000 mi</text>
<rect x="321" y="510.6" width="81.6" height="5.7" fill="#fff" opacity="0.65"/>
<text x="401.6" y="515.2" font-size="4.2" fill="#444" text-anchor="end">Esri, TomTom, Garmin, FAO, NOAA, USGS</text>
</g>
<rect x="48.0" y="291.2" width="354.6" height="225.1" fill="none" stroke="#8a8a8a" stroke-width="0.6"/>
<path d="M54.7 516.3v-3M54.7 291.2v3M97.3 516.3v-3M97.3 291.2v3M139.9 516.3v-3M139.9 291.2v3M182.5 516.3v-3M182.5 291.2v3M225.1 516.3v-3M225.1 291.2v3M267.7 516.3v-3M267.7 291.2v3M310.3 516.3v-3M310.3 291.2v3M352.9 516.3v-3M352.9 291.2v3M395.5 516.3v-3M395.5 291.2v3M48.0 332.7h3M402.6 332.7h-3M48.0 375.8h3M402.6 375.8h-3M48.0 418.9h3M402.6 418.9h-3M48.0 465.2h3M402.6 465.2h-3" stroke="#444" stroke-width="0.6" fill="none"/>
<text x="55.0" y="528.0" font-size="7.6" fill="#333" text-anchor="middle">-60°</text>
<text x="97.6" y="528.0" font-size="7.6" fill="#333" text-anchor="middle">-45°</text>
<text x="140.2" y="528.0" font-size="7.6" fill="#333" text-anchor="middle">-30°</text>
<text x="182.8" y="528.0" font-size="7.6" fill="#333" text-anchor="middle">-15°</text>
<text x="225.4" y="528.0" font-size="7.6" fill="#333" text-anchor="middle">0°</text>
<text x="268.0" y="528.0" font-size="7.6" fill="#333" text-anchor="middle">15°</text>
<text x="310.6" y="528.0" font-size="7.6" fill="#333" text-anchor="middle">30°</text>
<text x="353.2" y="528.0" font-size="7.6" fill="#333" text-anchor="middle">45°</text>
<text x="395.8" y="528.0" font-size="7.6" fill="#333" text-anchor="middle">60°</text>
<text x="45.0" y="335.4" font-size="7.6" fill="#333" text-anchor="end">15°</text>
<text x="45.0" y="378.5" font-size="7.6" fill="#333" text-anchor="end">0°</text>
<text x="45.0" y="421.6" font-size="7.6" fill="#333" text-anchor="end">-15°</text>
<text x="45.0" y="467.9" font-size="7.6" fill="#333" text-anchor="end">-30°</text>
<text x="225.3" y="538.2" font-size="8" fill="#333" text-anchor="middle" textLength="39.0" lengthAdjust="spacingAndGlyphs">Longitude</text>
</g>
<g transform="translate(432.0 0)">
<g clip-path="url(#cm)"><rect x="48.0" y="291.2" width="354.6" height="225.1" fill="#b1e0fb"/><g filter="url(#b6)" opacity="0.9"><ellipse cx="156.1" cy="309.9" rx="40" ry="18" fill="#c0e8fc"/><ellipse cx="187.3" cy="432.0" rx="10" ry="40" fill="#c8ecfd"/><ellipse cx="141.9" cy="490.8" rx="38" ry="14" fill="#bfe7fc"/><ellipse cx="241.3" cy="498.1" rx="45" ry="10" fill="#c0e8fc"/><ellipse cx="389.0" cy="463.4" rx="16" ry="30" fill="#c4eafc"/><ellipse cx="354.9" cy="505.7" rx="30" ry="8" fill="#bce6fb"/><ellipse cx="212.9" cy="388.2" rx="12" ry="10" fill="#bde6fb"/><ellipse cx="403.2" cy="374.0" rx="10" ry="40" fill="#c0e8fc"/><ellipse cx="113.5" cy="388.2" rx="10" ry="8" fill="#a9dcf9"/><ellipse cx="227.1" cy="438.1" rx="12" ry="10" fill="#abddf9"/></g><g filter="url(#b3)" fill="none" stroke="#c6eafc" stroke-width="5" opacity="0.8"><polygon points="14.1,339.7 22.6,339.7 28.3,339.7 34.0,344.0 45.3,344.0 51.0,343.4 53.9,346.9 56.7,349.8 60.4,355.2 64.4,358.4 70.0,358.6 75.7,359.8 80.0,363.2 82.8,369.7 84.2,374.0 87.9,377.4 91.3,377.4 99.3,380.2 102.1,382.8 107.8,383.4 113.5,383.7 117.8,384.5 122.0,387.6 126.8,388.8 128.3,393.9 127.7,399.7 123.4,404.0 120.6,408.3 117.8,411.2 116.3,417.1 116.3,424.5 114.4,430.5 112.1,435.0 110.7,438.1 107.8,441.1 100.7,441.8 95.6,444.2 90.8,448.9 89.1,453.7 88.8,458.5 85.1,463.4 82.3,468.3 78.9,471.7 75.2,476.8 71.2,479.9 66.6,479.5 61.2,477.8 64.7,483.7 63.8,490.8 59.5,493.4 51.0,494.5 50.2,500.0 42.5,501.9 42.5,509.5 43.9,517.4 36.8,521.5 14.1,525.6"/><polygon points="210.1,264.3 200.1,281.3 198.7,287.9 190.2,292.7 184.5,303.8 178.8,313.0 180.2,319.0 180.2,328.0 177.4,331.8 179.7,338.2 184.5,342.6 188.8,346.9 190.2,349.8 194.4,354.1 200.1,358.4 205.8,361.5 212.9,359.8 218.6,359.5 224.3,358.9 229.9,356.9 235.6,355.8 239.9,356.4 242.7,361.2 247.0,361.5 251.2,360.9 254.1,363.2 254.9,368.3 253.5,372.6 252.7,376.8 255.5,382.5 259.8,386.8 261.7,391.1 264.0,398.2 266.0,405.4 262.6,412.7 260.6,420.0 260.6,426.0 264.0,435.0 268.3,441.1 269.1,447.4 270.3,453.7 274.0,460.1 276.8,468.3 279.1,473.4 279.6,477.8 283.9,479.5 289.6,477.5 295.3,477.1 300.1,476.8 305.2,474.1 309.5,470.0 313.7,465.0 316.6,460.1 320.3,453.7 320.3,448.9 326.5,445.8 327.9,438.1 325.9,432.0 330.8,427.5 336.4,423.0 342.1,418.6 342.7,411.2 342.1,404.0 339.3,396.8 337.9,391.1 339.3,385.4 343.5,379.7 349.2,372.6 356.3,366.9 363.4,359.8 367.7,351.2 371.9,344.0 372.5,340.2 366.3,341.7 357.7,343.1 352.1,344.0 349.8,341.1 349.2,337.3 343.5,330.9 339.3,328.0 336.4,320.5 333.0,314.5 332.2,309.9 327.9,303.8 325.1,294.3 319.4,284.6 318.8,280.7 312.3,280.3 298.1,278.7 283.9,278.0 281.1,283.6 269.7,276.3 258.3,272.9 255.5,260.7 241.3,261.5 227.1,265.0 218.6,267.1"/><polygon points="367.1,408.3 370.0,418.6 367.7,424.5 365.7,432.0 362.9,441.1 360.6,447.4 355.8,448.9 352.1,445.8 350.6,438.1 352.9,432.0 352.1,423.0 357.7,419.5 363.4,412.7"/><polygon points="326.2,286.3 330.8,297.5 336.4,308.4 339.3,316.0 343.5,322.0 347.8,329.4 350.1,337.3 354.9,337.3 363.4,333.8 374.8,328.0 383.3,324.1 390.4,319.0 396.9,308.4 393.2,304.7 387.6,302.2 387.0,296.5 380.5,303.1 373.4,302.8 372.8,297.5 369.7,295.9 363.4,286.3 369.1,284.0 374.8,291.8 383.3,295.3 389.0,294.3 391.8,299.1 403.2,300.0 425.9,299.4 425.9,249.9 326.2,249.9"/></g><polygon points="14.1,339.7 22.6,339.7 28.3,339.7 34.0,344.0 45.3,344.0 51.0,343.4 53.9,346.9 56.7,349.8 60.4,355.2 64.4,358.4 70.0,358.6 75.7,359.8 80.0,363.2 82.8,369.7 84.2,374.0 87.9,377.4 91.3,377.4 99.3,380.2 102.1,382.8 107.8,383.4 113.5,383.7 117.8,384.5 122.0,387.6 126.8,388.8 128.3,393.9 127.7,399.7 123.4,404.0 120.6,408.3 117.8,411.2 116.3,417.1 116.3,424.5 114.4,430.5 112.1,435.0 110.7,438.1 107.8,441.1 100.7,441.8 95.6,444.2 90.8,448.9 89.1,453.7 88.8,458.5 85.1,463.4 82.3,468.3 78.9,471.7 75.2,476.8 71.2,479.9 66.6,479.5 61.2,477.8 64.7,483.7 63.8,490.8 59.5,493.4 51.0,494.5 50.2,500.0 42.5,501.9 42.5,509.5 43.9,517.4 36.8,521.5 14.1,525.6" fill="#f3f3ee" stroke="#d9dcd6" stroke-width="0.5"/><polygon points="210.1,264.3 200.1,281.3 198.7,287.9 190.2,292.7 184.5,303.8 178.8,313.0 180.2,319.0 180.2,328.0 177.4,331.8 179.7,338.2 184.5,342.6 188.8,346.9 190.2,349.8 194.4,354.1 200.1,358.4 205.8,361.5 212.9,359.8 218.6,359.5 224.3,358.9 229.9,356.9 235.6,355.8 239.9,356.4 242.7,361.2 247.0,361.5 251.2,360.9 254.1,363.2 254.9,368.3 253.5,372.6 252.7,376.8 255.5,382.5 259.8,386.8 261.7,391.1 264.0,398.2 266.0,405.4 262.6,412.7 260.6,420.0 260.6,426.0 264.0,435.0 268.3,441.1 269.1,447.4 270.3,453.7 274.0,460.1 276.8,468.3 279.1,473.4 279.6,477.8 283.9,479.5 289.6,477.5 295.3,477.1 300.1,476.8 305.2,474.1 309.5,470.0 313.7,465.0 316.6,460.1 320.3,453.7 320.3,448.9 326.5,445.8 327.9,438.1 325.9,432.0 330.8,427.5 336.4,423.0 342.1,418.6 342.7,411.2 342.1,404.0 339.3,396.8 337.9,391.1 339.3,385.4 343.5,379.7 349.2,372.6 356.3,366.9 363.4,359.8 367.7,351.2 371.9,344.0 372.5,340.2 366.3,341.7 357.7,343.1 352.1,344.0 349.8,341.1 349.2,337.3 343.5,330.9 339.3,328.0 336.4,320.5 333.0,314.5 332.2,309.9 327.9,303.8 325.1,294.3 319.4,284.6 318.8,280.7 312.3,280.3 298.1,278.7 283.9,278.0 281.1,283.6 269.7,276.3 258.3,272.9 255.5,260.7 241.3,261.5 227.1,265.0 218.6,267.1" fill="#f3f3ee" stroke="#d9dcd6" stroke-width="0.5"/><polygon points="367.1,408.3 370.0,418.6 367.7,424.5 365.7,432.0 362.9,441.1 360.6,447.4 355.8,448.9 352.1,445.8 350.6,438.1 352.9,432.0 352.1,423.0 357.7,419.5 363.4,412.7" fill="#f3f3ee" stroke="#d9dcd6" stroke-width="0.5"/><polygon points="326.2,286.3 330.8,297.5 336.4,308.4 339.3,316.0 343.5,322.0 347.8,329.4 350.1,337.3 354.9,337.3 363.4,333.8 374.8,328.0 383.3,324.1 390.4,319.0 396.9,308.4 393.2,304.7 387.6,302.2 387.0,296.5 380.5,303.1 373.4,302.8 372.8,297.5 369.7,295.9 363.4,286.3 369.1,284.0 374.8,291.8 383.3,295.3 389.0,294.3 391.8,299.1 403.2,300.0 425.9,299.4 425.9,249.9 326.2,249.9" fill="#f3f3ee" stroke="#d9dcd6" stroke-width="0.5"/><g filter="url(#b6)" opacity="0.9" clip-path="url(#clandm)"><ellipse cx="62.4" cy="374.0" rx="30" ry="22" fill="#dfe9cf"/><ellipse cx="85.1" cy="447.4" rx="12" ry="26" fill="#e4ecd6"/><ellipse cx="289.6" cy="379.7" rx="34" ry="22" fill="#dde8cc"/><ellipse cx="204.4" cy="351.2" rx="22" ry="8" fill="#e0ead0"/><ellipse cx="318.0" cy="426.0" rx="18" ry="26" fill="#e6edd8"/><ellipse cx="360.6" cy="429.0" rx="5" ry="14" fill="#e6edd8"/></g><path d="M62.4 354.1L65.2 368.3L56.7 371.2L56.7 388.2L42.5 402.5L56.7 414.2L62.4 421.5L62.4 432.0L70.9 444.2L72.3 450.5L63.8 464.4L75.2 475.8M65.2 368.3L73.7 367.5L80.6 362.6M62.4 432.0L49.6 438.1L42.5 438.1M63.8 464.4L61.2 476.8M70.9 444.2L62.4 454.6L63.8 464.4M178.8 313.0L190.2 312.1L190.2 305.3L202.4 293.4L202.4 287.9M190.2 312.1L210.1 300.6L213.5 300.6M210.1 300.6L211.5 328.0L194.4 329.4L193.0 338.5L179.7 338.2M213.5 300.6L239.0 318.4L239.0 326.5L227.1 330.9L211.5 328.0M239.0 318.4L261.2 305.3L269.7 306.9L295.3 317.5L295.3 278.7M261.2 305.3L254.1 284.6L249.8 274.6M269.7 306.9L271.1 325.0L265.4 334.7L268.3 338.2L269.7 345.5L264.6 349.8L259.8 355.5L252.7 360.9M239.0 326.5L237.3 340.5L234.8 355.8M237.3 340.5L247.0 336.8L265.4 334.7M227.1 330.9L227.7 342.6L231.6 356.6M211.5 328.0L211.5 344.6L218.6 359.5M204.4 345.5L203.0 352.6L205.8 361.5M194.4 329.4L204.4 345.5L189.3 348.0M295.3 317.5L295.3 328.8L291.0 337.6L291.9 342.6L304.9 359.8L314.6 364.1L323.7 362.1L329.1 360.9L329.3 345.5L336.7 322.0M295.3 309.9L331.9 309.9M269.7 345.5L291.9 342.6M271.1 325.0L295.3 328.8M304.9 359.8L279.9 364.1L273.1 369.2L264.0 387.1M273.1 369.2L254.9 367.8M314.6 364.1L311.2 378.0L309.5 386.5L314.6 397.4L307.8 400.5L309.5 412.4L295.3 405.4L289.6 411.2L295.3 424.5L299.0 425.4L283.9 426.0L283.9 438.1L283.9 458.2L276.5 459.1M264.0 387.1L261.7 391.1M295.3 405.4L289.6 405.4L289.0 394.8L274.2 390.8L264.0 390.8M260.6 423.9L266.6 424.2L295.3 424.5M283.9 438.1L283.9 446.7L292.4 448.3L299.8 449.3L310.6 438.7L316.0 439.3L318.0 453.0M299.0 425.4L310.6 438.7M299.0 425.4L313.4 418.9L320.8 414.2L320.0 401.4L314.6 397.4M313.4 418.9L320.5 422.1L320.5 432.0L316.0 439.3M320.8 414.2L326.5 407.2L341.8 404.0M326.5 407.2L323.7 401.1L320.0 401.4M311.2 378.0L313.7 376.8L323.4 376.8L333.9 382.5L338.4 387.4M323.4 376.8L323.7 362.1M329.1 360.9L343.5 362.6L343.5 378.8M343.5 362.6L354.9 359.8L363.4 351.2L349.2 341.1M329.3 345.5L347.5 338.2" fill="none" stroke="#cfcfcf" stroke-width="0.5"/><path d="M54.7 291.2V516.3M97.3 291.2V516.3M139.9 291.2V516.3M182.5 291.2V516.3M225.1 291.2V516.3M267.7 291.2V516.3M310.3 291.2V516.3M352.9 291.2V516.3M395.5 291.2V516.3M48.0 332.7H402.6M48.0 375.8H402.6M48.0 418.9H402.6M48.0 465.2H402.6" stroke="#7a8a96" stroke-width="0.4" opacity="0.26" fill="none"/><text x="73.7" y="404.0" font-size="2.6" fill="#9a9a9a" text-anchor="middle">BRAZIL</text><text x="62.4" y="356.4" font-size="2.6" fill="#9a9a9a" text-anchor="middle">Georgetown</text><text x="56.7" y="364.1" font-size="2.6" fill="#9a9a9a" text-anchor="middle">Guyana</text><text x="91.1" y="419.5" font-size="2.6" fill="#9a9a9a" text-anchor="middle">Brasília</text><text x="103.6" y="439.9" font-size="2.6" fill="#9a9a9a" text-anchor="middle">Rio de Janeiro</text><text x="117.8" y="385.1" font-size="2.6" fill="#9a9a9a" text-anchor="middle">Fortaleza</text><text x="117.8" y="410.7" font-size="2.6" fill="#9a9a9a" text-anchor="middle">Salvador</text><text x="81.7" y="463.4" font-size="2.6" fill="#9a9a9a" text-anchor="middle">Porto Alegre</text><text x="67.5" y="478.8" font-size="2.6" fill="#9a9a9a" text-anchor="middle">Montevideo</text><text x="63.5" y="448.3" font-size="2.6" fill="#9a9a9a" text-anchor="middle">Asunción</text><text x="62.4" y="442.7" font-size="2.6" fill="#9a9a9a" text-anchor="middle">PARAGUAY</text><text x="56.7" y="487.3" font-size="2.6" fill="#9a9a9a" text-anchor="middle">ARG</text><text x="204.4" y="337.9" font-size="2.6" fill="#9a9a9a" text-anchor="middle">Bamako</text><text x="221.4" y="325.0" font-size="2.6" fill="#9a9a9a" text-anchor="middle">MALI</text><text x="252.7" y="325.0" font-size="2.6" fill="#9a9a9a" text-anchor="middle">NIGER</text><text x="278.2" y="330.9" font-size="2.6" fill="#9a9a9a" text-anchor="middle">CHAD</text><text x="248.4" y="348.0" font-size="2.6" fill="#9a9a9a" text-anchor="middle">Abuja</text><text x="249.8" y="343.1" font-size="2.6" fill="#9a9a9a" text-anchor="middle">NIGERIA</text><text x="236.8" y="355.2" font-size="2.6" fill="#9a9a9a" text-anchor="middle">Lagos</text><text x="188.8" y="346.3" font-size="2.6" fill="#9a9a9a" text-anchor="middle">Conakry</text><text x="198.7" y="316.0" font-size="2.6" fill="#9a9a9a" text-anchor="middle">MAURITANIA</text><text x="190.2" y="300.6" font-size="2.6" fill="#9a9a9a" text-anchor="middle">WESTERN SAHARA</text><text x="235.6" y="291.1" font-size="2.6" fill="#9a9a9a" text-anchor="middle">ALGERIA</text><text x="275.4" y="294.3" font-size="2.6" fill="#9a9a9a" text-anchor="middle">LIBYA</text><text x="259.8" y="362.9" font-size="2.6" fill="#9a9a9a" text-anchor="middle">Yaoundé</text><text x="286.7" y="354.1" font-size="2.6" fill="#9a9a9a" text-anchor="middle">CENTRAL AFRICAN REPUBLIC</text><text x="210.1" y="352.6" font-size="2.6" fill="#9a9a9a" text-anchor="middle">CÔTE D'IVOIRE</text><text x="276.8" y="409.2" font-size="2.6" fill="#9a9a9a" text-anchor="middle">ANGOLA</text><text x="276.8" y="438.1" font-size="2.6" fill="#9a9a9a" text-anchor="middle">NAMIBIA</text><text x="295.3" y="439.0" font-size="2.6" fill="#9a9a9a" text-anchor="middle">BOTSWANA</text><text x="296.7" y="461.7" font-size="2.6" fill="#9a9a9a" text-anchor="middle">SOUTH AFRICA</text><text x="279.4" y="475.4" font-size="2.6" fill="#9a9a9a" text-anchor="middle">Cape Town</text><text x="306.6" y="418.3" font-size="2.6" fill="#9a9a9a" text-anchor="middle">Lusaka</text><text x="311.7" y="429.0" font-size="2.6" fill="#9a9a9a" text-anchor="middle">ZIMBABWE</text><text x="327.9" y="427.5" font-size="2.6" fill="#9a9a9a" text-anchor="middle">MOZAMBIQUE</text><text x="319.7" y="450.2" font-size="2.6" fill="#9a9a9a" text-anchor="middle">Maputo</text><text x="362.0" y="428.7" font-size="2.6" fill="#9a9a9a" text-anchor="middle">Antananarivo</text><text x="326.5" y="391.1" font-size="2.6" fill="#9a9a9a" text-anchor="middle">TANZANIA</text><text x="292.4" y="382.5" font-size="2.6" fill="#9a9a9a" text-anchor="middle">DR CONGO</text><text x="335.0" y="372.6" font-size="2.6" fill="#9a9a9a" text-anchor="middle">KENYA</text><text x="193.0" y="487.3" font-size="2.6" fill="#9a9a9a" text-anchor="middle">Tristan da Cunha</text><rect x="49.1" y="494.1" width="51.7" height="10.4" fill="#fff" opacity="0.6"/><rect x="49.1" y="504.5" width="41.7" height="11.3" fill="#fff" opacity="0.6"/><path d="M49.1 494.1V515.8M49.1 504.5H100.8V499M49.1 515.8H90.8V510" stroke="#777" stroke-width="0.7" fill="none"/><text x="51" y="502.5" font-size="5.6" fill="#333">2000 km</text><text x="51" y="513.3" font-size="5.6" fill="#333">1000 mi</text>
<rect x="321" y="510.6" width="81.6" height="5.7" fill="#fff" opacity="0.65"/>
<text x="401.6" y="515.2" font-size="4.2" fill="#444" text-anchor="end">Esri, TomTom, Garmin, FAO, NOAA, USGS</text>
</g>
<rect x="48.0" y="291.2" width="354.6" height="225.1" fill="none" stroke="#8a8a8a" stroke-width="0.6"/>
<path d="M54.7 516.3v-3M54.7 291.2v3M97.3 516.3v-3M97.3 291.2v3M139.9 516.3v-3M139.9 291.2v3M182.5 516.3v-3M182.5 291.2v3M225.1 516.3v-3M225.1 291.2v3M267.7 516.3v-3M267.7 291.2v3M310.3 516.3v-3M310.3 291.2v3M352.9 516.3v-3M352.9 291.2v3M395.5 516.3v-3M395.5 291.2v3M48.0 332.7h3M402.6 332.7h-3M48.0 375.8h3M402.6 375.8h-3M48.0 418.9h3M402.6 418.9h-3M48.0 465.2h3M402.6 465.2h-3" stroke="#444" stroke-width="0.6" fill="none"/>
<text x="55.0" y="528.0" font-size="7.6" fill="#333" text-anchor="middle">-60°</text>
<text x="97.6" y="528.0" font-size="7.6" fill="#333" text-anchor="middle">-45°</text>
<text x="140.2" y="528.0" font-size="7.6" fill="#333" text-anchor="middle">-30°</text>
<text x="182.8" y="528.0" font-size="7.6" fill="#333" text-anchor="middle">-15°</text>
<text x="225.4" y="528.0" font-size="7.6" fill="#333" text-anchor="middle">0°</text>
<text x="268.0" y="528.0" font-size="7.6" fill="#333" text-anchor="middle">15°</text>
<text x="310.6" y="528.0" font-size="7.6" fill="#333" text-anchor="middle">30°</text>
<text x="353.2" y="528.0" font-size="7.6" fill="#333" text-anchor="middle">45°</text>
<text x="395.8" y="528.0" font-size="7.6" fill="#333" text-anchor="middle">60°</text>
<text x="45.0" y="335.4" font-size="7.6" fill="#333" text-anchor="end">15°</text>
<text x="45.0" y="378.5" font-size="7.6" fill="#333" text-anchor="end">0°</text>
<text x="45.0" y="421.6" font-size="7.6" fill="#333" text-anchor="end">-15°</text>
<text x="45.0" y="467.9" font-size="7.6" fill="#333" text-anchor="end">-30°</text>
<text x="225.3" y="538.2" font-size="8" fill="#333" text-anchor="middle" textLength="39.0" lengthAdjust="spacingAndGlyphs">Longitude</text>
</g>
<text font-size="8" fill="#333" text-anchor="middle" transform="translate(24.6 404) rotate(-90)" textLength="33.5" lengthAdjust="spacingAndGlyphs">Latitude</text>
<text font-size="11.6" fill="#262626" text-anchor="middle" transform="translate(458.8 403) rotate(-90)" textLength="54" lengthAdjust="spacingAndGlyphs">AOD(440)</text>
<path d="M59.2 339.0L70.0 346.0L93.0 355.0L111.0 363.2L119.3 366.8L122.0 371.0L122.2 377.0L127.7 395.0L129.4 400.0L143.0 412.6L165.0 429.0L180.0 439.0L208.0 450.3L238.5 465.1L266.0 476.6L283.0 481.3L291.0 480.5L301.7 478.2L321.0 473.5L340.0 464.3L348.2 461.5L357.0 455.6L374.0 444.8L382.4 436.2" fill="none" stroke="#111" stroke-width="0.9" stroke-dasharray="1.3 1.5"/>
<circle cx="61.5" cy="341.3" r="2.5" fill="#aa0000"/>
<circle cx="64.5" cy="342.8" r="2.5" fill="#aa0000"/>
<path d="M67.4 343.6L72.6 348.4M67.4 348.4L72.6 343.6" stroke="#111" stroke-width="0.9" fill="none"/>
<circle cx="74.5" cy="346.8" r="2.3" fill="#ffaa00"/>
<circle cx="77.6" cy="348.1" r="2.3" fill="#ff5500"/>
<circle cx="80.5" cy="349.3" r="2.3" fill="#ffaa00"/>
<circle cx="96.2" cy="357.0" r="1.6" fill="#00ffff"/>
<circle cx="94.6" cy="356.0" r="2.1" fill="#ff0000"/>
<circle cx="92.5" cy="355.0" r="2.4" fill="#ffff00"/>
<circle cx="105.5" cy="361.0" r="2.3" fill="#0055ff"/>
<circle cx="111.0" cy="363.2" r="4.8" fill="#0000ff"/>
<path d="M116.7 364.4L121.9 369.2M116.7 369.2L121.9 364.4" stroke="#111" stroke-width="0.9" fill="none"/>
<circle cx="121.8" cy="369.6" r="2.4" fill="#0000ff"/>
<rect x="118.7" y="373.7" width="7" height="7" fill="#aa0000"/>
<path d="M126.8 397.6L132.0 402.4M126.8 402.4L132.0 397.6" stroke="#111" stroke-width="0.9" fill="none"/>
<circle cx="135.2" cy="404.8" r="4.6" fill="#55ffaa"/>
<circle cx="139.0" cy="408.3" r="4.6" fill="#55ffaa"/>
<circle cx="147.0" cy="415.0" r="4.6" fill="#55ffaa"/>
<rect x="139.9" y="409.4" width="6.5" height="6.5" fill="#ff5500"/>
<circle cx="151.0" cy="418.5" r="4.6" fill="#00ffff"/>
<circle cx="155.3" cy="421.8" r="4.6" fill="#00ffff"/>
<circle cx="160.0" cy="425.5" r="4.6" fill="#55ffaa"/>
<circle cx="165.3" cy="429.3" r="4.6" fill="#55ffaa"/>
<circle cx="170.0" cy="432.3" r="4.6" fill="#00ffff"/>
<circle cx="174.3" cy="435.2" r="4.6" fill="#00ffff"/>
<circle cx="179.5" cy="438.5" r="5.3" fill="#0055ff"/>
<circle cx="183.5" cy="441.3" r="5.1" fill="#0055ff"/>
<circle cx="189.0" cy="444.6" r="5.1" fill="#0000ff"/>
<circle cx="195.0" cy="446.5" r="5.1" fill="#0055ff"/>
<circle cx="201.0" cy="448.4" r="5.1" fill="#0000ff"/>
<circle cx="207.0" cy="450.3" r="5.1" fill="#0000ff"/>
<circle cx="213.8" cy="453.4" r="2.0" fill="#96502a"/>
<circle cx="219.0" cy="456.0" r="5.5" fill="#0000ff"/>
<circle cx="224.0" cy="458.2" r="5.5" fill="#0000ff"/>
<circle cx="229.0" cy="460.5" r="5.5" fill="#0000ff"/>
<circle cx="233.5" cy="462.6" r="5.1" fill="#0000ff"/>
<path d="M235.9 462.7L241.1 467.5M235.9 467.5L241.1 462.7" stroke="#111" stroke-width="0.9" fill="none"/>
<circle cx="242.7" cy="467.1" r="2.3" fill="#0055ff"/>
<circle cx="247.0" cy="468.6" r="2.4" fill="#00ffff"/>
<circle cx="250.0" cy="470.0" r="2.4" fill="#00ffff"/>
<circle cx="255.2" cy="472.7" r="5.1" fill="#00aaff"/>
<circle cx="259.2" cy="474.3" r="5.1" fill="#00aaff"/>
<circle cx="263.0" cy="475.6" r="5.1" fill="#0055ff"/>
<circle cx="266.9" cy="476.8" r="5.1" fill="#00aaff"/>
<rect x="271.0" y="475.4" width="8.6" height="8.6" fill="#00ffff"/>
<circle cx="282.4" cy="481.3" r="2.0" fill="#aa0000"/>
<circle cx="285.6" cy="481.3" r="2.0" fill="#ffff00"/>
<path d="M288.4 478.1L293.6 482.9M288.4 482.9L293.6 478.1" stroke="#111" stroke-width="0.9" fill="none"/>
<circle cx="299.3" cy="478.8" r="2.5" fill="#aaff55"/>
<circle cx="303.0" cy="478.0" r="2.5" fill="#ffff00"/>
<circle cx="319.3" cy="473.9" r="2.5" fill="#00aaff"/>
<circle cx="322.5" cy="473.1" r="2.5" fill="#00aaff"/>
<circle cx="338.4" cy="465.3" r="2.3" fill="#00ffff"/>
<circle cx="341.6" cy="463.8" r="2.3" fill="#00aaff"/>
<path d="M345.6 459.1L350.8 463.9M345.6 463.9L350.8 459.1" stroke="#111" stroke-width="0.9" fill="none"/>
<circle cx="356.9" cy="455.6" r="2.3" fill="#aa0000"/>
<circle cx="360.2" cy="453.8" r="2.3" fill="#55ffaa"/>
<circle cx="362.8" cy="452.5" r="2.0" fill="#00ffff"/>
<circle cx="372.6" cy="445.6" r="2.3" fill="#aa0000"/>
<circle cx="375.0" cy="444.2" r="2.3" fill="#aa0000"/>
<circle cx="382.4" cy="436.2" r="5.1" fill="#ffaa00"/>
<path d="M491.2 339.0L502.0 346.0L525.0 355.0L543.0 363.2L551.3 366.8L554.0 371.0L554.2 377.0L559.7 395.0L561.4 400.0L575.0 412.6L597.0 429.0L612.0 439.0L640.0 450.3L670.5 465.1L698.0 476.6L715.0 481.3L723.0 480.5L733.7 478.2L753.0 473.5L772.0 464.3L780.2 461.5L789.0 455.6L806.0 444.8L814.4 436.2" fill="none" stroke="#111" stroke-width="0.9" stroke-dasharray="1.3 1.5"/>
<circle cx="492.5" cy="340.5" r="2.5" fill="#0bf4ff"/>
<circle cx="495.5" cy="342.0" r="2.5" fill="#0bf4ff"/>
<path d="M499.1 342.7L504.3 347.5M499.1 347.5L504.3 342.7" stroke="#111" stroke-width="0.9" fill="none"/>
<circle cx="506.0" cy="346.8" r="2.5" fill="#0bf4ff"/>
<circle cx="509.3" cy="348.1" r="2.5" fill="#0bf4ff"/>
<circle cx="512.5" cy="349.5" r="2.5" fill="#0bf4ff"/>
<circle cx="524.0" cy="354.5" r="2.2" fill="#609fff"/>
<circle cx="527.0" cy="356.0" r="2.2" fill="#0bf4ff"/>
<circle cx="537.5" cy="361.0" r="2.2" fill="#609fff"/>
<circle cx="542.7" cy="363.2" r="4.8" fill="#f40bff"/>
<path d="M548.1 364.4L553.3 369.2M548.1 369.2L553.3 364.4" stroke="#111" stroke-width="0.9" fill="none"/>
<circle cx="553.5" cy="370.2" r="2.5" fill="#609fff"/>
<rect x="550.3" y="373.7" width="7" height="7" fill="#f40bff"/>
<path d="M557.6 398.1L562.8 402.9M557.6 402.9L562.8 398.1" stroke="#111" stroke-width="0.9" fill="none"/>
<circle cx="566.9" cy="405.0" r="4.6" fill="#609fff"/>
<circle cx="570.5" cy="408.3" r="4.6" fill="#609fff"/>
<circle cx="574.0" cy="411.3" r="4.6" fill="#609fff"/>
<circle cx="578.0" cy="414.5" r="4.6" fill="#4ab5ff"/>
<circle cx="583.6" cy="418.4" r="4.8" fill="#609fff"/>
<circle cx="588.0" cy="421.5" r="4.8" fill="#8a75ff"/>
<circle cx="592.0" cy="424.5" r="4.8" fill="#8a75ff"/>
<circle cx="596.0" cy="427.5" r="4.8" fill="#9f60ff"/>
<circle cx="600.0" cy="430.5" r="4.8" fill="#8a75ff"/>
<circle cx="603.6" cy="433.5" r="4.8" fill="#9f60ff"/>
<circle cx="608.0" cy="436.8" r="5.1" fill="#609fff"/>
<circle cx="611.7" cy="440.1" r="5.5" fill="#609fff"/>
<circle cx="617.0" cy="443.0" r="4.8" fill="#609fff"/>
<rect x="619.4" y="441.6" width="7.5" height="7.5" fill="#f40bff"/>
<circle cx="629.0" cy="446.8" r="5.0" fill="#609fff"/>
<circle cx="633.0" cy="448.0" r="5.0" fill="#609fff"/>
<rect x="636.3" y="446.9" width="7" height="7" fill="#b54aff"/>
<circle cx="646.5" cy="453.4" r="2.6" fill="#0bf4ff"/>
<circle cx="652.0" cy="456.5" r="5.0" fill="#609fff"/>
<circle cx="657.0" cy="459.3" r="5.5" fill="#9f60ff"/>
<circle cx="661.8" cy="461.8" r="5.5" fill="#9f60ff"/>
<path d="M667.9 463.1L673.1 467.9M667.9 467.9L673.1 463.1" stroke="#111" stroke-width="0.9" fill="none"/>
<circle cx="675.0" cy="467.2" r="2.3" fill="#0bf4ff"/>
<circle cx="678.5" cy="468.5" r="2.5" fill="#0bf4ff"/>
<circle cx="687.0" cy="472.2" r="5.0" fill="#0bf4ff"/>
<circle cx="690.5" cy="473.5" r="5.0" fill="#0bf4ff"/>
<circle cx="695.2" cy="475.2" r="5.0" fill="#609fff"/>
<circle cx="700.0" cy="477.0" r="5.0" fill="#35caff"/>
<circle cx="705.0" cy="479.0" r="5.0" fill="#0bf4ff"/>
<circle cx="708.6" cy="479.8" r="5.0" fill="#0bf4ff"/>
<circle cx="716.9" cy="481.3" r="2.3" fill="#9f60ff"/>
<path d="M720.7 478.4L725.9 483.2M720.7 483.2L725.9 478.4" stroke="#111" stroke-width="0.9" fill="none"/>
<circle cx="731.7" cy="478.8" r="2.5" fill="#0bf4ff"/>
<circle cx="735.9" cy="478.2" r="2.5" fill="#609fff"/>
<circle cx="752.0" cy="474.0" r="2.5" fill="#609fff"/>
<circle cx="755.0" cy="473.0" r="2.5" fill="#609fff"/>
<circle cx="770.5" cy="465.8" r="2.3" fill="#0bf4ff"/>
<circle cx="774.0" cy="464.3" r="2.3" fill="#0bf4ff"/>
<path d="M778.4 458.9L783.6 463.7M778.4 463.7L783.6 458.9" stroke="#111" stroke-width="0.9" fill="none"/>
<circle cx="789.0" cy="456.0" r="2.3" fill="#0bf4ff"/>
<circle cx="793.5" cy="453.4" r="2.5" fill="#609fff"/>
<circle cx="806.5" cy="445.1" r="2.5" fill="#0bf4ff"/>
<circle cx="815.2" cy="436.2" r="5.1" fill="#9f60ff"/>
<path d="M59.20 338.60C57.52 334.15 54.40 332.30 54.40 328.70A4.80 4.80 0 1 1 64.00 328.70C64.00 332.30 60.88 334.15 59.20 338.60Z" fill="#e8161c"/>
<circle cx="59.20" cy="328.70" r="1.90" fill="#fff"/>
<path d="M127.70 395.40C126.02 390.94 122.90 389.10 122.90 385.50A4.80 4.80 0 1 1 132.50 385.50C132.50 389.10 129.38 390.94 127.70 395.40Z" fill="#e8161c"/>
<circle cx="127.70" cy="385.50" r="1.90" fill="#fff"/>
<path d="M384.40 432.60C382.72 428.15 379.60 426.30 379.60 422.70A4.80 4.80 0 1 1 389.20 422.70C389.20 426.30 386.08 428.15 384.40 432.60Z" fill="#e8161c"/>
<circle cx="384.40" cy="422.70" r="1.90" fill="#fff"/>
<path d="M488.70 337.60C487.02 333.42 483.90 331.90 483.90 328.30A4.80 4.80 0 1 1 493.50 328.30C493.50 331.90 490.38 333.42 488.70 337.60Z" fill="#e8161c"/>
<circle cx="488.70" cy="328.30" r="1.90" fill="#fff"/>
<path d="M560.20 395.00C558.52 390.59 555.40 388.80 555.40 385.20A4.80 4.80 0 1 1 565.00 385.20C565.00 388.80 561.88 390.59 560.20 395.00Z" fill="#e8161c"/>
<circle cx="560.20" cy="385.20" r="1.90" fill="#fff"/>
<path d="M816.60 432.90C814.92 428.76 811.80 427.30 811.80 423.70A4.80 4.80 0 1 1 821.40 423.70C821.40 427.30 818.28 428.76 816.60 432.90Z" fill="#e8161c"/>
<circle cx="816.60" cy="423.70" r="1.90" fill="#fff"/>
<text x="76.7" y="343.8" font-size="9.4" fill="#1e262c" textLength="46.3" lengthAdjust="spacingAndGlyphs">2023-05-15</text>
<text x="70.0" y="375.8" font-size="9.4" fill="#1e262c" textLength="46.0" lengthAdjust="spacingAndGlyphs">2023-05-12</text>
<text x="79.3" y="403.9" font-size="9.4" fill="#1e262c" textLength="46.7" lengthAdjust="spacingAndGlyphs">2023-05-09</text>
<text x="106.8" y="433.5" font-size="9.4" fill="#1e262c" textLength="47.2" lengthAdjust="spacingAndGlyphs">2023-05-06</text>
<text x="145.3" y="455.4" font-size="9.4" fill="#1e262c" textLength="46.8" lengthAdjust="spacingAndGlyphs">2023-05-03</text>
<text x="190.9" y="474.8" font-size="9.4" fill="#1e262c" textLength="46.8" lengthAdjust="spacingAndGlyphs">2023-04-30</text>
<text x="243.5" y="491.3" font-size="9.4" fill="#1e262c" textLength="46.8" lengthAdjust="spacingAndGlyphs">2023-04-27</text>
<text x="298.4" y="459.3" font-size="9.4" fill="#1e262c" textLength="46.4" lengthAdjust="spacingAndGlyphs">2023-04-24</text>
<text x="331.5" y="438.7" font-size="9.4" fill="#1e262c" textLength="46.2" lengthAdjust="spacingAndGlyphs">2023-04-21</text>
<text x="504.2" y="343.4" font-size="9.4" fill="#1e262c" textLength="46.3" lengthAdjust="spacingAndGlyphs">2023-05-15</text>
<text x="502.6" y="375.8" font-size="9.4" fill="#1e262c" textLength="46.2" lengthAdjust="spacingAndGlyphs">2023-05-12</text>
<text x="510.6" y="403.9" font-size="9.4" fill="#1e262c" textLength="46.3" lengthAdjust="spacingAndGlyphs">2023-05-09</text>
<text x="536.0" y="431.8" font-size="9.4" fill="#1e262c" textLength="46.2" lengthAdjust="spacingAndGlyphs">2023-05-06</text>
<text x="570.2" y="454.8" font-size="9.4" fill="#1e262c" textLength="46.8" lengthAdjust="spacingAndGlyphs">2023-05-03</text>
<text x="620.9" y="476.0" font-size="9.4" fill="#1e262c" textLength="46.8" lengthAdjust="spacingAndGlyphs">2023-04-30</text>
<text x="676.0" y="492.8" font-size="9.4" fill="#1e262c" textLength="47.0" lengthAdjust="spacingAndGlyphs">2023-04-27</text>
<text x="730.0" y="460.1" font-size="9.4" fill="#1e262c" textLength="46.8" lengthAdjust="spacingAndGlyphs">2023-04-24</text>
<text x="763.1" y="439.7" font-size="9.4" fill="#1e262c" textLength="46.6" lengthAdjust="spacingAndGlyphs">2023-04-21</text>
<path d="M101.5 432.6h4.2" stroke="#333" stroke-width="0.8"/>
<text x="60.0" y="309.2" font-size="20" fill="#000" font-weight="bold" textLength="25.4" lengthAdjust="spacingAndGlyphs">(b)</text>
<text x="493.4" y="309.2" font-size="20" fill="#000" font-weight="bold" textLength="22.5" lengthAdjust="spacingAndGlyphs">(c)</text>
<text x="64.7" y="327.6" font-size="15" fill="#e3242b" textLength="63.8" lengthAdjust="spacingAndGlyphs" stroke="#e3242b" stroke-width="0.3">Barbados</text>
<text x="134.9" y="388.7" font-size="15" fill="#e3242b" textLength="40.7" lengthAdjust="spacingAndGlyphs" stroke="#e3242b" stroke-width="0.3">Recife</text>
<text x="316.8" y="415.5" font-size="15" fill="#e3242b" textLength="76.0" lengthAdjust="spacingAndGlyphs" stroke="#e3242b" stroke-width="0.3">La Réunion</text>
<text x="495.0" y="326.8" font-size="15" fill="#e3242b" textLength="63.9" lengthAdjust="spacingAndGlyphs" stroke="#e3242b" stroke-width="0.3">Barbados</text>
<text x="565.7" y="384.2" font-size="15" fill="#e3242b" textLength="40.4" lengthAdjust="spacingAndGlyphs" stroke="#e3242b" stroke-width="0.3">Recife</text>
<text x="736.4" y="426.4" font-size="15" fill="#e3242b" textLength="75.5" lengthAdjust="spacingAndGlyphs" stroke="#e3242b" stroke-width="0.3">La Réunion</text>
<rect x="406.1" y="496.52" width="11.3" height="18.98" fill="#0000aa"/>
<rect x="406.1" y="477.83" width="11.3" height="18.98" fill="#0000ff"/>
<rect x="406.1" y="459.15" width="11.3" height="18.98" fill="#0055ff"/>
<rect x="406.1" y="440.47" width="11.3" height="18.98" fill="#00aaff"/>
<rect x="406.1" y="421.78" width="11.3" height="18.98" fill="#00ffff"/>
<rect x="406.1" y="403.10" width="11.3" height="18.98" fill="#55ffaa"/>
<rect x="406.1" y="384.42" width="11.3" height="18.98" fill="#aaff55"/>
<rect x="406.1" y="365.73" width="11.3" height="18.98" fill="#ffff00"/>
<rect x="406.1" y="347.05" width="11.3" height="18.98" fill="#ffaa00"/>
<rect x="406.1" y="328.37" width="11.3" height="18.98" fill="#ff5500"/>
<rect x="406.1" y="309.68" width="11.3" height="18.98" fill="#ff0000"/>
<rect x="406.1" y="291.00" width="11.3" height="18.98" fill="#aa0000"/>
<text x="421.4" y="519.6" font-size="11.6" fill="#262626">0</text>
<text x="421.4" y="482.2" font-size="11.6" fill="#262626">0.04</text>
<text x="421.4" y="444.9" font-size="11.6" fill="#262626">0.08</text>
<text x="421.4" y="407.5" font-size="11.6" fill="#262626">0.12</text>
<text x="421.4" y="370.1" font-size="11.6" fill="#262626">0.16</text>
<text x="421.4" y="332.8" font-size="11.6" fill="#262626">0.2</text>
<text x="421.4" y="295.4" font-size="11.6" fill="#262626">0.24</text>
<rect x="842.3" y="497.51" width="10.8" height="19.09" fill="#0bf4ff"/>
<rect x="842.3" y="478.72" width="10.8" height="19.09" fill="#20dfff"/>
<rect x="842.3" y="459.92" width="10.8" height="19.09" fill="#35caff"/>
<rect x="842.3" y="441.13" width="10.8" height="19.09" fill="#4ab5ff"/>
<rect x="842.3" y="422.34" width="10.8" height="19.09" fill="#609fff"/>
<rect x="842.3" y="403.55" width="10.8" height="19.09" fill="#758aff"/>
<rect x="842.3" y="384.76" width="10.8" height="19.09" fill="#8a75ff"/>
<rect x="842.3" y="365.97" width="10.8" height="19.09" fill="#9f60ff"/>
<rect x="842.3" y="347.18" width="10.8" height="19.09" fill="#b54aff"/>
<rect x="842.3" y="328.38" width="10.8" height="19.09" fill="#ca35ff"/>
<rect x="842.3" y="309.59" width="10.8" height="19.09" fill="#df20ff"/>
<rect x="842.3" y="290.80" width="10.8" height="19.09" fill="#f40bff"/>
<text x="857.3" y="520.7" font-size="11.6" fill="#262626">0</text>
<text x="857.3" y="483.1" font-size="11.6" fill="#262626">0.2</text>
<text x="857.3" y="445.5" font-size="11.6" fill="#262626">0.4</text>
<text x="857.3" y="407.9" font-size="11.6" fill="#262626">0.6</text>
<text x="857.3" y="370.4" font-size="11.6" fill="#262626">0.8</text>
<text x="857.3" y="332.8" font-size="11.6" fill="#262626">1</text>
<text x="857.3" y="295.2" font-size="11.6" fill="#262626">1.2</text>
<text font-size="11.6" fill="#262626" text-anchor="middle" transform="translate(888.6 402) rotate(-90)" textLength="79.5" lengthAdjust="spacingAndGlyphs">EAE(440/870)</text>
<rect x="296.4" y="298.4" width="94.1" height="89.3" fill="#fff" stroke="#6a2ea2" stroke-width="2.8"/>
<text x="303.4" y="315.4" font-size="13.6" fill="#7030a0" font-weight="bold" textLength="74.3" lengthAdjust="spacingAndGlyphs">Photometer</text>
<circle cx="389.7" cy="310.4" r="9.7" fill="#6a2ea2"/>
<text x="389.7" y="315.6" font-size="14.5" fill="#fff" text-anchor="middle" font-weight="bold">B</text>
<circle cx="307.5" cy="328.1" r="2.1" fill="#fff" stroke="#2a3f5a" stroke-width="0.8"/>
<text x="315.0" y="332.3" font-size="12.2" fill="#222" textLength="34.3" lengthAdjust="spacingAndGlyphs">Sun L1</text>
<circle cx="307.2" cy="343.8" r="4.3" fill="#fff" stroke="#2a3f5a" stroke-width="0.8"/>
<text x="315.0" y="348.1" font-size="12.2" fill="#222" textLength="44.7" lengthAdjust="spacingAndGlyphs">Sun L1.5</text>
<rect x="305.6" y="357.9" width="4.6" height="4.6" fill="#fff" stroke="#222" stroke-width="1.1"/>
<text x="315.0" y="363.8" font-size="12.2" fill="#222" textLength="46.0" lengthAdjust="spacingAndGlyphs">Moon L1</text>
<rect x="303.2" y="371.4" width="8.6" height="8.6" fill="#fff" stroke="#222" stroke-width="0.8"/>
<text x="315.0" y="379.8" font-size="12.2" fill="#222" textLength="56.7" lengthAdjust="spacingAndGlyphs">Moon L1.5</text>
<rect x="641.5" y="299.4" width="191.2" height="79.6" fill="#fff" stroke="#6a2ea2" stroke-width="2.6"/>
<text x="663.7" y="316.9" font-size="13.6" fill="#1a1a1a" textLength="146.0" lengthAdjust="spacingAndGlyphs" xml:space="preserve">AOD(440) = 0.08 ± 0.04</text>
<text x="663.7" y="334.8" font-size="13.6" fill="#1a1a1a" textLength="146.0" lengthAdjust="spacingAndGlyphs" xml:space="preserve">AOD(532) = 0.07 ± 0.03</text>
<text x="663.7" y="352.8" font-size="13.6" fill="#1a1a1a" textLength="146.0" lengthAdjust="spacingAndGlyphs" xml:space="preserve">AOD(870) = 0.05 ± 0.03</text>
<text x="653.7" y="370.7" font-size="13.6" fill="#1a1a1a" textLength="166.0" lengthAdjust="spacingAndGlyphs" xml:space="preserve">EAE(440/870) =  0.53 ± 0.2</text>
</svg>
</body></html>
